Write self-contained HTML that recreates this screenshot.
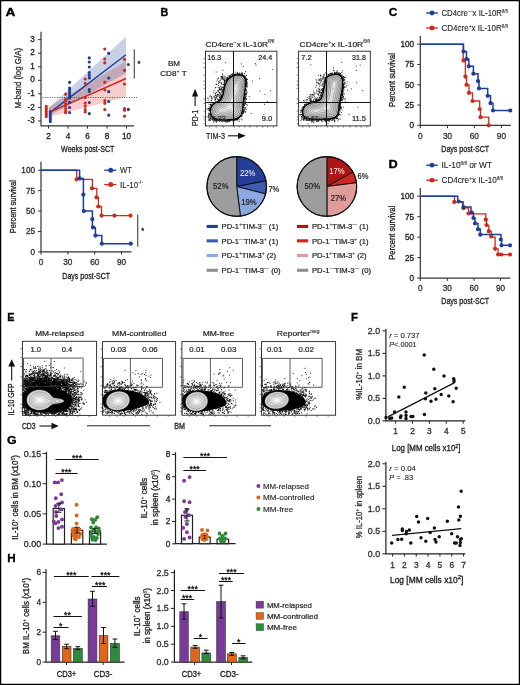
<!DOCTYPE html>
<html><head><meta charset="utf-8"><style>
html,body{margin:0;padding:0;background:#fff;}
svg{display:block;font-family:"Liberation Sans", sans-serif;}
</style></head><body>
<svg width="520" height="685" viewBox="0 0 520 685">
<rect x="0" y="0" width="520" height="685" fill="#fff"/>
<text x="5.45" y="16.2" font-size="11.8" font-weight="bold" fill="#000" stroke="#000" stroke-width="0.35" textLength="9.90" lengthAdjust="spacingAndGlyphs">A</text>
<text x="160.45" y="15.8" font-size="11.8" font-weight="bold" fill="#000" stroke="#000" stroke-width="0.35" textLength="7.80" lengthAdjust="spacingAndGlyphs">B</text>
<text x="388.84999999999997" y="15.9" font-size="11.8" font-weight="bold" fill="#000" stroke="#000" stroke-width="0.35" textLength="8.60" lengthAdjust="spacingAndGlyphs">C</text>
<text x="388.45" y="167.8" font-size="11.8" font-weight="bold" fill="#000" stroke="#000" stroke-width="0.35" textLength="9.20" lengthAdjust="spacingAndGlyphs">D</text>
<text x="7.3500000000000005" y="320.6" font-size="11.8" font-weight="bold" fill="#000" stroke="#000" stroke-width="0.35" textLength="7.20" lengthAdjust="spacingAndGlyphs">E</text>
<text x="350.95" y="320.6" font-size="11.8" font-weight="bold" fill="#000" stroke="#000" stroke-width="0.35" textLength="6.90" lengthAdjust="spacingAndGlyphs">F</text>
<text x="6.95" y="443.6" font-size="11.8" font-weight="bold" fill="#000" stroke="#000" stroke-width="0.35" textLength="9.60" lengthAdjust="spacingAndGlyphs">G</text>
<text x="7.3500000000000005" y="561.7" font-size="11.8" font-weight="bold" fill="#000" stroke="#000" stroke-width="0.35" textLength="8.40" lengthAdjust="spacingAndGlyphs">H</text>
<polygon points="48.7,108 126,36.5 126,73.2 48.7,116" fill="#c9d1e7"/>
<polygon points="48.7,107 126,61.3 126,96.9 48.7,117" fill="#f3c6c2" fill-opacity="0.85" style="mix-blend-mode:multiply"/>
<line x1="42.5" y1="97.5" x2="137" y2="97.5" stroke="#444" stroke-width="0.9" stroke-dasharray="1 1.4"/>
<line x1="51.5" y1="111.4" x2="126" y2="54.8" stroke="#1f3d9a" stroke-width="1.4"/>
<line x1="51.5" y1="111.4" x2="126" y2="78.5" stroke="#d2281c" stroke-width="1.4"/>
<path d="M46.3 106.3h0M46.3 108.3h0M46.3 110.0h0M46.3 111.5h0M46.3 113.0h0M46.3 114.6h0M46.3 116.6h0M65.6 94.2h0M65.6 99.6h0M65.6 101.0h0M65.6 104.0h0M65.6 106.0h0M65.6 108.3h0M65.6 111.0h0M65.6 112.7h0M85.2 79.0h0M85.2 83.3h0M85.2 97.5h0M85.2 103.0h0M85.2 106.2h0M85.2 109.6h0M85.2 112.0h0M104.8 49.0h0M104.8 59.0h0M104.8 62.8h0M104.8 82.2h0M104.8 89.8h0M104.8 100.6h0M104.8 103.3h0M104.8 109.6h0M124.5 59.4h0M124.5 70.3h0M124.5 84.0h0M124.5 108.5h0M124.5 110.2h0M124.5 116.2h0" stroke="#d2281c" stroke-width="3.2" stroke-linecap="round" fill="none"/>
<path d="M50.3 111.7h0M50.3 113.3h0M50.3 115.0h0M50.3 116.6h0M50.3 118.2h0M50.3 119.8h0M50.3 121.5h0M69.6 82.3h0M69.6 88.0h0M69.6 89.8h0M69.6 92.0h0M69.6 94.0h0M69.6 96.0h0M69.6 98.0h0M69.6 102.3h0M69.6 107.5h0M69.6 112.5h0M89.3 57.9h0M89.3 62.0h0M89.3 67.0h0M89.3 72.5h0M89.3 75.4h0M89.3 78.0h0M89.3 89.6h0M89.3 91.5h0M89.3 102.5h0M89.3 113.6h0M108.7 53.3h0M108.7 78.0h0M108.7 91.7h0M108.7 101.5h0M108.7 115.2h0M128.3 64.5h0M128.3 109.4h0" stroke="#1f3d9a" stroke-width="3.2" stroke-linecap="round" fill="none"/>
<path d="M41 31.8V125.8H134" stroke="#333" stroke-width="1.2" fill="none"/>
<line x1="38" y1="120.95" x2="41" y2="120.95" stroke="#333" stroke-width="1"/>
<text x="34.8" y="123.05" font-size="8.2" text-anchor="end" fill="#222" stroke="#222" stroke-width="0.32">-3</text>
<line x1="38" y1="107.4" x2="41" y2="107.4" stroke="#333" stroke-width="1"/>
<text x="34.8" y="109.5" font-size="8.2" text-anchor="end" fill="#222" stroke="#222" stroke-width="0.32">-2</text>
<line x1="38" y1="93.85" x2="41" y2="93.85" stroke="#333" stroke-width="1"/>
<text x="34.8" y="95.94999999999999" font-size="8.2" text-anchor="end" fill="#222" stroke="#222" stroke-width="0.32">-1</text>
<line x1="38" y1="80.3" x2="41" y2="80.3" stroke="#333" stroke-width="1"/>
<text x="34.8" y="82.39999999999999" font-size="8.2" text-anchor="end" fill="#222" stroke="#222" stroke-width="0.32">0</text>
<line x1="38" y1="66.75" x2="41" y2="66.75" stroke="#333" stroke-width="1"/>
<text x="34.8" y="68.85" font-size="8.2" text-anchor="end" fill="#222" stroke="#222" stroke-width="0.32">1</text>
<line x1="38" y1="53.199999999999996" x2="41" y2="53.199999999999996" stroke="#333" stroke-width="1"/>
<text x="34.8" y="55.3" font-size="8.2" text-anchor="end" fill="#222" stroke="#222" stroke-width="0.32">2</text>
<line x1="38" y1="39.64999999999999" x2="41" y2="39.64999999999999" stroke="#333" stroke-width="1"/>
<text x="34.8" y="41.74999999999999" font-size="8.2" text-anchor="end" fill="#222" stroke="#222" stroke-width="0.32">3</text>
<line x1="48.5" y1="125.8" x2="48.5" y2="128.6" stroke="#333" stroke-width="1"/>
<text x="48.5" y="139.2" font-size="8.2" text-anchor="middle" fill="#222" stroke="#222" stroke-width="0.32">2</text>
<line x1="68.0" y1="125.8" x2="68.0" y2="128.6" stroke="#333" stroke-width="1"/>
<text x="68.0" y="139.2" font-size="8.2" text-anchor="middle" fill="#222" stroke="#222" stroke-width="0.32">4</text>
<line x1="87.5" y1="125.8" x2="87.5" y2="128.6" stroke="#333" stroke-width="1"/>
<text x="87.5" y="139.2" font-size="8.2" text-anchor="middle" fill="#222" stroke="#222" stroke-width="0.32">6</text>
<line x1="107.0" y1="125.8" x2="107.0" y2="128.6" stroke="#333" stroke-width="1"/>
<text x="107.0" y="139.2" font-size="8.2" text-anchor="middle" fill="#222" stroke="#222" stroke-width="0.32">8</text>
<line x1="126.5" y1="125.8" x2="126.5" y2="128.6" stroke="#333" stroke-width="1"/>
<text x="126.5" y="139.2" font-size="8.2" text-anchor="middle" fill="#222" stroke="#222" stroke-width="0.32">10</text>
<text x="87.7" y="152.4" font-size="9.5" text-anchor="middle" fill="#222" stroke="#222" stroke-width="0.32" textLength="53.2" lengthAdjust="spacingAndGlyphs">Weeks post-SCT</text>
<text x="21.5" y="78.2" font-size="8.6" text-anchor="middle" fill="#333" stroke="#333" stroke-width="0.32" textLength="60.4" lengthAdjust="spacingAndGlyphs" transform="rotate(-90 21.5 78.2)">M-band (log G/A)</text>
<line x1="134.3" y1="49.2" x2="134.3" y2="78.6" stroke="#444" stroke-width="1.1"/>
<text x="139.0" y="65.8" font-size="7.5" text-anchor="middle" fill="#111" stroke="#111" stroke-width="0.35">*</text>
<path d="M41.0 170.2 76.7 170.2 76.7 179.3 92.4 179.3 92.4 188.3 96.8 188.3 96.8 197.4 98.4 197.4 98.4 206.5 101.5 206.5 101.5 215.6 130.8 215.6" stroke="#d2281c" stroke-width="1.3" fill="none"/>
<path d="M41.0 170.2 79.6 170.2 79.6 178.4 83.4 178.4 83.4 211.1 92.4 211.1 92.4 227.4 95.4 227.4 95.4 235.6 101.8 235.6 101.8 243.7 130.8 243.7" stroke="#1f3d9a" stroke-width="1.5" fill="none"/>
<path d="M76.5 179.3h0M92.0 188.3h0M96.5 197.4h0M98.2 206.5h0M101.5 215.6h0M114.5 215.6h0M130.5 215.6h0" stroke="#d2281c" stroke-width="4.2" stroke-linecap="round" fill="none"/>
<path d="M79.6 178.4h0M83.4 194.7h0M83.8 211.1h0M92.3 219.2h0M93.0 227.4h0M95.4 235.6h0M101.8 243.7h0M130.8 243.7h0" stroke="#1f3d9a" stroke-width="4.2" stroke-linecap="round" fill="none"/>
<path d="M41 161.8V251.9H131.5" stroke="#333" stroke-width="1.2" fill="none"/>
<line x1="38" y1="251.9" x2="41" y2="251.9" stroke="#333" stroke-width="1"/>
<text x="35" y="254.8" font-size="8.2" text-anchor="end" fill="#333" stroke="#333" stroke-width="0.32">0</text>
<line x1="38" y1="231.47500000000002" x2="41" y2="231.47500000000002" stroke="#333" stroke-width="1"/>
<text x="35" y="234.37500000000003" font-size="8.2" text-anchor="end" fill="#333" stroke="#333" stroke-width="0.32">25</text>
<line x1="38" y1="211.05" x2="41" y2="211.05" stroke="#333" stroke-width="1"/>
<text x="35" y="213.95000000000002" font-size="8.2" text-anchor="end" fill="#333" stroke="#333" stroke-width="0.32">50</text>
<line x1="38" y1="190.625" x2="41" y2="190.625" stroke="#333" stroke-width="1"/>
<text x="35" y="193.525" font-size="8.2" text-anchor="end" fill="#333" stroke="#333" stroke-width="0.32">75</text>
<line x1="38" y1="170.20000000000002" x2="41" y2="170.20000000000002" stroke="#333" stroke-width="1"/>
<text x="35" y="173.10000000000002" font-size="8.2" text-anchor="end" fill="#333" stroke="#333" stroke-width="0.32">100</text>
<line x1="41.0" y1="251.9" x2="41.0" y2="254.7" stroke="#333" stroke-width="1"/>
<text x="41.0" y="265.3" font-size="8.2" text-anchor="middle" fill="#333" stroke="#333" stroke-width="0.32">0</text>
<line x1="67.85" y1="251.9" x2="67.85" y2="254.7" stroke="#333" stroke-width="1"/>
<text x="67.85" y="265.3" font-size="8.2" text-anchor="middle" fill="#333" stroke="#333" stroke-width="0.32">30</text>
<line x1="94.7" y1="251.9" x2="94.7" y2="254.7" stroke="#333" stroke-width="1"/>
<text x="94.7" y="265.3" font-size="8.2" text-anchor="middle" fill="#333" stroke="#333" stroke-width="0.32">60</text>
<line x1="121.55" y1="251.9" x2="121.55" y2="254.7" stroke="#333" stroke-width="1"/>
<text x="121.55" y="265.3" font-size="8.2" text-anchor="middle" fill="#333" stroke="#333" stroke-width="0.32">90</text>
<text x="86.2" y="279.1" font-size="9.5" text-anchor="middle" fill="#222" stroke="#222" stroke-width="0.32" textLength="47.8" lengthAdjust="spacingAndGlyphs">Days post-SCT</text>
<text x="15.6" y="206.7" font-size="9.2" text-anchor="middle" fill="#222" stroke="#222" stroke-width="0.32" textLength="53" lengthAdjust="spacingAndGlyphs" transform="rotate(-90 15.6 206.7)">Percent survival</text>
<line x1="104.2" y1="170.2" x2="116.3" y2="170.2" stroke="#1f3d9a" stroke-width="1.3"/>
<path d="M110.7 170.2h0" stroke="#1f3d9a" stroke-width="5.0" stroke-linecap="round" fill="none"/>
<line x1="104.2" y1="184.6" x2="116.3" y2="184.6" stroke="#d2281c" stroke-width="1.3"/>
<path d="M110.7 184.6h0" stroke="#d2281c" stroke-width="5.0" stroke-linecap="round" fill="none"/>
<text x="120.1" y="173.2" font-size="8.6" text-anchor="start" fill="#222" stroke="#222" stroke-width="0.12" textLength="11.9" lengthAdjust="spacingAndGlyphs">WT</text>
<text x="120.1" y="187.6" font-size="8.6" text-anchor="start" fill="#222" stroke="#222" stroke-width="0.12" textLength="22.8" lengthAdjust="spacingAndGlyphs">IL-10<tspan font-size="5.5" stroke-width="0.08" dy="-3.5">-/-</tspan></text>
<line x1="137.7" y1="214.5" x2="137.7" y2="246.8" stroke="#444" stroke-width="1.1"/>
<text x="142.6" y="233.1" font-size="7.5" text-anchor="middle" fill="#111" stroke="#111" stroke-width="0.35">*</text>
<text x="205.5" y="46.5" font-size="7.8" text-anchor="start" fill="#222" stroke="#222" stroke-width="0.2" textLength="69" lengthAdjust="spacingAndGlyphs">CD4cre<tspan font-size="5" stroke-width="0.08" dy="-3">−</tspan><tspan dy="3">x IL-10R</tspan><tspan font-size="4.8" stroke-width="0.08" dy="-3.2">fl/fl</tspan></text>
<text x="299.6" y="46.5" font-size="7.8" text-anchor="start" fill="#222" stroke="#222" stroke-width="0.2" textLength="70.2" lengthAdjust="spacingAndGlyphs">CD4cre<tspan font-size="5" stroke-width="0.08" dy="-3">+</tspan><tspan dy="3">x IL-10R</tspan><tspan font-size="4.8" stroke-width="0.08" dy="-3.2">fl/fl</tspan></text>
<text x="174" y="66" font-size="7.6" text-anchor="middle" fill="#222" stroke="#222" stroke-width="0.2" textLength="12.1" lengthAdjust="spacingAndGlyphs">BM</text>
<text x="173.5" y="75.6" font-size="7.6" text-anchor="middle" fill="#222" stroke="#222" stroke-width="0.2" textLength="26.5" lengthAdjust="spacingAndGlyphs">CD8<tspan font-size="5" stroke-width="0.08" dy="-3">+</tspan><tspan dy="3"> T</tspan></text>
<text x="197.8" y="118" font-size="8.4" text-anchor="middle" fill="#222" stroke="#222" stroke-width="0.2" textLength="16.2" lengthAdjust="spacingAndGlyphs" transform="rotate(-90 197.8 118)">PD-1</text>
<line x1="195.1" y1="106" x2="195.1" y2="94" stroke="#111" stroke-width="1.1"/>
<polygon points="195.1,88.8 192,96.5 198.2,96.5" fill="#111"/>
<text x="215.5" y="138.5" font-size="8.4" text-anchor="middle" fill="#222" stroke="#222" stroke-width="0.2" textLength="19" lengthAdjust="spacingAndGlyphs">TIM-3</text>
<line x1="228" y1="135.8" x2="240" y2="135.8" stroke="#111" stroke-width="1.1"/>
<polygon points="245.8,135.8 238,132.7 238,138.9" fill="#111"/>
<clipPath id="b1"><rect x="205.5" y="51.2" width="71.39999999999998" height="74.7"/></clipPath>
<g clip-path="url(#b1)">
<path d="M216.4 120.1h0M216.5 97.8h0M216.1 84.4h0M209.5 110.8h0M227.7 79.7h0M232.2 120.0h0M242.3 111.3h0M229.4 75.8h0M245.5 84.4h0M221.7 87.0h0M244.2 77.3h0M230.8 75.2h0M211.9 105.5h0M245.5 79.9h0M219.4 121.3h0M223.7 89.4h0M244.8 95.1h0M213.2 103.7h0M216.9 102.4h0M218.1 99.9h0M223.6 84.5h0M219.9 95.0h0M247.5 79.5h0M216.7 92.7h0M209.7 119.2h0M243.7 98.5h0M210.6 114.0h0M212.8 118.0h0M208.6 115.6h0M225.3 85.1h0M245.6 101.7h0M211.7 98.7h0M223.9 77.8h0M244.2 104.2h0M246.6 96.1h0M210.1 112.2h0M243.2 102.0h0M224.7 86.4h0M218.5 120.3h0M242.3 119.8h0M244.5 105.1h0M215.6 87.8h0M230.7 76.3h0M218.7 78.2h0M237.8 118.1h0M224.4 80.0h0M209.8 108.1h0M227.2 80.8h0M245.6 78.5h0M216.0 102.2h0M211.4 98.1h0M223.5 120.3h0M237.9 118.5h0M235.4 119.5h0M242.2 73.3h0M213.4 102.5h0M247.1 92.4h0M214.4 103.2h0M236.7 119.4h0M220.0 100.6h0M225.5 120.1h0M218.5 120.4h0M215.2 118.8h0M218.6 100.0h0M243.3 104.3h0M219.8 87.5h0M226.0 83.0h0M226.0 81.6h0M224.1 90.9h0M216.8 102.0h0M245.5 77.1h0M218.3 87.7h0M214.4 103.8h0M222.3 96.5h0M246.3 82.4h0M225.1 84.3h0M221.5 121.1h0M208.4 115.2h0M223.7 90.1h0M212.7 105.1h0M232.3 74.9h0M219.6 100.3h0M224.0 92.0h0M237.5 73.5h0M220.6 97.0h0M212.2 105.2h0M246.3 81.4h0M210.6 118.4h0M224.0 84.3h0M210.2 95.3h0M215.2 98.7h0M226.4 81.6h0M235.0 119.0h0M210.3 104.7h0M245.2 80.1h0M245.0 89.5h0M224.5 88.7h0M210.3 111.1h0M216.0 92.1h0M228.3 121.1h0M219.6 97.4h0M244.4 96.0h0M219.5 88.9h0M219.5 100.9h0M242.0 113.4h0M212.2 118.7h0M237.3 119.2h0M225.7 119.7h0M221.6 82.7h0M244.6 95.6h0M234.3 74.2h0M223.2 84.6h0M246.4 79.8h0M213.7 103.9h0M228.1 80.0h0M214.2 102.6h0M224.4 78.1h0M233.6 75.8h0M246.1 78.1h0M219.0 100.7h0M214.1 103.6h0M234.9 74.3h0M223.9 89.5h0M224.6 82.2h0M220.0 89.2h0M221.3 88.7h0M224.6 84.6h0M245.5 79.4h0M215.2 119.0h0M245.5 83.5h0M211.8 117.9h0M211.1 115.2h0M241.9 75.6h0M222.7 74.9h0M208.4 108.3h0M210.3 116.0h0M246.6 81.4h0M233.2 119.3h0M224.2 84.2h0M244.9 77.3h0M211.9 116.2h0M243.6 102.4h0M220.2 82.6h0M245.3 83.9h0M216.7 119.8h0M243.2 106.9h0M224.1 89.9h0M243.0 105.8h0M221.3 76.8h0M239.3 121.4h0M231.1 77.3h0M220.4 99.3h0M233.2 121.3h0M218.4 94.6h0M246.3 93.6h0M246.5 99.1h0M215.4 98.9h0M219.5 97.3h0M229.0 78.9h0M241.9 75.2h0M230.1 77.9h0M208.7 108.7h0M209.2 114.7h0M245.6 103.9h0M219.3 100.8h0M226.0 122.7h0M243.3 102.4h0M238.4 117.7h0M237.1 119.1h0M228.5 78.0h0M218.5 83.6h0M213.6 117.8h0M245.8 98.6h0M245.7 90.9h0M244.6 93.9h0M220.3 99.8h0M213.4 92.7h0M240.1 74.6h0M213.8 120.7h0M222.2 97.4h0M220.8 120.0h0M225.5 83.8h0M225.0 85.4h0M230.5 119.6h0M245.6 82.8h0M227.4 80.3h0M224.6 87.5h0M215.8 95.2h0M242.7 112.9h0M243.2 102.8h0M235.7 118.7h0M220.9 76.9h0M244.9 92.8h0M237.9 74.8h0M209.3 108.8h0M209.1 114.4h0M228.8 78.3h0M221.7 119.7h0M244.6 92.1h0M244.9 98.2h0M238.4 118.0h0M237.7 119.2h0M215.4 118.9h0M233.9 75.5h0M226.4 80.9h0M243.0 113.2h0M211.2 106.4h0M244.0 97.4h0M214.4 103.0h0M222.6 91.5h0M220.1 119.7h0M244.7 104.9h0M211.4 115.0h0M228.7 78.6h0M246.0 89.7h0M243.5 104.6h0M219.7 120.2h0M245.2 86.6h0M234.3 74.5h0M217.2 101.6h0M206.8 108.5h0M209.6 119.4h0M243.1 103.0h0M244.1 99.0h0M227.5 79.6h0M242.7 110.0h0M244.7 91.0h0M239.7 75.0h0M230.1 75.8h0M244.6 77.4h0M223.2 93.2h0M222.4 74.0h0M246.3 83.1h0M224.5 86.0h0M222.4 94.7h0M215.1 99.8h0M212.3 118.3h0M241.8 73.9h0M229.7 119.8h0M239.1 117.4h0M213.4 119.0h0M245.6 82.8h0M245.2 88.5h0M210.9 104.3h0M215.6 93.8h0M225.8 120.6h0M214.1 90.5h0M245.9 86.1h0M225.3 84.5h0M221.0 97.2h0M227.8 120.1h0M210.8 107.9h0M243.8 103.3h0M236.8 119.4h0M245.7 80.6h0M225.7 119.8h0M226.5 79.6h0M230.1 119.7h0M235.2 74.2h0M220.5 119.7h0M221.7 98.0h0M243.3 112.7h0M239.2 74.6h0M224.6 120.0h0M214.7 97.2h0M220.6 98.0h0M242.9 107.4h0M244.5 95.5h0M242.3 74.7h0M245.6 93.8h0M223.2 92.1h0M238.9 74.6h0M219.2 101.1h0M229.0 119.8h0M230.2 77.6h0M242.9 75.5h0M211.3 105.7h0M226.7 82.1h0M243.5 76.5h0M223.6 84.4h0M218.9 99.8h0M214.5 103.6h0M223.6 92.1h0M218.1 100.9h0M241.4 115.6h0M251.1 113.6h0M224.6 81.9h0M224.1 80.7h0M242.6 113.4h0M230.4 77.3h0M210.2 115.2h0M217.5 121.0h0M208.0 98.6h0M219.2 90.0h0M212.9 117.8h0M246.8 79.4h0M208.8 110.2h0M212.6 116.8h0M224.5 87.0h0M241.7 73.7h0M243.7 104.9h0M224.0 88.2h0M229.1 76.9h0M245.8 89.8h0M235.0 119.8h0M222.6 76.6h0M222.4 91.7h0M233.9 120.9h0M243.6 99.8h0M243.9 103.5h0M218.4 92.0h0M228.0 120.4h0M227.3 120.0h0M244.3 73.3h0M222.4 90.7h0M227.2 80.2h0M224.8 119.9h0M210.2 109.4h0M242.0 114.6h0M210.2 111.1h0M226.5 81.2h0M225.4 119.8h0M242.7 74.2h0M242.9 107.1h0M207.1 116.9h0M241.8 74.3h0M245.0 95.0h0M222.1 87.3h0M240.7 116.5h0M232.7 119.4h0M227.1 80.8h0M239.4 74.7h0M237.5 74.9h0M211.5 100.8h0M210.3 117.5h0M224.4 120.2h0M223.7 91.6h0M217.4 79.2h0M220.7 94.7h0M225.0 121.3h0M242.2 115.7h0M214.1 96.4h0M243.5 101.5h0M223.9 88.5h0M221.0 79.0h0M237.1 73.7h0M237.9 74.1h0M221.4 95.1h0M244.6 75.2h0M228.9 121.2h0M218.0 119.8h0M243.0 75.9h0M244.9 109.5h0M221.2 98.9h0M216.5 121.1h0M218.4 81.7h0M223.4 79.5h0M244.0 103.0h0M242.1 74.5h0M222.5 96.9h0M245.1 103.3h0M245.8 80.6h0M243.0 112.7h0M222.0 120.4h0M222.2 97.7h0M227.1 121.1h0M226.6 80.4h0M224.1 88.4h0M221.9 79.4h0M244.7 78.3h0M216.8 120.2h0M245.3 97.8h0M245.5 86.0h0M223.2 94.5h0M244.0 97.5h0M222.0 95.1h0M228.7 119.6h0M237.4 75.0h0M220.2 80.7h0M222.6 91.4h0M224.8 80.8h0M235.6 75.4h0M213.9 119.2h0M232.3 119.4h0M227.1 81.6h0M222.2 97.5h0M226.4 81.5h0M219.3 100.9h0M219.4 93.0h0M231.8 119.5h0M218.1 95.1h0M246.3 85.2h0M230.9 76.6h0M235.5 74.9h0M222.4 78.4h0M219.9 121.2h0M246.3 84.4h0M210.4 109.5h0M243.7 75.9h0M224.7 120.1h0M215.6 95.5h0M245.3 84.4h0M216.3 96.4h0M222.2 119.8h0M243.3 101.6h0M227.0 77.8h0M218.2 78.0h0M237.4 119.5h0M211.2 96.6h0M227.4 121.6h0M243.9 111.2h0M222.9 95.5h0M244.1 100.3h0M244.0 77.0h0M245.1 85.8h0M210.8 108.3h0M225.8 78.9h0M216.6 119.0h0M233.4 119.1h0M223.9 86.2h0M221.3 92.4h0M214.6 119.7h0M242.9 111.0h0M244.0 111.4h0M217.9 90.7h0M216.8 96.5h0M242.5 109.0h0M245.4 96.1h0M244.6 94.2h0M240.8 116.1h0M243.4 107.5h0M217.3 99.2h0M238.1 74.1h0M241.1 74.9h0M229.5 121.1h0M243.6 101.5h0M222.9 92.2h0M212.9 105.0h0M219.5 92.4h0M220.8 93.5h0M212.2 106.2h0M243.6 76.6h0M237.5 72.7h0M241.8 75.4h0M223.2 87.6h0M246.0 84.0h0M237.9 74.2h0M212.4 119.5h0M219.9 100.4h0M230.1 77.9h0M211.1 114.3h0M222.8 119.8h0M209.8 108.4h0M224.4 80.7h0M243.1 111.8h0M243.5 106.6h0M210.3 113.8h0M223.2 93.2h0M245.6 89.2h0M231.5 76.9h0M211.0 106.2h0M226.7 119.9h0M217.3 102.2h0M224.2 88.5h0M218.2 90.8h0M211.8 116.7h0M228.7 120.2h0M226.1 79.6h0M224.2 88.1h0M246.8 83.4h0M238.7 74.9h0M211.0 105.3h0M246.6 91.3h0M227.9 80.2h0M242.8 75.3h0M234.3 119.9h0M244.8 101.8h0M241.2 118.9h0M215.1 120.0h0M219.9 99.3h0M232.6 73.9h0M214.4 119.1h0M245.4 86.3h0M218.6 85.6h0M218.8 120.2h0M221.8 90.8h0M222.3 97.6h0M243.9 97.8h0M210.0 113.9h0M217.7 95.1h0M245.5 79.3h0M245.7 85.2h0M208.2 100.4h0M209.0 104.3h0M245.5 79.0h0M215.0 100.2h0M222.3 77.4h0M214.2 96.2h0M244.2 97.6h0M236.5 119.9h0M246.6 87.2h0M211.5 107.5h0M234.7 75.0h0M224.9 86.2h0M245.1 94.0h0M215.9 120.0h0M224.4 86.9h0M244.6 98.9h0M245.0 79.6h0M221.4 83.8h0M239.1 73.9h0M226.0 83.0h0M223.6 90.6h0M240.8 73.9h0M232.5 75.7h0M246.0 81.9h0M217.7 102.1h0M209.9 108.5h0M211.0 104.2h0M246.4 75.4h0M245.2 99.1h0M244.6 78.1h0M212.9 97.8h0M224.2 120.4h0M213.3 104.2h0M225.9 119.9h0M239.4 73.7h0M232.0 74.2h0M218.1 120.2h0M229.3 77.2h0M237.9 118.6h0M231.7 120.1h0M221.1 95.9h0M242.9 107.1h0M229.7 120.4h0M241.8 112.9h0M220.2 86.5h0M218.2 120.2h0M235.9 74.8h0M215.6 120.0h0M231.1 76.9h0M245.0 88.7h0M245.3 84.1h0M243.0 75.9h0M218.6 101.2h0M219.6 100.8h0M216.8 98.0h0M232.7 119.8h0M245.3 76.5h0M244.0 77.3h0M219.3 99.3h0M244.5 76.6h0M231.2 119.6h0M245.3 83.0h0M225.1 84.9h0M212.6 105.1h0M214.2 118.3h0M207.9 98.1h0M210.0 113.6h0M239.7 73.0h0M223.5 120.2h0M244.4 94.0h0M221.5 76.5h0M210.0 118.6h0M231.8 74.5h0M237.6 120.1h0M246.0 78.9h0M245.3 90.8h0M246.0 85.1h0M244.5 97.9h0M243.1 104.5h0M209.6 108.9h0M244.9 94.3h0M237.4 73.3h0M246.5 81.0h0M238.5 118.2h0M228.1 76.1h0M225.0 120.2h0M246.1 80.1h0M224.5 87.5h0M235.7 74.8h0M221.5 96.1h0M230.8 120.8h0M243.0 111.3h0M212.5 105.6h0M216.5 122.2h0M208.7 113.3h0M226.3 121.1h0M215.9 102.8h0M247.0 83.1h0M210.7 107.5h0M246.4 78.8h0M246.4 109.2h0M246.2 93.0h0M210.9 107.8h0M210.4 110.2h0M245.5 97.1h0M218.5 120.4h0M249.3 96.4h0M247.1 86.7h0M223.6 87.6h0M244.6 77.1h0M244.0 107.5h0M223.1 120.8h0M230.2 76.5h0M222.2 96.2h0M224.6 82.0h0M229.9 77.2h0M228.3 120.7h0M227.6 78.3h0M215.4 99.7h0M213.1 117.9h0M245.3 100.6h0M223.6 89.9h0M243.5 76.7h0M228.0 78.7h0M224.8 121.4h0M235.7 72.2h0M209.9 109.5h0M211.2 100.4h0M224.4 85.7h0M244.2 99.8h0M222.4 91.8h0M219.8 92.9h0M227.6 79.2h0M223.4 91.2h0M246.2 90.3h0M228.1 120.7h0M222.7 78.3h0M227.8 80.3h0M238.8 117.7h0M221.5 120.0h0M225.2 85.6h0M218.7 101.0h0M225.5 121.5h0M232.6 75.4h0M234.3 75.4h0M245.2 112.5h0M227.7 120.1h0M225.0 86.0h0M243.5 111.8h0M212.8 104.3h0M213.0 118.9h0M228.8 120.0h0M244.4 98.2h0M224.4 83.0h0M231.2 120.2h0M215.6 102.0h0M213.3 104.0h0M242.1 72.7h0M221.8 77.0h0M225.1 84.4h0M216.9 95.2h0M245.3 93.5h0M220.6 89.2h0M241.4 116.4h0M219.7 100.9h0M229.5 77.0h0M222.7 119.7h0M235.8 120.0h0M246.0 84.6h0M210.9 107.6h0M219.1 82.6h0M215.4 121.1h0M225.2 76.6h0M221.8 77.8h0M210.0 114.3h0M212.7 105.2h0M240.7 116.2h0M245.7 82.7h0M222.6 87.8h0M225.1 84.4h0M243.9 99.4h0M227.5 79.9h0M224.7 80.0h0M210.7 108.0h0M227.0 78.5h0M225.9 77.9h0M228.4 79.3h0M244.2 76.9h0M227.8 119.7h0M245.4 97.1h0M227.7 119.9h0M234.0 75.6h0M243.0 107.0h0M220.6 90.1h0M209.8 106.5h0M245.5 94.5h0M239.7 116.9h0M240.3 75.2h0M225.5 80.8h0M225.1 85.1h0M244.3 100.0h0M221.6 89.2h0M226.6 81.1h0M209.2 110.1h0M238.1 118.7h0M214.4 121.1h0M216.6 84.3h0M223.5 87.3h0M221.1 97.1h0M244.2 97.5h0M244.3 76.3h0M211.5 115.7h0M211.9 98.8h0M245.7 84.4h0M221.5 96.7h0M245.6 78.9h0M214.8 103.5h0M215.1 93.6h0M219.9 96.9h0M245.5 71.7h0M243.9 96.6h0M231.6 75.0h0M246.2 78.8h0M215.9 102.2h0M222.3 78.0h0M221.7 83.6h0M210.9 115.4h0M210.4 113.4h0M232.5 119.2h0M243.3 111.7h0M244.0 77.0h0M227.3 80.5h0M242.9 109.6h0M207.9 109.7h0M246.3 104.6h0M211.0 108.4h0M243.6 109.4h0M217.9 120.3h0M244.1 77.4h0M214.0 103.6h0M231.5 76.7h0M220.6 98.7h0M243.5 100.8h0M245.6 81.0h0M222.4 121.8h0M224.2 89.4h0M221.2 95.9h0M243.3 112.9h0M243.1 110.3h0M246.2 99.3h0M239.0 74.6h0M220.0 95.0h0M213.2 103.2h0M245.6 81.2h0M244.4 102.4h0M243.8 111.4h0M217.1 119.2h0M209.8 96.7h0M243.5 101.6h0M243.4 104.5h0M245.4 86.8h0M224.1 90.7h0M235.2 119.4h0M246.8 81.0h0M221.4 97.6h0M218.3 101.7h0M244.5 110.0h0M220.7 98.8h0M214.7 118.5h0M221.9 97.5h0M230.1 119.7h0M211.2 114.5h0M235.2 118.8h0M245.8 111.5h0M210.8 108.9h0M224.0 75.9h0M213.6 122.2h0M220.7 120.0h0M220.9 98.9h0M222.7 77.4h0M211.8 102.6h0M242.7 110.0h0M222.9 94.4h0M230.1 120.7h0M214.9 118.9h0M228.4 120.6h0M222.5 89.8h0M240.0 75.3h0M244.3 77.1h0M236.8 118.5h0M234.2 120.5h0M215.1 97.6h0M246.0 89.3h0M211.7 106.9h0M246.5 94.6h0M212.3 116.6h0M243.2 109.6h0M221.4 120.0h0M243.2 105.0h0M243.7 98.2h0M238.8 118.4h0M218.2 91.1h0M224.3 82.0h0M219.2 98.8h0M213.0 118.1h0M246.3 85.7h0M223.2 78.9h0M235.6 118.9h0M229.1 121.1h0M227.4 77.4h0M230.8 77.1h0M216.9 80.9h0M232.7 119.6h0M211.7 106.2h0M239.2 74.9h0M244.3 98.6h0M229.2 120.7h0M232.9 120.6h0M227.3 120.6h0M217.9 96.3h0M222.3 94.4h0M219.3 88.9h0M217.1 120.6h0M242.7 111.8h0M219.5 89.7h0M227.7 122.0h0M239.9 116.8h0M243.8 101.2h0M215.1 119.0h0M246.3 80.7h0M210.6 111.2h0M232.5 76.4h0M247.3 84.7h0M217.8 94.7h0M219.8 81.0h0M221.0 89.4h0M233.5 121.3h0M244.5 78.1h0M245.3 93.3h0M244.3 99.3h0M234.3 119.8h0M239.1 119.8h0M243.2 105.3h0M220.8 100.0h0M234.1 119.2h0M246.2 83.3h0M245.3 108.5h0M235.4 74.4h0M215.7 87.5h0M226.1 119.7h0M215.4 119.1h0M210.9 105.8h0M235.2 119.7h0M239.4 117.7h0M246.6 85.5h0M221.7 89.7h0M223.3 121.1h0M211.3 96.9h0M243.9 97.4h0M230.1 77.9h0M243.8 76.0h0M211.9 116.2h0M246.8 82.8h0M212.4 117.1h0M223.3 93.3h0M243.3 111.9h0M216.8 84.5h0M244.4 105.5h0M220.7 99.4h0M245.7 84.7h0M245.3 103.3h0M213.8 117.9h0M243.8 108.1h0M240.4 75.2h0M247.1 86.4h0M216.3 118.9h0M217.6 120.0h0M244.0 98.6h0M245.1 98.2h0M245.2 78.8h0M232.6 75.4h0M215.4 102.2h0M236.5 74.3h0M234.7 74.9h0M210.4 114.9h0M213.4 104.7h0M214.2 119.5h0M223.1 120.3h0M246.7 82.7h0M217.4 102.2h0M226.1 83.1h0M218.1 101.8h0M211.1 104.8h0M226.7 120.1h0M240.0 116.4h0M221.7 98.6h0M234.2 74.6h0M224.6 83.0h0M224.2 88.4h0M221.0 120.4h0M230.3 75.8h0M216.2 72.0h0M264.9 94.3h0M270.4 90.8h0M259.5 78.6h0M267.4 101.4h0M233.3 88.5h0M272.8 69.6h0M245.7 107.5h0M219.7 97.1h0M247.4 105.2h0M212.4 114.8h0M259.8 91.0h0M256.0 65.1h0M263.8 114.7h0M255.3 63.6h0M225.3 62.8h0M222.9 70.3h0M241.4 63.9h0M225.0 100.6h0M233.0 78.0h0M252.5 81.1h0M243.6 110.2h0M264.5 104.4h0M243.2 66.4h0M227.8 100.3h0" stroke="#111" stroke-width="0.84" stroke-linecap="square" fill="none"/>
<path d="M224.8 119.8L224.4 119.8L224.0 119.8L223.6 119.8L223.4 119.7L223.0 119.7L222.6 119.7L222.2 119.7L221.9 119.7L221.5 119.7L221.1 119.6L220.9 119.6L220.5 119.6L220.1 119.5L219.9 119.4L219.5 119.4L219.1 119.3L218.9 119.3L218.5 119.3L218.1 119.2L217.9 119.2L217.5 119.2L217.1 119.1L216.9 119.1L216.6 118.9L216.3 118.8L216.0 118.8L215.8 118.7L215.5 118.6L215.1 118.5L214.9 118.4L214.6 118.3L214.4 118.2L214.1 118.1L213.9 117.8L213.8 117.7L213.5 117.6L213.3 117.3L213.1 117.2L212.9 117.1L212.6 116.8L212.5 116.7L212.3 116.5L212.1 116.2L212.0 116.0L211.9 115.8L211.8 115.6L211.6 115.3L211.5 115.1L211.4 114.8L211.2 114.6L211.1 114.3L211.0 114.0L210.9 113.7L210.9 113.4L210.8 113.1L210.8 112.7L210.6 112.5L210.6 112.1L210.5 111.8L210.5 111.5L210.5 111.1L210.5 110.7L210.6 110.5L210.6 110.1L210.8 109.7L210.8 109.5L210.9 109.1L210.9 108.8L211.0 108.5L211.0 108.2L211.1 108.0L211.3 107.7L211.4 107.5L211.5 107.1L211.6 106.8L211.8 106.6L211.9 106.5L212.0 106.2L212.1 106.0L212.3 105.7L212.5 105.5L212.6 105.3L212.9 105.1L213.0 105.0L213.2 104.7L213.4 104.6L213.6 104.5L213.9 104.2L214.0 104.1L214.2 103.8L214.4 103.7L214.6 103.6L214.9 103.3L215.1 103.2L215.4 103.1L215.6 103.0L215.9 102.8L216.1 102.7L216.4 102.6L216.6 102.5L216.9 102.3L217.0 102.2L217.3 102.1L217.6 102.0L217.9 101.8L218.1 101.7L218.4 101.6L218.6 101.5L218.9 101.3L219.0 101.2L219.3 101.1L219.5 101.0L219.8 100.7L220.0 100.6L220.2 100.5L220.4 100.3L220.6 100.1L220.8 100.0L220.9 99.7L221.1 99.5L221.2 99.2L221.4 99.0L221.5 98.8L221.6 98.6L221.8 98.3L222.0 98.1L222.1 97.8L222.2 97.6L222.3 97.3L222.4 97.1L222.5 96.7L222.5 96.5L222.6 96.2L222.8 96.0L222.9 95.6L223.0 95.3L223.1 95.1L223.1 94.8L223.2 94.5L223.3 94.2L223.4 93.8L223.4 93.6L223.5 93.3L223.6 93.0L223.6 92.7L223.8 92.5L223.8 92.1L223.9 91.8L223.9 91.5L224.0 91.1L224.0 90.8L224.0 90.5L224.1 90.2L224.1 89.8L224.2 89.5L224.3 89.2L224.3 88.8L224.4 88.6L224.4 88.2L224.5 88.0L224.5 87.6L224.6 87.3L224.8 87.0L224.8 86.7L224.9 86.5L224.9 86.1L225.0 85.8L225.1 85.6L225.2 85.2L225.4 85.0L225.4 84.7L225.5 84.5L225.6 84.2L225.8 84.0L225.9 83.7L226.0 83.5L226.1 83.2L226.3 83.0L226.4 82.7L226.5 82.5L226.6 82.2L226.8 82.0L226.9 81.7L227.0 81.5L227.2 81.2L227.4 81.0L227.5 80.8L227.6 80.6L227.8 80.3L227.9 80.1L228.1 79.8L228.3 79.7L228.4 79.5L228.6 79.2L228.8 79.1L229.0 78.8L229.1 78.7L229.4 78.5L229.5 78.3L229.8 78.1L229.9 78.0L230.1 77.8L230.4 77.6L230.6 77.5L230.9 77.3L231.0 77.2L231.3 77.1L231.5 76.8L231.8 76.7L232.0 76.6L232.1 76.5L232.5 76.3L232.8 76.2L233.0 76.1L233.2 76.0L233.6 76.0L233.9 75.8L234.1 75.7L234.4 75.6L234.6 75.6L235.0 75.5L235.2 75.3L235.6 75.3L235.9 75.2L236.2 75.2L236.5 75.1L236.9 75.1L237.2 75.1L237.5 75.0L237.9 75.0L238.2 75.1L238.5 75.1L238.9 75.1L239.2 75.1L239.5 75.2L239.9 75.2L240.1 75.3L240.5 75.3L240.8 75.5L241.1 75.6L241.4 75.6L241.6 75.7L242.0 75.8L242.2 76.0L242.5 76.1L242.6 76.2L242.9 76.3L243.2 76.5L243.4 76.7L243.5 76.8L243.8 77.0L244.0 77.2L244.1 77.5L244.2 77.6L244.4 78.0L244.5 78.2L244.6 78.5L244.7 78.7L244.9 79.0L244.9 79.2L245.0 79.6L245.1 79.8L245.1 80.2L245.2 80.5L245.2 80.8L245.2 81.2L245.2 81.6L245.2 82.0L245.2 82.3L245.2 82.7L245.2 83.1L245.2 83.5L245.2 83.8L245.2 84.2L245.2 84.6L245.1 84.9L245.1 85.2L245.1 85.6L245.1 86.0L245.1 86.3L245.1 86.7L245.0 87.0L245.0 87.3L245.0 87.7L245.0 88.1L245.0 88.5L244.9 88.8L244.9 89.1L244.9 89.5L244.8 89.8L244.7 90.1L244.7 90.5L244.6 90.8L244.6 91.1L244.6 91.5L244.5 91.7L244.5 92.1L244.5 92.5L244.4 92.7L244.4 93.1L244.4 93.5L244.2 93.7L244.2 94.1L244.2 94.5L244.1 94.7L244.1 95.1L244.0 95.4L244.0 95.7L244.0 96.1L243.9 96.3L243.9 96.7L243.9 97.1L243.7 97.3L243.7 97.7L243.6 98.0L243.6 98.3L243.6 98.7L243.6 99.1L243.5 99.4L243.5 99.7L243.5 100.1L243.4 100.3L243.4 100.7L243.2 101.0L243.2 101.3L243.2 101.7L243.1 102.0L243.1 102.3L243.1 102.7L243.1 103.1L243.0 103.4L243.0 103.7L243.0 104.1L242.9 104.3L242.9 104.7L242.9 105.1L242.9 105.5L242.9 105.8L242.8 106.2L242.7 106.5L242.7 106.8L242.7 107.2L242.7 107.6L242.7 108.0L242.6 108.2L242.6 108.6L242.5 108.9L242.5 109.2L242.5 109.6L242.4 109.8L242.4 110.2L242.2 110.6L242.2 110.8L242.2 111.2L242.1 111.5L242.1 111.8L242.0 112.1L241.9 112.3L241.9 112.7L241.7 113.0L241.7 113.3L241.6 113.6L241.5 113.8L241.4 114.1L241.2 114.4L241.1 114.7L241.0 114.8L240.9 115.1L240.7 115.3L240.6 115.6L240.4 115.8L240.2 116.0L240.1 116.2L239.9 116.4L239.6 116.6L239.5 116.7L239.2 116.8L239.0 117.1L238.8 117.2L238.6 117.3L238.4 117.5L238.1 117.7L237.9 117.8L237.6 117.8L237.4 118.0L237.1 118.1L236.9 118.3L236.6 118.4L236.4 118.5L236.0 118.6L235.8 118.7L235.4 118.7L235.1 118.7L234.8 118.8L234.5 118.9L234.2 119.0L233.9 119.1L233.5 119.1L233.2 119.2L232.9 119.2L232.5 119.2L232.2 119.3L231.9 119.3L231.5 119.3L231.2 119.4L230.9 119.4L230.5 119.4L230.2 119.6L229.9 119.6L229.5 119.6L229.1 119.6L228.8 119.6L228.4 119.6L228.1 119.7L227.8 119.7L227.4 119.7L227.0 119.7L226.6 119.7L226.2 119.7L225.9 119.7L225.5 119.7L225.1 119.7L224.9 119.7Z" fill="#c4c4c4" stroke="#000" stroke-width="1.1" stroke-linejoin="round"/>
<path d="M225.6 118.2L225.2 118.2L224.9 118.2L224.5 118.3L224.1 118.3L223.8 118.3L223.4 118.3L223.0 118.3L222.6 118.3L222.2 118.3L221.9 118.2L221.5 118.2L221.2 118.2L220.9 118.2L220.5 118.1L220.2 118.1L219.9 118.0L219.5 118.0L219.2 117.9L218.9 117.9L218.6 117.8L218.2 117.7L218.0 117.7L217.6 117.6L217.4 117.5L217.1 117.5L216.8 117.3L216.5 117.3L216.2 117.2L216.0 117.1L215.8 116.9L215.5 116.8L215.2 116.7L215.0 116.5L214.8 116.4L214.5 116.2L214.4 116.1L214.1 115.8L214.0 115.7L213.8 115.5L213.6 115.3L213.5 115.1L213.3 114.8L213.2 114.6L213.0 114.3L212.9 114.1L212.8 113.8L212.7 113.6L212.6 113.3L212.5 113.0L212.4 112.7L212.4 112.4L212.3 112.1L212.3 111.7L212.3 111.3L212.3 111.0L212.3 110.6L212.3 110.2L212.4 110.0L212.5 109.6L212.5 109.3L212.6 109.0L212.7 108.7L212.8 108.5L212.9 108.2L213.0 107.9L213.1 107.7L213.2 107.4L213.4 107.2L213.6 107.0L213.7 106.7L213.9 106.5L214.0 106.3L214.2 106.1L214.4 105.9L214.6 105.7L214.8 105.6L215.0 105.4L215.2 105.2L215.4 105.1L215.6 104.9L215.9 104.7L216.1 104.6L216.3 104.5L216.5 104.3L216.8 104.2L217.0 104.0L217.2 103.9L217.5 103.7L217.8 103.6L218.0 103.5L218.2 103.3L218.5 103.2L218.8 103.1L219.0 103.0L219.2 102.8L219.5 102.7L219.7 102.6L219.9 102.5L220.1 102.3L220.4 102.2L220.6 102.0L220.9 101.8L221.0 101.7L221.2 101.5L221.5 101.3L221.6 101.2L221.9 101.0L222.0 100.8L222.2 100.6L222.4 100.4L222.5 100.2L222.7 100.0L222.8 99.7L223.0 99.5L223.1 99.3L223.2 99.0L223.4 98.8L223.5 98.6L223.6 98.3L223.8 98.0L223.9 97.7L224.0 97.5L224.1 97.2L224.2 97.0L224.2 96.7L224.4 96.3L224.5 96.1L224.5 95.8L224.6 95.5L224.7 95.2L224.8 95.0L224.9 94.6L225.0 94.3L225.0 94.1L225.1 93.7L225.2 93.5L225.2 93.1L225.3 92.8L225.4 92.5L225.4 92.2L225.5 91.9L225.6 91.6L225.6 91.2L225.7 91.0L225.7 90.6L225.8 90.3L225.8 90.0L225.9 89.7L225.9 89.3L226.0 89.0L226.0 88.7L226.1 88.3L226.2 88.1L226.2 87.8L226.3 87.5L226.4 87.2L226.5 86.8L226.6 86.6L226.7 86.3L226.8 86.0L226.9 85.7L227.0 85.5L227.1 85.2L227.2 85.0L227.3 84.7L227.4 84.5L227.5 84.2L227.6 83.9L227.8 83.7L227.9 83.4L228.0 83.2L228.1 83.0L228.3 82.7L228.4 82.5L228.6 82.2L228.7 82.0L228.9 81.7L229.0 81.5L229.1 81.3L229.3 81.1L229.5 80.8L229.6 80.7L229.8 80.5L230.0 80.3L230.2 80.1L230.4 79.9L230.5 79.7L230.8 79.5L231.0 79.3L231.1 79.2L231.4 79.0L231.6 78.8L231.8 78.7L232.0 78.6L232.2 78.4L232.5 78.3L232.8 78.1L233.0 78.0L233.2 77.9L233.5 77.8L233.8 77.7L234.0 77.6L234.3 77.5L234.6 77.3L234.9 77.3L235.1 77.2L235.5 77.1L235.8 77.0L236.1 77.0L236.4 76.9L236.8 76.9L237.0 76.8L237.4 76.8L237.8 76.8L238.1 76.8L238.5 76.8L238.8 76.8L239.1 76.9L239.5 76.9L239.8 77.0L240.1 77.1L240.4 77.1L240.6 77.2L240.9 77.3L241.2 77.5L241.4 77.6L241.6 77.7L241.9 77.9L242.1 78.1L242.3 78.2L242.5 78.5L242.6 78.6L242.8 78.8L242.9 79.1L243.1 79.3L243.2 79.6L243.3 79.8L243.4 80.2L243.5 80.5L243.5 80.7L243.6 81.1L243.6 81.3L243.7 81.7L243.7 82.1L243.8 82.4L243.8 82.7L243.8 83.1L243.8 83.5L243.9 83.8L243.9 84.2L243.9 84.5L243.9 84.8L243.9 85.2L243.9 85.6L243.9 86.0L243.9 86.3L243.9 86.7L243.9 87.1L243.9 87.5L243.9 87.8L243.9 88.2L243.9 88.5L243.8 88.8L243.8 89.2L243.7 89.5L243.7 89.8L243.6 90.2L243.6 90.5L243.5 90.8L243.5 91.1L243.4 91.4L243.3 91.7L243.2 92.0L243.2 92.3L243.1 92.6L243.0 93.0L243.0 93.2L242.9 93.6L242.8 93.8L242.8 94.1L242.7 94.5L242.6 94.7L242.5 95.1L242.5 95.3L242.4 95.7L242.4 96.0L242.3 96.3L242.2 96.6L242.2 97.0L242.1 97.3L242.1 97.6L242.0 98.0L242.0 98.2L241.9 98.6L241.9 99.0L241.9 99.2L241.8 99.6L241.8 100.0L241.7 100.2L241.7 100.6L241.6 100.9L241.6 101.2L241.5 101.6L241.5 102.0L241.5 102.2L241.4 102.6L241.4 103.0L241.4 103.2L241.3 103.6L241.3 104.0L241.3 104.3L241.2 104.6L241.2 105.0L241.2 105.3L241.2 105.7L241.1 106.1L241.1 106.3L241.1 106.7L241.1 107.1L241.0 107.5L241.0 107.7L241.0 108.1L240.9 108.5L240.9 108.7L240.8 109.1L240.8 109.5L240.7 109.7L240.7 110.1L240.6 110.3L240.5 110.7L240.5 111.0L240.4 111.3L240.3 111.6L240.2 111.9L240.2 112.2L240.1 112.5L240.0 112.7L239.9 113.1L239.8 113.3L239.7 113.6L239.5 113.8L239.4 114.1L239.2 114.3L239.1 114.5L238.9 114.7L238.8 114.9L238.6 115.1L238.4 115.3L238.2 115.5L238.0 115.6L237.8 115.8L237.5 115.9L237.3 116.1L237.1 116.2L236.8 116.3L236.6 116.5L236.3 116.6L236.0 116.7L235.8 116.8L235.5 116.9L235.2 117.0L234.9 117.1L234.6 117.1L234.3 117.2L234.0 117.3L233.7 117.3L233.4 117.4L233.0 117.5L232.8 117.5L232.4 117.6L232.1 117.6L231.8 117.6L231.4 117.7L231.1 117.7L230.8 117.8L230.4 117.8L230.1 117.8L229.8 117.9L229.4 117.9L229.0 117.9L228.8 118.0L228.4 118.0L228.0 118.0L227.6 118.1L227.4 118.1L227.0 118.1L226.6 118.1L226.2 118.2L225.9 118.2L225.6 118.2Z" fill="#cacaca" stroke="#444" stroke-width="0.6" stroke-linejoin="round"/>
<path d="M224.5 116.7L224.1 116.7L223.8 116.8L223.4 116.8L223.0 116.8L222.6 116.8L222.2 116.8L221.9 116.7L221.5 116.7L221.2 116.7L220.9 116.7L220.5 116.6L220.2 116.6L219.9 116.5L219.5 116.5L219.2 116.4L218.9 116.3L218.6 116.3L218.4 116.2L218.0 116.1L217.8 116.0L217.5 115.9L217.2 115.8L216.9 115.7L216.7 115.6L216.4 115.5L216.2 115.3L216.0 115.2L215.8 115.0L215.5 114.8L215.4 114.7L215.1 114.5L215.0 114.3L214.8 114.1L214.7 113.8L214.5 113.6L214.4 113.3L214.3 113.1L214.2 112.8L214.1 112.5L214.1 112.2L214.0 111.9L214.0 111.6L214.0 111.2L214.0 110.8L214.0 110.5L214.0 110.2L214.1 109.8L214.2 109.6L214.2 109.3L214.4 109.0L214.5 108.7L214.6 108.5L214.7 108.2L214.9 108.0L215.0 107.8L215.1 107.6L215.3 107.3L215.5 107.1L215.7 107.0L215.9 106.8L216.1 106.6L216.2 106.4L216.5 106.2L216.7 106.1L216.9 106.0L217.1 105.8L217.4 105.6L217.6 105.5L217.9 105.3L218.1 105.2L218.4 105.1L218.6 105.0L218.8 104.8L219.1 104.7L219.3 104.6L219.6 104.5L219.8 104.3L220.1 104.2L220.3 104.1L220.5 104.0L220.8 103.8L221.0 103.7L221.2 103.6L221.5 103.4L221.8 103.2L222.0 103.1L222.2 103.0L222.4 102.8L222.6 102.6L222.8 102.5L223.0 102.3L223.2 102.1L223.4 101.9L223.5 101.7L223.7 101.5L223.9 101.3L224.0 101.1L224.2 100.8L224.4 100.6L224.5 100.4L224.6 100.2L224.8 100.0L224.9 99.7L225.0 99.5L225.1 99.2L225.3 99.0L225.4 98.7L225.5 98.4L225.6 98.1L225.7 97.8L225.8 97.6L225.9 97.3L226.0 97.0L226.1 96.7L226.2 96.5L226.3 96.2L226.4 95.8L226.4 95.6L226.5 95.3L226.6 95.0L226.7 94.7L226.8 94.4L226.8 94.1L226.9 93.8L227.0 93.5L227.0 93.2L227.1 92.8L227.2 92.6L227.2 92.2L227.3 92.0L227.3 91.6L227.4 91.3L227.4 91.0L227.5 90.6L227.5 90.3L227.6 90.0L227.6 89.7L227.7 89.3L227.8 89.0L227.8 88.7L227.9 88.4L227.9 88.1L228.0 87.8L228.1 87.5L228.2 87.2L228.2 86.9L228.4 86.6L228.5 86.3L228.6 86.1L228.6 85.8L228.8 85.6L228.9 85.3L229.0 85.0L229.1 84.7L229.2 84.5L229.4 84.2L229.5 84.0L229.6 83.8L229.8 83.5L229.9 83.3L230.0 83.1L230.2 82.8L230.3 82.6L230.5 82.4L230.6 82.2L230.8 82.0L231.0 81.7L231.1 81.6L231.3 81.3L231.5 81.2L231.7 81.0L231.9 80.8L232.1 80.6L232.3 80.5L232.5 80.3L232.8 80.1L233.0 80.0L233.2 79.8L233.5 79.7L233.7 79.6L234.0 79.5L234.2 79.3L234.5 79.2L234.8 79.1L235.0 79.0L235.2 78.9L235.6 78.8L235.9 78.8L236.2 78.7L236.5 78.6L236.9 78.6L237.1 78.5L237.5 78.5L237.9 78.5L238.2 78.5L238.6 78.6L238.9 78.6L239.2 78.7L239.5 78.7L239.8 78.8L240.1 79.0L240.4 79.1L240.6 79.2L240.8 79.3L241.0 79.6L241.1 79.7L241.3 80.0L241.5 80.2L241.6 80.5L241.7 80.7L241.8 81.0L241.9 81.2L242.0 81.6L242.0 81.8L242.1 82.2L242.1 82.5L242.2 82.8L242.2 83.2L242.3 83.5L242.3 83.8L242.4 84.2L242.4 84.5L242.4 84.8L242.5 85.2L242.5 85.6L242.5 85.8L242.5 86.2L242.5 86.6L242.5 87.0L242.5 87.3L242.5 87.7L242.5 88.1L242.5 88.3L242.5 88.7L242.4 89.1L242.4 89.3L242.3 89.7L242.2 90.0L242.2 90.3L242.1 90.6L242.0 91.0L242.0 91.2L241.9 91.5L241.8 91.8L241.7 92.1L241.6 92.4L241.5 92.7L241.5 93.0L241.4 93.2L241.3 93.6L241.2 93.8L241.1 94.1L241.0 94.5L240.9 94.7L240.9 95.0L240.8 95.3L240.7 95.6L240.6 96.0L240.6 96.2L240.5 96.6L240.5 96.8L240.4 97.2L240.4 97.5L240.3 97.8L240.2 98.1L240.2 98.5L240.2 98.8L240.1 99.1L240.1 99.5L240.0 99.8L240.0 100.1L239.9 100.5L239.9 100.8L239.8 101.1L239.8 101.5L239.8 101.8L239.7 102.1L239.7 102.5L239.6 102.8L239.6 103.1L239.6 103.5L239.6 103.8L239.5 104.2L239.5 104.5L239.5 104.8L239.4 105.2L239.4 105.6L239.4 106.0L239.4 106.2L239.3 106.6L239.3 107.0L239.3 107.3L239.2 107.6L239.2 108.0L239.1 108.3L239.1 108.6L239.1 109.0L239.0 109.3L239.0 109.6L238.9 110.0L238.8 110.2L238.8 110.6L238.7 110.8L238.6 111.2L238.6 111.5L238.5 111.7L238.4 112.0L238.3 112.3L238.1 112.6L238.0 112.8L237.9 113.1L237.8 113.3L237.6 113.5L237.4 113.7L237.2 113.8L237.0 114.1L236.9 114.2L236.6 114.4L236.4 114.5L236.1 114.7L235.9 114.8L235.6 114.9L235.4 115.0L235.1 115.1L234.9 115.2L234.5 115.3L234.2 115.4L234.0 115.5L233.6 115.5L233.4 115.6L233.0 115.7L232.8 115.7L232.4 115.8L232.1 115.8L231.8 115.9L231.4 115.9L231.1 116.0L230.8 116.0L230.4 116.1L230.1 116.1L229.8 116.1L229.4 116.2L229.1 116.2L228.8 116.3L228.4 116.3L228.1 116.3L227.8 116.4L227.4 116.4L227.1 116.5L226.8 116.5L226.4 116.5L226.0 116.6L225.8 116.6L225.4 116.6L225.0 116.7L224.6 116.7Z" fill="#d0d0d0" stroke="#555" stroke-width="0.55" stroke-linejoin="round"/>
<path d="M224.2 115.3L223.9 115.4L223.5 115.4L223.1 115.4L222.8 115.4L222.4 115.4L222.0 115.4L221.6 115.4L221.2 115.4L220.9 115.3L220.6 115.3L220.2 115.2L220.0 115.2L219.6 115.1L219.4 115.0L219.1 115.0L218.8 114.9L218.5 114.8L218.2 114.7L218.0 114.6L217.7 114.5L217.4 114.3L217.2 114.2L217.0 114.1L216.8 113.9L216.6 113.7L216.4 113.5L216.2 113.3L216.0 113.1L215.9 112.8L215.8 112.6L215.7 112.3L215.6 112.1L215.5 111.7L215.5 111.4L215.5 111.1L215.5 110.8L215.5 110.5L215.6 110.1L215.7 109.8L215.8 109.6L215.9 109.3L216.0 109.0L216.1 108.8L216.3 108.6L216.5 108.3L216.6 108.1L216.8 108.0L217.0 107.7L217.2 107.6L217.4 107.4L217.6 107.2L217.8 107.1L218.0 106.9L218.2 106.8L218.5 106.6L218.8 106.5L219.0 106.3L219.2 106.2L219.5 106.1L219.7 106.0L220.0 105.8L220.2 105.7L220.5 105.6L220.7 105.5L221.0 105.3L221.2 105.2L221.5 105.1L221.8 105.0L222.0 104.8L222.2 104.7L222.5 104.6L222.7 104.5L222.9 104.3L223.1 104.2L223.4 104.0L223.6 103.9L223.8 103.7L224.0 103.6L224.2 103.3L224.4 103.2L224.6 103.0L224.8 102.8L225.0 102.6L225.1 102.4L225.3 102.2L225.5 102.0L225.6 101.7L225.8 101.6L225.9 101.3L226.1 101.1L226.2 100.8L226.4 100.6L226.5 100.3L226.6 100.1L226.7 99.8L226.9 99.6L227.0 99.3L227.1 99.1L227.2 98.8L227.3 98.6L227.4 98.2L227.5 98.0L227.6 97.7L227.7 97.5L227.8 97.1L227.9 96.8L227.9 96.6L228.0 96.3L228.1 96.0L228.2 95.7L228.2 95.4L228.3 95.1L228.4 94.8L228.5 94.5L228.5 94.2L228.6 93.8L228.7 93.6L228.7 93.2L228.8 93.0L228.9 92.6L228.9 92.3L229.0 92.0L229.0 91.6L229.0 91.3L229.1 91.0L229.1 90.7L229.2 90.3L229.2 90.0L229.3 89.7L229.3 89.3L229.4 89.1L229.4 88.7L229.5 88.4L229.6 88.1L229.6 87.8L229.8 87.5L229.8 87.2L229.9 87.0L230.0 86.7L230.1 86.3L230.2 86.1L230.3 85.8L230.4 85.6L230.6 85.3L230.7 85.1L230.8 84.8L230.9 84.6L231.1 84.3L231.2 84.1L231.4 83.8L231.5 83.6L231.6 83.5L231.8 83.2L232.0 83.0L232.1 82.8L232.3 82.6L232.5 82.4L232.7 82.2L232.9 82.0L233.1 81.8L233.3 81.7L233.5 81.5L233.8 81.4L234.0 81.2L234.2 81.1L234.5 81.0L234.8 80.8L235.0 80.7L235.2 80.6L235.5 80.5L235.8 80.4L236.1 80.3L236.4 80.3L236.8 80.2L237.0 80.2L237.4 80.1L237.8 80.1L238.1 80.2L238.4 80.2L238.8 80.3L239.0 80.4L239.2 80.5L239.5 80.7L239.7 80.8L239.9 81.0L240.0 81.2L240.2 81.5L240.3 81.7L240.4 82.0L240.5 82.2L240.6 82.6L240.7 82.8L240.8 83.1L240.8 83.5L240.9 83.7L241.0 84.1L241.0 84.3L241.1 84.7L241.1 85.1L241.2 85.3L241.2 85.7L241.2 86.0L241.3 86.3L241.3 86.7L241.3 87.1L241.3 87.5L241.3 87.8L241.3 88.2L241.2 88.6L241.2 88.8L241.2 89.2L241.1 89.5L241.0 89.8L241.0 90.1L240.9 90.4L240.8 90.7L240.7 91.0L240.6 91.2L240.5 91.5L240.4 91.8L240.3 92.1L240.2 92.3L240.1 92.6L240.0 92.8L239.9 93.2L239.8 93.5L239.7 93.7L239.6 94.0L239.5 94.2L239.4 94.5L239.3 94.8L239.2 95.1L239.1 95.4L239.0 95.7L239.0 96.0L238.9 96.3L238.8 96.6L238.8 96.9L238.7 97.2L238.6 97.6L238.6 97.8L238.5 98.2L238.5 98.5L238.4 98.8L238.4 99.2L238.3 99.5L238.3 99.8L238.2 100.1L238.2 100.5L238.2 100.8L238.1 101.1L238.1 101.5L238.0 101.8L238.0 102.2L238.0 102.5L237.9 102.8L237.9 103.2L237.9 103.5L237.8 103.8L237.8 104.2L237.8 104.6L237.8 104.9L237.7 105.2L237.7 105.6L237.7 106.0L237.6 106.3L237.6 106.6L237.6 107.0L237.6 107.3L237.5 107.7L237.5 108.0L237.4 108.3L237.4 108.7L237.3 109.0L237.3 109.3L237.2 109.6L237.1 110.0L237.1 110.2L237.0 110.6L236.9 110.8L236.8 111.1L236.8 111.3L236.6 111.6L236.5 111.9L236.4 112.1L236.2 112.3L236.0 112.5L235.8 112.7L235.6 112.9L235.4 113.1L235.1 113.2L234.9 113.3L234.6 113.4L234.4 113.5L234.1 113.6L233.9 113.7L233.5 113.8L233.2 113.9L232.9 114.0L232.6 114.0L232.2 114.1L232.0 114.1L231.6 114.2L231.4 114.2L231.0 114.3L230.7 114.3L230.4 114.4L230.0 114.4L229.8 114.5L229.4 114.5L229.1 114.6L228.8 114.6L228.4 114.7L228.1 114.7L227.8 114.8L227.5 114.8L227.1 114.9L226.8 115.0L226.5 115.0L226.1 115.1L225.9 115.1L225.5 115.2L225.2 115.2L224.9 115.3L224.5 115.3L224.2 115.3Z" fill="#d7d7d7" stroke="#5a5a5a" stroke-width="0.5" stroke-linejoin="round"/>
<path d="M223.6 114.1L223.2 114.1L222.9 114.1L222.5 114.2L222.1 114.2L221.8 114.1L221.4 114.1L221.1 114.1L220.8 114.0L220.5 114.0L220.1 113.9L219.9 113.8L219.5 113.7L219.2 113.6L219.0 113.5L218.8 113.4L218.5 113.3L218.2 113.1L218.0 113.0L217.8 112.8L217.6 112.6L217.5 112.5L217.3 112.2L217.2 112.0L217.1 111.7L217.0 111.4L217.0 111.1L217.0 110.7L217.0 110.5L217.1 110.1L217.2 109.8L217.3 109.6L217.5 109.3L217.6 109.1L217.8 109.0L218.0 108.7L218.1 108.6L218.4 108.3L218.5 108.2L218.8 108.0L219.0 107.9L219.2 107.7L219.5 107.6L219.7 107.5L219.9 107.3L220.1 107.2L220.4 107.1L220.7 107.0L220.9 106.8L221.2 106.7L221.5 106.6L221.8 106.5L222.0 106.4L222.2 106.3L222.5 106.2L222.8 106.1L223.0 105.9L223.3 105.8L223.5 105.7L223.8 105.6L224.0 105.5L224.2 105.3L224.5 105.2L224.8 105.0L225.0 104.8L225.2 104.7L225.4 104.5L225.6 104.3L225.8 104.2L226.0 104.0L226.1 103.8L226.4 103.6L226.5 103.4L226.7 103.2L226.9 103.0L227.0 102.7L227.1 102.6L227.3 102.3L227.5 102.1L227.6 101.8L227.8 101.6L227.9 101.4L228.0 101.1L228.1 100.9L228.2 100.6L228.4 100.4L228.5 100.1L228.6 99.8L228.7 99.6L228.8 99.3L228.9 99.1L229.0 98.8L229.1 98.5L229.2 98.2L229.3 98.0L229.4 97.7L229.5 97.3L229.6 97.1L229.6 96.8L229.7 96.5L229.8 96.2L229.9 95.9L229.9 95.6L230.0 95.3L230.1 95.0L230.1 94.7L230.2 94.3L230.3 94.1L230.3 93.7L230.4 93.5L230.4 93.1L230.5 92.7L230.5 92.5L230.6 92.1L230.6 91.7L230.6 91.4L230.7 91.1L230.7 90.7L230.7 90.3L230.8 90.1L230.8 89.7L230.9 89.3L230.9 89.1L231.0 88.7L231.0 88.5L231.1 88.1L231.2 87.8L231.2 87.5L231.4 87.2L231.4 87.0L231.5 86.7L231.6 86.5L231.8 86.2L231.9 85.9L232.0 85.6L232.1 85.4L232.2 85.1L232.4 84.9L232.5 84.7L232.7 84.5L232.9 84.2L233.0 84.0L233.1 83.8L233.4 83.6L233.5 83.4L233.7 83.2L233.9 83.1L234.1 82.9L234.4 82.7L234.6 82.6L234.8 82.5L235.0 82.3L235.3 82.2L235.6 82.1L235.9 82.0L236.1 81.9L236.5 81.8L236.8 81.8L237.1 81.8L237.5 81.8L237.8 81.8L238.1 82.0L238.3 82.1L238.5 82.2L238.8 82.4L238.9 82.6L239.0 82.8L239.1 83.1L239.3 83.3L239.4 83.6L239.5 84.0L239.6 84.2L239.6 84.5L239.7 84.8L239.8 85.1L239.9 85.4L239.9 85.7L240.0 86.1L240.0 86.3L240.1 86.7L240.1 87.1L240.1 87.5L240.1 87.8L240.1 88.2L240.0 88.6L240.0 88.8L239.9 89.2L239.9 89.5L239.8 89.8L239.7 90.1L239.6 90.3L239.5 90.6L239.4 90.9L239.2 91.2L239.1 91.4L239.0 91.7L238.9 92.0L238.8 92.2L238.6 92.5L238.5 92.7L238.4 93.0L238.3 93.2L238.2 93.5L238.1 93.7L237.9 94.0L237.8 94.2L237.7 94.5L237.6 94.8L237.5 95.1L237.4 95.3L237.4 95.6L237.3 96.0L237.2 96.2L237.1 96.5L237.0 96.8L237.0 97.1L236.9 97.5L236.9 97.8L236.8 98.1L236.8 98.5L236.7 98.7L236.7 99.1L236.6 99.4L236.6 99.7L236.5 100.1L236.5 100.3L236.4 100.7L236.4 101.1L236.4 101.3L236.3 101.7L236.3 102.1L236.3 102.5L236.2 102.7L236.2 103.1L236.2 103.5L236.1 103.8L236.1 104.1L236.1 104.5L236.0 104.8L236.0 105.2L236.0 105.5L236.0 105.8L235.9 106.2L235.9 106.6L235.9 107.0L235.8 107.2L235.8 107.6L235.8 108.0L235.7 108.2L235.7 108.6L235.6 108.8L235.5 109.2L235.5 109.5L235.4 109.8L235.3 110.1L235.2 110.3L235.1 110.6L235.0 110.8L234.8 111.1L234.6 111.2L234.4 111.5L234.2 111.6L234.0 111.7L233.8 111.9L233.5 112.0L233.2 112.1L232.9 112.2L232.6 112.3L232.3 112.3L232.0 112.4L231.7 112.5L231.4 112.5L231.0 112.6L230.8 112.6L230.4 112.7L230.1 112.7L229.8 112.8L229.5 112.8L229.1 112.9L228.9 113.0L228.5 113.0L228.2 113.1L227.9 113.2L227.6 113.2L227.2 113.3L227.0 113.4L226.7 113.5L226.4 113.5L226.1 113.6L225.8 113.7L225.5 113.7L225.1 113.8L224.9 113.9L224.5 113.9L224.2 114.0L223.9 114.0L223.6 114.1Z" fill="#dedede" stroke="#666" stroke-width="0.5" stroke-linejoin="round"/>
<path d="M222.8 112.8L222.4 112.8L222.0 112.8L221.8 112.8L221.4 112.8L221.0 112.7L220.8 112.6L220.5 112.6L220.1 112.5L219.9 112.3L219.6 112.2L219.4 112.1L219.2 112.0L219.0 111.7L218.9 111.6L218.7 111.3L218.6 111.0L218.6 110.7L218.7 110.5L218.8 110.2L218.9 109.9L219.0 109.7L219.2 109.5L219.4 109.3L219.6 109.1L219.8 109.0L220.0 108.8L220.2 108.6L220.5 108.5L220.8 108.3L221.0 108.2L221.2 108.1L221.5 108.0L221.8 107.9L222.0 107.8L222.2 107.7L222.6 107.6L222.9 107.5L223.1 107.4L223.4 107.3L223.7 107.2L224.0 107.1L224.2 107.0L224.5 106.9L224.8 106.8L225.0 106.7L225.2 106.6L225.5 106.4L225.8 106.3L226.0 106.1L226.2 106.0L226.4 105.8L226.6 105.7L226.9 105.5L227.0 105.3L227.2 105.1L227.4 105.0L227.6 104.7L227.8 104.6L227.9 104.3L228.1 104.1L228.2 103.9L228.4 103.7L228.6 103.5L228.8 103.2L228.9 103.0L229.0 102.8L229.2 102.6L229.3 102.3L229.4 102.1L229.6 101.8L229.7 101.6L229.8 101.3L230.0 101.1L230.1 100.8L230.2 100.6L230.3 100.3L230.4 100.1L230.5 99.7L230.6 99.5L230.7 99.2L230.8 99.0L230.9 98.7L231.0 98.3L231.1 98.1L231.2 97.8L231.2 97.5L231.3 97.2L231.4 97.0L231.5 96.6L231.6 96.3L231.6 96.1L231.7 95.7L231.8 95.5L231.8 95.1L231.9 94.8L231.9 94.5L232.0 94.1L232.0 93.8L232.1 93.5L232.1 93.1L232.1 92.7L232.1 92.3L232.1 92.0L232.1 91.7L232.1 91.3L232.2 91.0L232.2 90.6L232.2 90.2L232.2 89.8L232.2 89.5L232.3 89.2L232.3 88.8L232.4 88.6L232.5 88.2L232.5 88.0L232.6 87.6L232.7 87.3L232.8 87.1L232.9 86.8L233.0 86.6L233.1 86.3L233.2 86.1L233.4 85.8L233.5 85.6L233.7 85.3L233.9 85.1L234.0 84.9L234.2 84.7L234.4 84.5L234.6 84.3L234.8 84.2L235.0 84.0L235.2 83.8L235.5 83.7L235.8 83.6L236.0 83.5L236.4 83.5L236.8 83.5L237.1 83.6L237.3 83.7L237.5 83.8L237.8 84.1L237.9 84.2L238.0 84.5L238.2 84.7L238.3 85.0L238.4 85.2L238.5 85.6L238.6 85.8L238.6 86.1L238.7 86.5L238.8 86.7L238.8 87.1L238.8 87.5L238.8 87.8L238.8 88.2L238.7 88.5L238.7 88.8L238.6 89.1L238.5 89.4L238.4 89.7L238.3 90.0L238.2 90.2L238.1 90.5L237.9 90.7L237.8 91.0L237.7 91.2L237.5 91.5L237.4 91.7L237.2 91.9L237.1 92.1L237.0 92.3L236.9 92.6L236.7 92.8L236.6 93.1L236.4 93.3L236.3 93.6L236.2 93.8L236.1 94.1L236.0 94.3L235.9 94.6L235.8 94.9L235.7 95.2L235.6 95.5L235.5 95.7L235.4 96.1L235.4 96.3L235.3 96.7L235.2 97.0L235.2 97.3L235.1 97.6L235.1 98.0L235.0 98.3L235.0 98.6L234.9 99.0L234.9 99.3L234.8 99.6L234.8 100.0L234.8 100.3L234.7 100.6L234.7 101.0L234.6 101.3L234.6 101.6L234.6 102.0L234.5 102.3L234.5 102.7L234.5 103.0L234.4 103.3L234.4 103.7L234.4 104.1L234.4 104.3L234.3 104.7L234.3 105.1L234.3 105.5L234.3 105.8L234.2 106.1L234.2 106.5L234.2 106.8L234.1 107.2L234.1 107.5L234.0 107.8L234.0 108.1L233.9 108.5L233.8 108.7L233.7 109.0L233.6 109.2L233.5 109.5L233.3 109.7L233.1 109.9L233.0 110.1L232.8 110.2L232.5 110.4L232.2 110.5L232.0 110.6L231.6 110.7L231.4 110.8L231.1 110.8L230.8 110.9L230.5 111.0L230.1 111.0L229.9 111.1L229.5 111.2L229.2 111.2L228.9 111.3L228.6 111.3L228.2 111.4L228.0 111.5L227.7 111.6L227.4 111.7L227.1 111.7L226.9 111.8L226.5 111.9L226.2 112.0L226.0 112.1L225.7 112.2L225.4 112.3L225.1 112.4L224.8 112.5L224.5 112.5L224.2 112.6L223.9 112.7L223.6 112.7L223.2 112.8L222.9 112.8Z" fill="#e6e6e6" stroke="#777" stroke-width="0.45" stroke-linejoin="round"/>
<path d="M235.0 91.5L234.6 91.6L234.3 91.5L234.1 91.2L234.0 91.0L233.9 90.7L233.9 90.4L233.8 90.1L233.8 89.7L233.8 89.3L233.8 89.0L233.9 88.6L233.9 88.3L234.0 88.0L234.1 87.7L234.2 87.5L234.3 87.2L234.4 87.0L234.6 86.7L234.7 86.5L234.9 86.3L235.1 86.1L235.2 85.9L235.5 85.8L235.8 85.7L236.1 85.7L236.4 85.8L236.6 86.0L236.8 86.2L236.9 86.4L237.0 86.7L237.1 87.0L237.1 87.3L237.1 87.6L237.1 88.0L237.1 88.2L237.0 88.6L237.0 88.8L236.9 89.1L236.8 89.3L236.6 89.6L236.5 89.8L236.3 90.1L236.1 90.3L236.0 90.5L235.8 90.7L235.6 90.9L235.5 91.1L235.2 91.3L235.0 91.5ZM223.2 111.1L222.9 111.1L222.5 111.1L222.1 111.1L221.9 111.0L221.6 110.9L221.4 110.7L221.3 110.5L221.4 110.2L221.6 110.0L221.8 109.8L222.0 109.6L222.2 109.5L222.5 109.3L222.8 109.2L223.0 109.2L223.3 109.1L223.6 109.0L223.9 108.9L224.2 108.8L224.5 108.8L224.8 108.7L225.1 108.6L225.4 108.6L225.7 108.5L226.0 108.3L226.2 108.2L226.5 108.1L226.8 108.0L227.0 107.8L227.1 107.7L227.4 107.5L227.6 107.3L227.8 107.2L228.0 107.0L228.2 106.8L228.4 106.6L228.5 106.5L228.7 106.2L228.9 106.0L229.1 105.8L229.2 105.6L229.4 105.5L229.6 105.2L229.8 105.0L229.9 104.8L230.1 104.6L230.2 104.4L230.5 104.2L230.6 104.0L230.8 103.8L231.0 103.6L231.2 103.5L231.4 103.3L231.8 103.2L232.0 103.3L232.1 103.6L232.2 103.9L232.3 104.2L232.3 104.6L232.4 104.9L232.4 105.2L232.4 105.6L232.4 106.0L232.4 106.3L232.4 106.6L232.3 107.0L232.2 107.2L232.1 107.6L232.0 107.8L231.9 108.1L231.8 108.3L231.6 108.5L231.4 108.7L231.1 108.8L230.9 108.9L230.6 109.0L230.4 109.1L230.0 109.2L229.8 109.2L229.4 109.3L229.1 109.3L228.8 109.4L228.4 109.4L228.1 109.5L227.8 109.6L227.5 109.6L227.2 109.7L226.9 109.8L226.6 109.9L226.4 110.0L226.1 110.1L225.8 110.2L225.5 110.3L225.2 110.4L225.0 110.5L224.8 110.6L224.5 110.7L224.2 110.8L223.9 110.9L223.6 111.0L223.3 111.1Z" fill="#eeeeee" stroke="#888" stroke-width="0.4" stroke-linejoin="round"/>
</g>
<rect x="205.5" y="51.2" width="71.39999999999998" height="74.7" fill="none" stroke="#222" stroke-width="0.9"/>
<line x1="233.5" y1="51.2" x2="233.5" y2="125.9" stroke="#111" stroke-width="1.0"/>
<line x1="205.5" y1="102.5" x2="276.9" y2="102.5" stroke="#111" stroke-width="1.0"/>
<path d="M203.5 123.7h2M203.5 119.9h2M203.5 116.9h2M203.5 111.0h2M203.5 103.5h2M203.5 99.0h2M203.5 88.6h2M203.5 84.8h2M203.5 81.1h2M203.5 75.1h2M203.5 67.6h2M203.5 63.2h2M203.5 58.7h2M209.8 125.9v1.8M216.2 125.9v1.8M223.3 125.9v1.8M234.1 125.9v1.8M239.1 125.9v1.8M244.8 125.9v1.8M249.8 125.9v1.8M256.9 125.9v1.8M262.6 125.9v1.8M267.6 125.9v1.8M273.3 125.9v1.8" stroke="#333" stroke-width="0.6" fill="none"/>
<text x="207.3" y="59.5" font-size="7.4" text-anchor="start" fill="#222" stroke="#222" stroke-width="0.2" textLength="14" lengthAdjust="spacingAndGlyphs">16.3</text>
<text x="272.3" y="59.6" font-size="7.4" text-anchor="end" fill="#222" stroke="#222" stroke-width="0.2" textLength="14" lengthAdjust="spacingAndGlyphs">24.4</text>
<text x="272.3" y="121.2" font-size="7.4" text-anchor="end" fill="#222" stroke="#222" stroke-width="0.2" textLength="10.5" lengthAdjust="spacingAndGlyphs">9.0</text>
<text x="207.8" y="121" font-size="7.4" text-anchor="start" fill="#333" stroke="#333" stroke-width="0.2" textLength="18" lengthAdjust="spacingAndGlyphs">50.33</text>
<clipPath id="b2"><rect x="298.6" y="51.2" width="71.69999999999999" height="74.7"/></clipPath>
<g clip-path="url(#b2)">
<path d="M318.3 99.7h0M314.6 101.9h0M304.3 116.4h0M319.6 99.7h0M344.0 79.0h0M314.0 94.5h0M305.4 118.2h0M308.9 119.1h0M312.7 97.1h0M344.0 93.2h0M325.7 81.9h0M339.8 103.8h0M339.1 106.3h0M336.5 118.5h0M338.6 109.4h0M342.5 88.2h0M325.0 120.3h0M325.7 78.3h0M322.8 91.6h0M342.6 84.8h0M344.0 89.8h0M342.9 82.1h0M312.3 102.7h0M314.2 119.6h0M319.0 119.7h0M325.6 81.9h0M340.5 107.8h0M342.8 87.2h0M323.4 91.6h0M303.1 114.3h0M311.0 119.1h0M340.4 75.2h0M314.1 120.2h0M303.5 107.5h0M325.4 82.9h0M307.7 99.9h0M323.9 89.6h0M331.5 75.3h0M339.6 108.9h0M339.6 114.2h0M340.9 75.8h0M325.9 78.3h0M343.6 86.3h0M322.3 89.4h0M323.0 88.8h0M342.1 78.3h0M316.4 92.9h0M337.8 74.6h0M323.6 88.8h0M335.2 118.6h0M319.3 99.8h0M309.3 97.4h0M314.2 96.2h0M330.3 118.9h0M310.3 99.9h0M340.5 75.1h0M303.9 119.8h0M342.7 78.3h0M342.9 91.0h0M342.5 80.9h0M321.8 97.7h0M301.7 114.3h0M339.4 110.3h0M300.0 114.7h0M343.4 87.1h0M319.9 92.1h0M340.0 108.9h0M343.9 87.0h0M327.3 119.0h0M347.6 90.3h0M321.3 96.6h0M331.6 74.1h0M325.2 121.6h0M323.0 91.6h0M341.9 102.5h0M341.5 77.6h0M322.5 94.6h0M332.4 72.9h0M301.9 111.1h0M313.3 101.9h0M345.3 98.4h0M337.1 73.0h0M315.4 119.4h0M340.2 73.4h0M320.9 95.5h0M303.1 114.1h0M341.1 100.6h0M303.3 114.7h0M341.2 94.9h0M307.0 104.1h0M305.0 100.3h0M341.3 95.9h0M319.5 97.6h0M320.1 80.1h0M328.0 123.4h0M334.7 121.3h0M305.2 104.3h0M316.4 85.4h0M346.9 85.7h0M334.1 120.4h0M331.0 73.9h0M302.6 111.6h0M330.5 75.1h0M339.2 74.3h0M332.6 118.8h0M340.2 108.0h0M304.5 106.0h0M325.0 82.5h0M339.0 105.9h0M321.0 78.6h0M310.6 100.2h0M324.7 86.2h0M337.2 70.8h0M343.0 80.6h0M324.3 120.0h0M326.4 121.2h0M342.7 92.6h0M334.5 118.0h0M322.1 120.4h0M320.7 78.9h0M339.6 104.3h0M304.0 117.1h0M325.7 78.5h0M341.7 100.4h0M341.1 95.2h0M311.0 101.5h0M338.4 111.7h0M308.6 103.4h0M305.8 117.7h0M344.1 80.1h0M325.0 81.4h0M313.6 101.7h0M334.9 117.6h0M342.4 94.8h0M316.7 81.1h0M312.1 119.1h0M338.7 115.1h0M321.4 80.1h0M335.9 73.7h0M342.5 79.8h0M339.7 101.7h0M302.2 109.3h0M342.2 88.0h0M342.6 86.5h0M336.3 116.4h0M328.5 118.7h0M340.8 103.8h0M343.4 91.0h0M318.3 88.3h0M322.8 119.1h0M314.7 119.6h0M303.0 114.2h0M318.3 94.9h0M323.9 81.2h0M301.4 110.9h0M322.3 121.6h0M326.5 73.3h0M318.5 95.0h0M318.3 90.1h0M339.0 105.3h0M309.2 102.7h0M313.6 100.6h0M321.5 92.5h0M331.3 118.6h0M320.6 119.2h0M345.3 101.3h0M345.0 82.0h0M339.7 109.3h0M320.5 95.0h0M308.0 102.4h0M335.8 74.2h0M343.6 85.1h0M303.9 106.7h0M318.4 119.4h0M342.9 90.6h0M323.5 90.9h0M339.3 104.3h0M336.9 71.7h0M307.5 118.2h0M318.5 75.2h0M342.8 83.5h0M340.5 99.7h0M311.9 120.0h0M344.2 77.4h0M306.1 105.1h0M336.2 73.4h0M301.7 114.7h0M342.0 78.5h0M334.7 121.2h0M309.3 103.2h0M332.0 74.1h0M337.8 72.8h0M309.2 119.9h0M318.1 99.6h0M342.8 85.8h0M332.4 118.9h0M329.2 121.1h0M345.0 87.4h0M321.4 94.0h0M340.3 100.0h0M332.1 74.2h0M303.8 115.9h0M326.2 79.4h0M311.7 120.1h0M332.0 119.4h0M340.5 75.8h0M336.8 115.8h0M316.7 100.7h0M328.0 119.0h0M316.7 100.2h0M335.7 73.2h0M321.1 94.8h0M322.2 96.3h0M309.0 103.9h0M323.1 78.3h0M316.9 99.5h0M305.8 105.6h0M325.0 79.5h0M303.7 119.6h0M325.2 79.4h0M319.3 97.4h0M318.6 121.1h0M329.3 120.6h0M306.8 118.9h0M342.6 80.0h0M322.1 97.0h0M342.3 94.3h0M302.7 112.8h0M342.5 82.6h0M326.0 79.4h0M319.5 119.6h0M324.0 89.6h0M312.0 120.2h0M342.6 87.9h0M322.3 90.2h0M341.3 112.6h0M323.2 119.0h0M313.6 122.5h0M302.6 115.5h0M342.9 85.5h0M331.2 118.2h0M342.9 84.7h0M303.6 107.2h0M338.6 113.8h0M316.0 119.5h0M335.9 116.5h0M344.1 94.3h0M326.0 77.1h0M320.2 92.4h0M307.4 119.3h0M340.7 98.5h0M318.2 99.3h0M316.0 98.9h0M341.9 77.9h0M328.2 118.7h0M333.1 118.1h0M313.6 91.0h0M336.0 116.5h0M306.6 118.2h0M342.2 97.8h0M312.7 119.6h0M317.9 101.0h0M338.8 108.5h0M321.7 95.7h0M308.0 123.8h0M315.4 100.3h0M338.0 74.1h0M339.7 101.4h0M327.5 120.0h0M328.8 120.9h0M321.6 97.1h0M314.7 119.1h0M330.1 75.3h0M310.9 119.0h0M326.1 122.2h0M342.1 78.3h0M317.4 119.9h0M326.2 121.1h0M322.7 93.2h0M316.4 101.5h0M340.4 98.8h0M308.1 103.2h0M320.6 82.3h0M317.1 101.4h0M312.6 119.1h0M341.3 99.4h0M324.8 85.7h0M322.6 88.5h0M322.2 83.7h0M344.5 82.7h0M331.8 74.5h0M311.3 100.6h0M317.6 101.1h0M311.4 102.2h0M342.4 87.8h0M344.4 77.4h0M302.5 113.3h0M320.9 96.0h0M325.6 120.0h0M332.5 74.7h0M305.3 105.1h0M308.8 120.6h0M337.6 118.4h0M309.4 103.4h0M335.6 74.3h0M310.7 102.7h0M322.2 78.9h0M303.0 114.8h0M334.6 73.7h0M300.8 120.6h0M337.3 116.3h0M310.9 98.0h0M342.2 94.6h0M339.5 103.2h0M338.6 115.0h0M339.0 105.8h0M341.3 94.1h0M303.6 100.5h0M339.4 109.4h0M341.7 94.6h0M328.8 76.4h0M324.4 81.2h0M343.2 86.8h0M315.5 119.5h0M304.5 118.0h0M306.3 119.5h0M343.4 107.1h0M326.1 119.7h0M342.7 80.1h0M326.2 78.0h0M325.2 83.6h0M325.0 81.3h0M340.9 114.9h0M342.0 78.4h0M319.2 120.7h0M310.9 102.7h0M319.3 119.3h0M310.1 119.9h0M303.4 115.6h0M312.7 120.6h0M321.6 96.6h0M342.5 95.6h0M341.6 76.1h0M309.2 103.2h0M325.6 120.6h0M333.1 118.9h0M328.1 76.0h0M331.9 120.4h0M339.0 105.9h0M342.5 100.9h0M342.0 110.2h0M309.0 98.6h0M342.7 86.5h0M317.6 120.6h0M336.9 115.9h0M342.4 99.6h0M325.7 119.1h0M347.3 82.1h0M321.3 95.8h0M325.3 81.0h0M324.9 82.3h0M338.9 106.9h0M332.2 120.3h0M327.5 76.4h0M303.9 116.7h0M329.4 76.2h0M311.5 119.0h0M340.5 76.0h0M338.6 73.6h0M323.4 86.3h0M317.9 121.2h0M343.2 80.1h0M320.1 99.7h0M310.0 102.2h0M323.8 82.0h0M317.1 98.9h0M322.2 95.1h0M334.8 117.3h0M319.7 89.9h0M314.2 119.3h0M343.4 78.4h0M334.7 117.5h0M341.0 74.8h0M311.8 119.8h0M303.7 107.2h0M319.8 92.1h0M325.2 84.0h0M325.6 72.9h0M334.3 70.9h0M329.1 119.6h0M342.5 80.9h0M318.0 82.8h0M330.0 119.8h0M308.8 102.8h0M303.9 116.3h0M315.7 87.3h0M307.1 120.3h0M302.9 111.6h0M322.3 96.1h0M314.9 93.4h0M310.8 98.8h0M341.2 99.8h0M339.6 109.3h0M342.5 81.0h0M339.9 73.8h0M342.6 82.7h0M341.5 93.2h0M305.0 118.6h0M341.0 99.2h0M306.7 105.0h0M329.6 121.0h0M324.5 74.9h0M337.1 116.7h0M319.7 89.4h0M345.9 87.1h0M338.8 119.4h0M342.8 79.7h0M340.2 102.3h0M309.9 119.0h0M338.9 112.8h0M321.1 119.9h0M310.8 101.9h0M311.1 100.3h0M319.5 86.2h0M319.1 99.2h0M302.3 111.9h0M301.9 117.4h0M340.5 104.1h0M326.4 79.2h0M329.6 118.9h0M315.6 99.8h0M323.7 89.1h0M306.4 104.6h0M343.8 80.7h0M340.1 100.0h0M334.6 117.7h0M330.3 119.1h0M342.1 92.4h0M341.0 98.1h0M324.9 82.0h0M316.8 99.7h0M344.4 99.2h0M344.6 79.8h0M334.2 73.4h0M344.6 83.9h0M316.7 98.9h0M312.3 119.1h0M339.4 103.8h0M305.3 117.9h0M320.9 119.1h0M302.1 116.7h0M339.4 103.2h0M312.0 97.4h0M336.8 116.3h0M319.3 100.3h0M342.3 97.2h0M332.9 74.5h0M321.1 90.1h0M310.1 120.6h0M319.9 92.7h0M312.4 119.4h0M305.3 117.5h0M308.5 118.6h0M322.7 90.9h0M342.7 84.8h0M317.7 121.2h0M315.4 101.9h0M340.9 97.6h0M341.0 108.4h0M302.9 114.6h0M302.6 112.8h0M339.2 111.8h0M337.9 113.4h0M317.8 97.3h0M324.9 84.7h0M323.5 88.6h0M323.6 86.6h0M324.3 119.2h0M321.7 92.7h0M317.5 120.2h0M327.9 76.3h0M302.9 113.8h0M335.7 117.2h0M318.1 93.9h0M310.8 99.3h0M328.2 76.5h0M339.3 106.0h0M339.8 104.6h0M301.5 116.4h0M324.2 77.3h0M343.7 84.6h0M334.6 120.5h0M336.0 117.1h0M339.3 106.0h0M328.2 119.3h0M319.4 79.9h0M308.8 104.0h0M304.8 105.5h0M341.3 98.5h0M339.9 101.9h0M338.4 113.1h0M323.2 92.2h0M319.4 89.2h0M327.9 74.3h0M309.6 119.3h0M338.5 113.4h0M339.7 74.5h0M303.0 110.1h0M334.9 74.6h0M323.7 119.8h0M331.8 75.1h0M328.5 119.9h0M338.0 120.8h0M321.7 96.2h0M326.4 79.1h0M320.5 76.1h0M334.4 119.0h0M340.7 107.3h0M342.5 86.8h0M312.1 102.2h0M305.2 118.7h0M338.6 112.2h0M342.3 91.8h0M323.1 91.4h0M325.9 79.1h0M340.9 75.6h0M328.9 120.3h0M320.9 85.1h0M344.1 86.3h0M335.9 117.0h0M342.1 89.8h0M339.1 109.0h0M317.0 91.3h0M325.7 80.4h0M308.5 104.0h0M312.6 94.8h0M313.0 101.9h0M316.0 120.3h0M319.4 99.3h0M335.7 117.1h0M342.1 95.7h0M334.1 118.9h0M333.8 117.8h0M325.1 82.6h0M321.9 97.1h0M342.5 78.0h0M339.9 107.6h0M318.3 83.4h0M330.0 75.2h0M316.9 82.3h0M341.7 76.3h0M334.6 117.8h0M339.9 106.0h0M302.2 111.3h0M333.6 117.6h0M306.2 104.2h0M327.2 120.2h0M317.2 119.8h0M332.8 74.8h0M324.8 119.2h0M342.3 88.8h0M323.4 76.7h0M338.9 108.4h0M306.7 104.1h0M315.1 97.2h0M337.3 115.4h0M309.3 102.2h0M342.4 80.8h0M342.1 91.8h0M340.4 118.9h0M343.1 85.5h0M342.5 86.0h0M302.1 109.3h0M324.7 80.9h0M326.3 77.7h0M321.4 120.6h0M343.4 97.1h0M319.2 83.9h0M316.2 119.5h0M325.0 120.0h0M339.7 106.7h0M330.4 118.5h0M342.6 93.8h0M340.8 98.1h0M303.8 116.3h0M340.5 98.3h0M309.3 103.2h0M336.9 74.2h0M323.6 89.2h0M314.9 101.5h0M332.0 118.3h0M334.2 118.5h0M300.7 112.3h0M313.8 99.3h0M344.2 84.1h0M338.5 111.6h0M321.5 97.6h0M303.9 118.5h0M341.8 91.3h0M339.4 105.8h0M338.4 74.9h0M343.6 86.8h0M305.7 102.9h0M342.4 90.1h0M322.6 95.7h0M302.2 109.0h0M342.4 76.9h0M322.9 119.1h0M312.4 120.0h0M336.7 115.8h0M329.6 73.9h0M314.2 102.0h0M321.0 98.1h0M335.2 74.2h0M303.4 116.0h0M330.5 119.3h0M317.5 94.1h0M318.5 99.8h0M315.0 98.2h0M303.8 106.8h0M302.3 112.7h0M331.5 75.0h0M303.0 113.7h0M334.3 73.8h0M336.6 72.5h0M304.7 118.4h0M320.9 99.2h0M322.1 90.3h0M337.4 73.3h0M339.9 101.3h0M328.5 74.4h0M329.9 75.3h0M323.3 91.2h0M319.6 91.8h0M324.4 87.4h0M343.8 87.7h0M342.9 89.1h0M342.3 89.1h0M342.8 87.6h0M340.6 105.9h0M326.3 119.6h0M343.4 98.9h0M343.7 76.5h0M318.4 100.3h0M323.8 89.1h0M339.9 106.3h0M339.7 108.9h0M322.5 93.8h0M304.6 104.9h0M323.0 86.8h0M337.0 118.8h0M302.2 110.3h0M343.0 81.7h0M307.1 104.9h0M311.8 119.3h0M321.1 80.7h0M342.6 92.0h0M339.0 107.8h0M340.9 98.1h0M319.1 99.4h0M323.8 87.9h0M344.0 79.6h0M302.9 111.3h0M322.6 90.7h0M302.9 115.0h0M338.4 111.4h0M305.4 117.9h0M302.8 112.3h0M330.7 73.6h0M326.2 79.9h0M313.7 95.6h0M338.8 114.2h0M341.5 107.2h0M311.3 122.1h0M336.3 116.4h0M325.6 81.2h0M307.7 102.8h0M340.7 103.2h0M335.5 117.5h0M337.5 114.9h0M343.7 88.1h0M322.7 94.7h0M342.7 95.4h0M326.2 79.9h0M343.5 76.5h0M337.6 74.1h0M324.0 83.4h0M342.8 79.8h0M326.6 76.1h0M343.6 86.5h0M339.1 72.7h0M300.5 110.7h0M325.6 78.8h0M322.5 94.9h0M318.2 80.1h0M302.9 115.5h0M342.0 90.3h0M342.5 90.6h0M335.7 74.2h0M312.8 101.2h0M333.1 118.8h0M323.9 83.9h0M343.1 78.9h0M316.4 90.2h0M324.7 119.8h0M319.7 84.1h0M302.7 115.7h0M325.4 80.1h0M337.5 74.2h0M342.8 77.9h0M330.6 118.8h0M326.0 77.5h0M319.0 91.6h0M324.3 78.5h0M323.7 74.3h0M313.4 102.1h0M309.9 119.0h0M338.9 74.5h0M341.4 93.4h0M314.7 119.2h0M343.1 93.2h0M342.2 75.2h0M342.1 91.0h0M332.1 74.5h0M322.8 92.4h0M318.9 83.3h0M324.0 77.3h0M325.3 81.3h0M320.6 99.7h0M338.8 108.7h0M323.8 88.6h0M316.0 119.5h0M340.7 106.6h0M303.8 107.5h0M307.2 97.7h0M322.1 119.4h0M328.4 76.5h0M341.8 78.0h0M319.4 79.3h0M325.0 82.3h0M337.0 118.2h0M339.5 75.1h0M319.1 93.6h0M334.9 72.7h0M308.4 118.5h0M340.6 97.8h0M345.3 77.4h0M343.0 83.8h0M339.1 74.7h0M313.9 121.2h0M342.5 86.3h0M338.9 110.0h0M342.6 82.4h0M333.5 118.8h0M343.1 88.9h0M325.5 80.4h0M342.8 87.9h0M338.1 113.8h0M337.1 74.2h0M340.9 97.3h0M339.9 107.2h0M309.3 118.6h0M330.4 75.6h0M329.9 74.8h0M302.5 111.0h0M307.9 118.8h0M340.1 105.1h0M340.6 98.7h0M321.6 92.7h0M300.0 114.8h0M325.3 80.5h0M330.1 75.4h0M337.7 114.2h0M311.8 102.3h0M302.7 107.2h0M326.7 119.0h0M322.2 77.0h0M332.9 118.5h0M315.5 101.9h0M322.3 119.4h0M342.6 88.4h0M341.2 108.3h0M340.8 97.3h0M324.8 85.1h0M342.6 70.8h0M319.8 80.7h0M341.6 95.0h0M338.8 114.2h0M343.1 96.5h0M320.2 98.6h0M323.5 89.7h0M310.5 94.7h0M338.8 109.6h0M325.7 119.0h0M313.8 101.9h0M340.3 100.3h0M320.9 99.2h0M329.4 119.5h0M333.3 118.6h0M320.5 97.2h0M312.3 119.2h0M342.7 84.3h0M305.0 117.6h0M303.4 115.9h0M333.5 68.0h0M339.6 104.1h0M334.3 73.5h0M322.0 81.7h0M343.3 88.5h0M311.5 121.0h0M300.9 114.8h0M341.0 98.5h0M304.9 117.7h0M320.8 75.0h0M335.6 73.0h0M339.2 73.7h0M343.2 96.4h0M339.8 101.8h0M302.6 113.9h0M310.8 96.4h0M342.3 77.1h0M323.6 91.3h0M342.4 79.9h0M311.9 95.3h0M332.7 74.5h0M306.0 118.3h0M327.3 120.9h0M321.2 120.6h0M306.7 100.9h0M335.1 117.7h0M342.0 90.0h0M310.1 94.7h0M303.6 118.3h0M339.7 114.4h0M319.4 119.4h0M319.8 96.0h0M342.6 84.9h0M323.9 87.9h0M323.1 91.3h0M311.8 101.4h0M314.1 119.3h0M323.4 89.3h0M342.3 89.8h0M317.3 101.1h0M308.2 119.9h0M341.4 94.3h0M337.8 118.7h0M321.6 97.3h0M304.2 102.0h0M302.9 110.6h0M321.4 97.1h0M323.2 84.0h0M321.6 119.2h0M340.1 111.1h0M336.0 117.2h0M323.6 91.9h0M340.5 73.7h0M338.3 74.1h0M324.8 119.2h0M324.0 85.5h0M342.8 97.9h0M332.4 74.5h0M322.2 119.6h0M340.8 76.1h0M312.0 94.2h0M342.5 94.4h0M340.0 109.8h0M322.6 90.1h0M321.7 96.7h0M338.9 106.5h0M337.2 116.8h0M306.1 118.7h0M311.5 102.0h0M341.2 76.7h0M303.5 107.1h0M341.2 95.1h0M342.2 88.0h0M341.9 90.5h0M334.7 118.3h0M340.2 102.3h0M323.0 84.7h0M345.9 83.7h0M302.9 114.4h0M317.2 101.2h0M321.4 89.2h0M338.5 115.5h0M326.6 119.8h0M326.1 78.3h0M334.9 73.8h0M302.8 110.5h0M309.7 119.2h0M316.3 83.1h0M321.5 98.4h0M324.1 119.3h0M322.2 90.7h0M343.7 84.0h0M318.7 91.2h0M316.4 119.4h0M323.0 92.2h0M309.4 100.1h0M315.4 101.5h0M338.5 110.9h0M321.7 119.1h0M341.2 95.5h0M315.0 102.0h0M331.6 118.3h0M311.6 119.4h0M328.5 75.3h0M331.6 73.2h0M338.3 112.2h0M303.5 115.2h0M310.3 102.2h0M304.7 117.4h0M309.3 103.1h0M341.1 97.7h0M313.5 94.3h0M325.7 81.3h0M322.1 85.2h0M338.7 109.1h0M341.8 72.4h0M318.2 120.4h0M343.2 83.5h0M342.7 77.3h0M328.2 119.8h0M312.8 102.6h0M341.0 98.6h0M332.3 74.1h0M304.4 117.3h0M309.2 96.5h0M329.1 76.2h0M320.6 75.5h0M319.6 100.0h0M338.6 74.9h0M323.5 76.1h0M323.0 79.4h0M341.0 95.8h0M338.1 74.5h0M328.3 75.6h0M339.3 75.0h0M340.7 98.7h0M309.4 119.7h0M310.1 98.7h0M309.1 103.7h0M339.1 106.3h0M318.0 119.7h0M316.1 79.7h0M324.1 119.2h0M316.3 100.9h0M304.4 104.7h0M312.4 121.6h0M337.1 115.4h0M312.3 102.5h0M332.1 118.6h0M315.2 99.6h0M320.4 98.8h0M340.4 75.6h0M316.4 101.6h0M314.0 119.1h0M330.4 73.5h0M311.9 101.4h0M316.5 121.6h0M302.2 107.8h0M338.2 74.8h0M310.2 103.1h0M356.3 66.1h0M358.1 107.1h0M349.1 114.4h0M333.7 70.6h0M306.9 99.5h0M321.1 93.7h0M321.1 106.8h0M336.9 94.0h0M351.4 88.8h0M356.6 82.8h0M310.8 64.8h0M314.0 92.6h0M362.7 90.6h0M360.2 65.1h0M341.7 62.4h0M303.8 110.8h0M334.6 72.5h0M307.9 104.9h0M356.7 70.5h0M342.7 77.9h0" stroke="#111" stroke-width="0.84" stroke-linecap="square" fill="none"/>
<path d="M318.2 119.2L317.9 119.2L317.5 119.2L317.1 119.2L316.7 119.1L316.5 119.1L316.1 119.1L315.7 119.1L315.4 119.1L315.0 119.1L314.6 119.1L314.2 119.1L313.9 119.1L313.5 119.1L313.1 119.1L312.9 118.9L312.5 118.9L312.1 118.9L311.7 118.9L311.5 118.8L311.1 118.8L310.7 118.8L310.5 118.7L310.1 118.7L309.7 118.7L309.5 118.6L309.1 118.6L308.7 118.6L308.5 118.4L308.1 118.3L307.9 118.3L307.6 118.2L307.2 118.1L307.0 118.1L306.7 117.9L306.5 117.8L306.1 117.7L305.9 117.6L305.7 117.4L305.5 117.3L305.2 117.2L305.0 117.0L304.9 116.8L304.6 116.7L304.4 116.5L304.2 116.3L304.0 116.1L303.9 115.8L303.7 115.6L303.6 115.3L303.5 115.1L303.4 114.8L303.2 114.6L303.1 114.3L303.0 114.1L303.0 113.7L302.9 113.5L302.9 113.1L302.9 112.7L302.9 112.3L302.9 112.0L302.9 111.6L302.9 111.2L303.0 110.8L303.0 110.6L303.0 110.2L303.1 110.0L303.2 109.6L303.4 109.3L303.4 109.1L303.5 108.8L303.6 108.6L303.7 108.3L303.9 108.1L304.0 107.8L304.1 107.6L304.2 107.3L304.5 107.1L304.6 106.8L304.7 106.7L304.9 106.5L305.1 106.2L305.2 106.1L305.5 105.8L305.6 105.7L305.9 105.5L306.1 105.3L306.4 105.2L306.5 105.1L306.7 105.0L307.0 104.8L307.2 104.6L307.5 104.5L307.7 104.3L308.0 104.2L308.2 104.1L308.5 104.1L308.7 104.0L309.0 103.8L309.4 103.7L309.6 103.6L309.9 103.5L310.1 103.3L310.4 103.3L310.7 103.2L311.0 103.1L311.2 103.0L311.5 102.8L311.9 102.8L312.1 102.7L312.4 102.6L312.7 102.6L313.0 102.5L313.4 102.5L313.6 102.3L313.9 102.2L314.1 102.1L314.4 102.1L314.7 102.0L315.0 102.0L315.4 101.8L315.6 101.7L315.9 101.7L316.2 101.6L316.5 101.5L316.7 101.5L317.1 101.3L317.4 101.2L317.6 101.1L317.9 101.1L318.1 101.0L318.5 100.8L318.7 100.7L319.0 100.6L319.2 100.5L319.5 100.3L319.7 100.2L319.9 100.1L320.1 100.0L320.4 99.7L320.5 99.6L320.7 99.3L320.9 99.2L321.1 99.0L321.2 98.7L321.4 98.6L321.5 98.3L321.6 98.1L321.7 97.8L321.9 97.6L322.0 97.3L322.1 97.0L322.1 96.7L322.2 96.5L322.4 96.2L322.5 95.8L322.5 95.6L322.6 95.3L322.6 95.0L322.7 94.7L322.7 94.3L322.9 94.1L323.0 93.8L323.1 93.5L323.1 93.2L323.2 93.0L323.2 92.6L323.4 92.3L323.4 92.0L323.5 91.7L323.5 91.3L323.6 91.1L323.6 90.7L323.7 90.5L323.7 90.1L323.9 89.8L323.9 89.5L324.0 89.2L324.0 88.8L324.1 88.6L324.1 88.2L324.2 88.0L324.4 87.6L324.4 87.3L324.5 87.1L324.5 86.7L324.6 86.5L324.6 86.1L324.7 85.8L324.7 85.5L324.9 85.2L324.9 84.8L325.0 84.6L325.1 84.2L325.1 84.0L325.2 83.7L325.2 83.3L325.4 83.0L325.4 82.7L325.5 82.3L325.6 82.1L325.6 81.8L325.7 81.6L325.7 81.2L325.9 81.0L325.9 80.6L326.0 80.3L326.1 80.0L326.1 79.7L326.2 79.5L326.4 79.1L326.4 78.8L326.5 78.6L326.6 78.3L326.7 78.1L327.0 77.8L327.1 77.7L327.2 77.5L327.5 77.2L327.6 77.1L327.9 76.8L328.1 76.7L328.4 76.6L328.6 76.5L328.9 76.3L329.1 76.2L329.4 76.1L329.6 76.0L329.9 75.8L330.1 75.7L330.4 75.6L330.6 75.5L330.9 75.3L331.2 75.3L331.5 75.2L331.7 75.2L332.0 75.1L332.2 75.0L332.5 74.8L332.9 74.7L333.1 74.7L333.5 74.6L333.7 74.6L334.1 74.5L334.5 74.5L334.9 74.5L335.1 74.3L335.5 74.3L335.9 74.3L336.2 74.3L336.6 74.3L337.0 74.5L337.2 74.5L337.5 74.6L337.9 74.6L338.1 74.7L338.4 74.8L338.6 75.0L339.0 75.1L339.1 75.2L339.4 75.3L339.6 75.5L339.9 75.6L340.1 75.8L340.2 76.0L340.5 76.2L340.6 76.3L340.8 76.6L341.0 76.8L341.1 77.0L341.2 77.2L341.5 77.5L341.6 77.7L341.7 78.0L341.8 78.2L342.0 78.5L342.0 78.8L342.1 79.1L342.1 79.5L342.2 79.7L342.2 80.1L342.3 80.3L342.3 80.7L342.4 81.0L342.5 81.3L342.5 81.7L342.5 82.1L342.5 82.5L342.5 82.8L342.5 83.2L342.5 83.6L342.5 84.0L342.5 84.3L342.5 84.7L342.5 85.1L342.5 85.5L342.5 85.8L342.3 86.1L342.3 86.5L342.3 86.8L342.2 87.1L342.2 87.5L342.2 87.8L342.1 88.1L342.1 88.5L342.0 88.8L342.0 89.1L342.0 89.5L341.9 89.8L341.8 90.1L341.8 90.5L341.7 90.8L341.7 91.1L341.7 91.5L341.6 91.7L341.6 92.1L341.5 92.4L341.5 92.7L341.3 93.0L341.3 93.3L341.2 93.7L341.2 94.0L341.1 94.3L341.1 94.6L341.0 94.8L341.0 95.2L340.9 95.6L340.8 95.8L340.7 96.2L340.7 96.5L340.6 96.7L340.6 97.1L340.5 97.4L340.5 97.7L340.4 98.1L340.3 98.3L340.2 98.6L340.2 99.0L340.1 99.2L340.1 99.6L340.0 99.8L340.0 100.2L339.8 100.5L339.7 100.8L339.7 101.1L339.6 101.3L339.6 101.7L339.5 102.1L339.5 102.3L339.4 102.7L339.3 103.0L339.2 103.2L339.2 103.6L339.1 103.8L339.1 104.2L339.0 104.6L339.0 104.8L339.0 105.2L338.8 105.5L338.8 105.8L338.8 106.2L338.8 106.6L338.8 107.0L338.7 107.2L338.7 107.6L338.7 108.0L338.7 108.3L338.7 108.7L338.6 109.1L338.6 109.3L338.6 109.7L338.5 110.0L338.5 110.3L338.5 110.7L338.3 111.0L338.3 111.3L338.2 111.6L338.2 112.0L338.1 112.3L338.1 112.6L338.0 112.9L338.0 113.2L337.8 113.5L337.7 113.7L337.6 114.0L337.5 114.2L337.3 114.5L337.2 114.8L337.1 115.1L337.0 115.3L336.8 115.5L336.7 115.7L336.5 115.9L336.3 116.1L336.1 116.3L335.9 116.4L335.7 116.6L335.5 116.7L335.2 116.9L335.0 117.1L334.7 117.2L334.5 117.3L334.2 117.4L334.0 117.5L333.6 117.6L333.4 117.7L333.1 117.7L332.7 117.8L332.5 117.9L332.2 118.0L331.9 118.1L331.6 118.2L331.2 118.2L330.9 118.2L330.6 118.3L330.2 118.3L330.0 118.4L329.6 118.4L329.4 118.6L329.0 118.6L328.6 118.6L328.4 118.7L328.0 118.7L327.6 118.7L327.2 118.7L327.0 118.8L326.6 118.8L326.2 118.8L325.9 118.8L325.6 118.9L325.2 118.9L324.9 118.9L324.5 118.9L324.1 118.9L323.7 118.9L323.4 118.9L323.0 118.9L322.7 119.0L322.4 119.1L322.0 119.1L321.6 119.1L321.2 119.1L320.9 119.1L320.5 119.1L320.1 119.1L319.7 119.1L319.4 119.1L319.0 119.1L318.6 119.1L318.3 119.1Z" fill="#c4c4c4" stroke="#000" stroke-width="1.1" stroke-linejoin="round"/>
<path d="M316.5 118.0L316.1 118.0L315.7 118.0L315.4 118.0L315.0 118.0L314.7 117.9L314.4 117.9L314.0 117.9L313.6 117.9L313.3 117.8L313.0 117.8L312.6 117.7L312.4 117.7L312.0 117.6L311.7 117.6L311.4 117.5L311.1 117.5L310.7 117.4L310.5 117.3L310.1 117.2L309.9 117.2L309.5 117.1L309.2 117.0L309.0 116.9L308.6 116.8L308.4 116.8L308.1 116.7L307.9 116.6L307.6 116.5L307.3 116.3L307.0 116.2L306.8 116.1L306.6 115.9L306.4 115.8L306.1 115.6L306.0 115.4L305.7 115.2L305.6 115.0L305.4 114.8L305.3 114.6L305.1 114.3L305.0 114.1L304.9 113.8L304.8 113.6L304.7 113.2L304.7 113.0L304.6 112.6L304.6 112.3L304.6 112.0L304.6 111.7L304.6 111.3L304.7 111.0L304.7 110.7L304.8 110.3L304.9 110.1L305.0 109.8L305.1 109.5L305.2 109.2L305.4 109.0L305.5 108.7L305.6 108.5L305.7 108.3L305.9 108.1L306.1 107.8L306.2 107.6L306.4 107.5L306.6 107.2L306.7 107.1L307.0 106.9L307.2 106.7L307.4 106.6L307.6 106.4L307.9 106.2L308.1 106.1L308.3 106.0L308.5 105.8L308.8 105.7L309.0 105.6L309.3 105.5L309.5 105.3L309.8 105.2L310.1 105.1L310.4 105.0L310.6 104.9L310.9 104.8L311.1 104.7L311.4 104.6L311.7 104.5L312.0 104.4L312.2 104.3L312.6 104.2L312.9 104.1L313.1 104.1L313.5 104.0L313.7 103.9L314.0 103.8L314.4 103.7L314.6 103.6L314.9 103.6L315.2 103.5L315.5 103.4L315.8 103.3L316.1 103.2L316.4 103.2L316.7 103.1L317.0 103.0L317.2 102.9L317.6 102.8L317.9 102.7L318.1 102.6L318.4 102.6L318.6 102.5L319.0 102.3L319.2 102.2L319.5 102.1L319.7 102.0L320.0 101.9L320.2 101.7L320.5 101.6L320.6 101.5L320.9 101.3L321.1 101.1L321.3 101.0L321.5 100.8L321.7 100.6L321.9 100.4L322.1 100.2L322.2 100.0L322.4 99.8L322.6 99.6L322.7 99.3L322.9 99.1L323.0 98.9L323.1 98.7L323.2 98.4L323.4 98.2L323.5 97.9L323.6 97.6L323.7 97.3L323.8 97.1L323.9 96.8L324.0 96.5L324.0 96.2L324.1 96.0L324.2 95.6L324.3 95.3L324.4 95.1L324.4 94.7L324.5 94.5L324.6 94.1L324.7 93.8L324.7 93.6L324.8 93.2L324.9 93.0L325.0 92.6L325.0 92.3L325.1 92.0L325.2 91.7L325.2 91.3L325.3 91.1L325.4 90.7L325.4 90.5L325.5 90.1L325.5 89.8L325.6 89.5L325.7 89.2L325.7 88.8L325.8 88.6L325.9 88.2L325.9 88.0L326.0 87.6L326.0 87.3L326.1 87.0L326.1 86.7L326.2 86.3L326.3 86.1L326.3 85.7L326.4 85.5L326.5 85.1L326.5 84.8L326.6 84.5L326.6 84.2L326.7 83.8L326.7 83.6L326.8 83.2L326.9 83.0L327.0 82.6L327.0 82.3L327.1 82.0L327.2 81.7L327.2 81.5L327.4 81.1L327.4 80.8L327.5 80.6L327.6 80.3L327.7 80.0L327.9 79.7L328.0 79.5L328.1 79.2L328.2 79.1L328.4 78.8L328.6 78.6L328.7 78.4L329.0 78.2L329.1 78.1L329.4 77.9L329.6 77.7L329.9 77.6L330.1 77.5L330.3 77.3L330.6 77.2L330.8 77.1L331.1 77.0L331.4 76.9L331.6 76.8L331.9 76.7L332.1 76.6L332.5 76.5L332.7 76.4L333.0 76.3L333.4 76.2L333.6 76.1L333.9 76.1L334.2 76.0L334.6 76.0L334.9 76.0L335.2 75.9L335.6 75.9L336.0 75.9L336.2 76.0L336.6 76.0L336.9 76.1L337.2 76.2L337.5 76.2L337.7 76.3L338.0 76.5L338.2 76.6L338.5 76.7L338.7 76.9L339.0 77.1L339.2 77.2L339.4 77.4L339.5 77.6L339.7 77.8L339.9 78.0L340.0 78.2L340.2 78.5L340.3 78.7L340.4 79.0L340.6 79.2L340.7 79.5L340.7 79.7L340.9 80.0L340.9 80.3L341.0 80.6L341.1 81.0L341.1 81.2L341.2 81.6L341.2 81.8L341.3 82.2L341.3 82.6L341.3 83.0L341.4 83.3L341.4 83.6L341.4 84.0L341.4 84.3L341.3 84.6L341.3 85.0L341.3 85.3L341.2 85.7L341.2 86.0L341.1 86.3L341.1 86.6L341.0 87.0L341.0 87.2L340.9 87.6L340.9 87.8L340.8 88.2L340.7 88.5L340.6 88.8L340.6 89.1L340.5 89.5L340.4 89.7L340.4 90.1L340.3 90.3L340.2 90.7L340.2 91.0L340.1 91.3L340.0 91.6L340.0 91.8L339.9 92.2L339.8 92.5L339.8 92.8L339.7 93.1L339.6 93.5L339.6 93.7L339.5 94.1L339.4 94.3L339.4 94.7L339.3 95.0L339.2 95.3L339.2 95.6L339.1 95.9L339.0 96.2L339.0 96.5L338.9 96.8L338.9 97.1L338.8 97.5L338.7 97.7L338.6 98.1L338.6 98.3L338.5 98.7L338.5 99.0L338.4 99.3L338.3 99.6L338.2 100.0L338.2 100.2L338.1 100.6L338.1 100.8L338.0 101.2L337.9 101.5L337.9 101.8L337.8 102.1L337.7 102.4L337.7 102.7L337.6 103.0L337.5 103.3L337.5 103.7L337.4 104.0L337.4 104.3L337.3 104.6L337.3 105.0L337.3 105.3L337.2 105.7L337.2 106.0L337.2 106.3L337.1 106.7L337.1 107.1L337.1 107.3L337.1 107.7L337.0 108.1L337.0 108.5L337.0 108.7L336.9 109.1L336.9 109.5L336.8 109.7L336.8 110.1L336.7 110.5L336.7 110.7L336.6 111.1L336.6 111.3L336.5 111.7L336.4 112.0L336.4 112.3L336.3 112.6L336.2 112.8L336.1 113.1L336.0 113.3L335.8 113.6L335.7 113.8L335.6 114.1L335.4 114.3L335.2 114.5L335.1 114.7L334.9 114.9L334.6 115.1L334.5 115.2L334.2 115.4L334.0 115.5L333.7 115.6L333.5 115.8L333.2 115.9L333.0 116.0L332.7 116.1L332.4 116.2L332.1 116.2L331.8 116.3L331.5 116.4L331.2 116.5L330.9 116.5L330.6 116.6L330.2 116.6L329.9 116.7L329.6 116.7L329.2 116.8L329.0 116.8L328.6 116.9L328.2 116.9L328.0 117.0L327.6 117.0L327.2 117.1L327.0 117.1L326.6 117.1L326.2 117.2L325.9 117.2L325.6 117.2L325.2 117.2L324.9 117.3L324.5 117.3L324.1 117.3L323.9 117.3L323.5 117.4L323.1 117.4L322.7 117.4L322.4 117.4L322.1 117.5L321.7 117.5L321.4 117.5L321.0 117.6L320.7 117.6L320.4 117.6L320.0 117.7L319.7 117.7L319.4 117.7L319.0 117.8L318.6 117.8L318.4 117.8L318.0 117.9L317.6 117.9L317.2 117.9L316.9 117.9L316.6 118.0Z" fill="#cacaca" stroke="#444" stroke-width="0.6" stroke-linejoin="round"/>
<path d="M317.4 116.5L317.0 116.5L316.6 116.5L316.2 116.5L315.9 116.5L315.5 116.5L315.1 116.5L314.7 116.5L314.4 116.5L314.0 116.5L313.7 116.4L313.4 116.4L313.0 116.3L312.7 116.3L312.4 116.2L312.1 116.1L311.8 116.1L311.5 116.0L311.2 115.9L310.9 115.8L310.6 115.8L310.4 115.7L310.0 115.6L309.7 115.5L309.5 115.4L309.2 115.3L308.9 115.2L308.6 115.1L308.4 115.0L308.1 114.8L307.9 114.7L307.7 114.6L307.5 114.4L307.3 114.2L307.1 114.0L306.9 113.8L306.8 113.6L306.7 113.3L306.6 113.1L306.5 112.8L306.4 112.5L306.4 112.1L306.4 111.7L306.4 111.3L306.5 111.0L306.5 110.7L306.6 110.4L306.7 110.1L306.8 109.8L307.0 109.6L307.1 109.3L307.2 109.1L307.4 109.0L307.6 108.7L307.7 108.5L307.9 108.3L308.1 108.1L308.3 108.0L308.5 107.8L308.7 107.6L309.0 107.5L309.2 107.3L309.4 107.2L309.7 107.1L309.9 107.0L310.2 106.8L310.4 106.7L310.7 106.6L311.0 106.5L311.2 106.3L311.5 106.2L311.7 106.2L312.0 106.1L312.3 106.0L312.6 105.8L312.9 105.8L313.1 105.7L313.5 105.6L313.7 105.5L314.0 105.4L314.4 105.3L314.6 105.3L314.9 105.2L315.2 105.1L315.5 105.1L315.9 105.0L316.1 104.9L316.4 104.8L316.7 104.8L317.0 104.7L317.4 104.6L317.6 104.5L317.9 104.5L318.2 104.4L318.5 104.3L318.8 104.2L319.1 104.1L319.4 104.0L319.6 103.9L319.9 103.8L320.2 103.7L320.4 103.6L320.7 103.5L320.9 103.3L321.2 103.2L321.4 103.1L321.6 102.9L321.9 102.8L322.1 102.6L322.3 102.5L322.5 102.3L322.7 102.1L322.9 101.9L323.1 101.7L323.2 101.5L323.4 101.3L323.6 101.1L323.7 101.0L323.9 100.7L324.1 100.5L324.2 100.3L324.4 100.1L324.5 99.8L324.6 99.6L324.8 99.3L324.9 99.1L325.0 98.8L325.1 98.5L325.2 98.2L325.3 98.0L325.4 97.7L325.5 97.5L325.6 97.1L325.7 96.8L325.8 96.6L325.9 96.2L325.9 96.0L326.0 95.7L326.1 95.3L326.2 95.1L326.2 94.8L326.3 94.5L326.4 94.2L326.5 93.8L326.5 93.6L326.6 93.3L326.7 93.0L326.7 92.7L326.8 92.3L326.9 92.1L326.9 91.7L327.0 91.5L327.0 91.1L327.1 90.8L327.2 90.5L327.2 90.1L327.3 89.8L327.3 89.5L327.4 89.2L327.5 88.8L327.5 88.6L327.6 88.2L327.6 88.0L327.7 87.6L327.7 87.2L327.8 87.0L327.8 86.6L327.9 86.3L327.9 86.0L328.0 85.6L328.0 85.3L328.1 85.0L328.1 84.7L328.2 84.3L328.2 84.0L328.3 83.7L328.4 83.4L328.4 83.1L328.5 82.8L328.6 82.5L328.6 82.2L328.7 81.8L328.8 81.6L328.9 81.3L329.0 81.1L329.1 80.8L329.2 80.5L329.4 80.3L329.5 80.1L329.7 79.8L329.9 79.6L330.0 79.5L330.2 79.3L330.5 79.1L330.6 79.0L330.9 78.8L331.1 78.7L331.4 78.5L331.6 78.4L331.9 78.3L332.1 78.2L332.4 78.1L332.7 78.0L333.0 77.9L333.2 77.8L333.6 77.7L333.9 77.6L334.2 77.6L334.5 77.5L334.9 77.5L335.2 77.5L335.6 77.5L336.0 77.5L336.4 77.6L336.6 77.6L336.9 77.7L337.2 77.8L337.5 78.0L337.7 78.1L337.9 78.2L338.1 78.4L338.3 78.6L338.5 78.7L338.7 79.0L338.8 79.2L339.0 79.4L339.1 79.6L339.2 79.9L339.4 80.2L339.4 80.5L339.5 80.7L339.6 81.0L339.7 81.3L339.8 81.6L339.8 82.0L339.9 82.2L339.9 82.6L339.9 83.0L340.0 83.3L340.0 83.7L340.0 84.0L340.0 84.2L340.0 84.6L339.9 85.0L339.9 85.3L339.8 85.6L339.8 86.0L339.7 86.3L339.7 86.6L339.6 86.8L339.5 87.2L339.4 87.5L339.4 87.8L339.3 88.1L339.2 88.3L339.1 88.7L339.0 89.0L339.0 89.2L338.9 89.6L338.8 89.8L338.7 90.1L338.6 90.5L338.5 90.7L338.5 91.0L338.4 91.3L338.3 91.6L338.2 91.9L338.2 92.2L338.1 92.5L338.0 92.8L337.9 93.1L337.9 93.5L337.8 93.7L337.7 94.0L337.7 94.3L337.6 94.6L337.5 95.0L337.5 95.2L337.4 95.6L337.3 95.8L337.3 96.2L337.2 96.5L337.1 96.8L337.1 97.1L337.0 97.5L336.9 97.7L336.9 98.1L336.8 98.3L336.7 98.7L336.7 99.0L336.6 99.3L336.5 99.6L336.5 99.8L336.4 100.2L336.3 100.5L336.3 100.8L336.2 101.1L336.1 101.5L336.1 101.7L336.0 102.1L335.9 102.3L335.9 102.7L335.8 103.0L335.8 103.3L335.7 103.6L335.7 104.0L335.6 104.3L335.6 104.6L335.5 105.0L335.5 105.3L335.5 105.6L335.4 106.0L335.4 106.3L335.4 106.7L335.4 107.1L335.3 107.3L335.3 107.7L335.3 108.1L335.2 108.5L335.2 108.7L335.2 109.1L335.1 109.5L335.1 109.7L335.0 110.1L335.0 110.3L334.9 110.7L334.9 111.0L334.8 111.3L334.7 111.6L334.6 111.9L334.5 112.2L334.4 112.5L334.2 112.7L334.1 112.9L334.0 113.1L333.8 113.3L333.6 113.5L333.4 113.7L333.2 113.8L333.0 114.0L332.7 114.1L332.5 114.2L332.2 114.3L331.9 114.5L331.6 114.5L331.4 114.6L331.0 114.7L330.7 114.8L330.4 114.8L330.1 114.9L329.7 114.9L329.5 115.0L329.1 115.0L328.9 115.1L328.5 115.1L328.1 115.2L327.9 115.2L327.5 115.3L327.1 115.3L326.9 115.3L326.5 115.4L326.1 115.4L325.7 115.4L325.5 115.5L325.1 115.5L324.7 115.5L324.4 115.6L324.1 115.6L323.7 115.6L323.4 115.6L323.0 115.7L322.7 115.7L322.4 115.8L322.0 115.8L321.7 115.8L321.4 115.9L321.0 115.9L320.7 116.0L320.4 116.0L320.1 116.1L319.7 116.1L319.4 116.2L319.1 116.2L318.7 116.3L318.4 116.3L318.1 116.4L317.7 116.4L317.4 116.5Z" fill="#d0d0d0" stroke="#555" stroke-width="0.55" stroke-linejoin="round"/>
<path d="M316.6 115.2L316.2 115.2L315.9 115.3L315.5 115.3L315.1 115.3L314.7 115.2L314.4 115.2L314.1 115.2L313.7 115.1L313.5 115.1L313.1 115.0L312.9 114.9L312.5 114.8L312.2 114.8L312.0 114.7L311.6 114.6L311.4 114.5L311.1 114.4L310.9 114.3L310.5 114.2L310.2 114.1L310.0 114.0L309.7 113.8L309.5 113.7L309.3 113.6L309.1 113.5L308.9 113.3L308.6 113.1L308.5 112.9L308.4 112.7L308.2 112.4L308.1 112.1L308.1 111.7L308.1 111.3L308.2 111.0L308.3 110.7L308.4 110.5L308.5 110.2L308.6 110.0L308.8 109.7L309.0 109.5L309.2 109.3L309.4 109.1L309.6 109.0L309.7 108.8L310.0 108.6L310.2 108.5L310.5 108.3L310.7 108.2L310.9 108.1L311.2 108.0L311.4 107.8L311.7 107.7L312.0 107.6L312.2 107.5L312.5 107.4L312.7 107.3L313.0 107.2L313.3 107.1L313.6 107.0L313.9 106.9L314.2 106.8L314.5 106.7L314.7 106.7L315.1 106.6L315.4 106.5L315.7 106.5L316.0 106.4L316.4 106.3L316.6 106.3L317.0 106.2L317.2 106.2L317.6 106.1L317.9 106.0L318.2 106.0L318.5 105.9L318.9 105.8L319.1 105.8L319.4 105.7L319.7 105.6L320.0 105.5L320.2 105.4L320.6 105.3L320.9 105.2L321.1 105.1L321.4 105.0L321.6 104.9L321.9 104.8L322.1 104.6L322.4 104.5L322.6 104.3L322.8 104.2L323.0 104.1L323.2 103.9L323.4 103.7L323.6 103.6L323.9 103.3L324.0 103.2L324.2 103.0L324.4 102.8L324.6 102.6L324.7 102.4L324.9 102.2L325.1 102.0L325.2 101.8L325.4 101.6L325.6 101.3L325.7 101.1L325.9 100.9L326.0 100.7L326.1 100.5L326.2 100.2L326.4 100.0L326.5 99.7L326.6 99.4L326.7 99.1L326.8 98.8L326.9 98.6L327.0 98.3L327.1 98.0L327.2 97.7L327.3 97.5L327.4 97.2L327.5 96.8L327.5 96.6L327.6 96.3L327.7 96.0L327.8 95.7L327.9 95.3L327.9 95.1L328.0 94.8L328.1 94.5L328.1 94.2L328.2 93.8L328.3 93.6L328.4 93.2L328.4 93.0L328.5 92.6L328.5 92.3L328.6 92.0L328.6 91.7L328.7 91.3L328.7 91.1L328.8 90.7L328.9 90.4L328.9 90.1L329.0 89.7L329.0 89.5L329.0 89.1L329.1 88.7L329.1 88.5L329.1 88.1L329.2 87.7L329.2 87.3L329.2 87.1L329.3 86.7L329.3 86.3L329.3 86.0L329.4 85.7L329.4 85.3L329.5 85.0L329.5 84.7L329.5 84.3L329.6 84.0L329.7 83.7L329.7 83.3L329.8 83.1L329.9 82.8L329.9 82.5L330.0 82.2L330.1 82.0L330.2 81.7L330.4 81.4L330.5 81.2L330.6 81.0L330.8 80.7L331.0 80.5L331.2 80.3L331.4 80.2L331.6 80.0L331.8 79.8L332.0 79.7L332.3 79.6L332.6 79.5L332.9 79.3L333.1 79.2L333.4 79.1L333.6 79.1L334.0 79.0L334.2 78.9L334.6 78.9L335.0 78.8L335.4 78.8L335.7 78.9L336.1 78.9L336.4 79.0L336.6 79.1L336.9 79.2L337.1 79.4L337.3 79.6L337.5 79.7L337.7 80.0L337.8 80.2L338.0 80.4L338.1 80.7L338.2 80.9L338.3 81.2L338.4 81.5L338.5 81.7L338.6 82.1L338.6 82.3L338.7 82.7L338.7 83.1L338.7 83.3L338.8 83.7L338.8 84.1L338.7 84.5L338.7 84.7L338.7 85.1L338.6 85.5L338.6 85.7L338.5 86.1L338.4 86.3L338.4 86.6L338.2 87.0L338.2 87.2L338.1 87.5L338.0 87.8L337.9 88.1L337.8 88.3L337.7 88.6L337.6 88.8L337.5 89.1L337.4 89.5L337.3 89.7L337.2 90.0L337.1 90.2L337.0 90.5L336.9 90.8L336.8 91.1L336.7 91.3L336.6 91.7L336.5 92.0L336.5 92.2L336.4 92.6L336.3 92.8L336.2 93.1L336.1 93.5L336.1 93.7L336.0 94.1L335.9 94.3L335.9 94.6L335.8 95.0L335.7 95.2L335.6 95.6L335.6 95.8L335.5 96.2L335.5 96.5L335.4 96.8L335.3 97.1L335.2 97.5L335.2 97.7L335.1 98.1L335.1 98.3L335.0 98.7L334.9 99.0L334.9 99.3L334.8 99.6L334.7 99.9L334.6 100.2L334.6 100.5L334.5 100.8L334.5 101.1L334.4 101.5L334.3 101.7L334.3 102.1L334.2 102.3L334.1 102.7L334.1 103.0L334.0 103.3L334.0 103.7L333.9 104.0L333.9 104.3L333.9 104.7L333.8 105.0L333.8 105.3L333.7 105.7L333.7 106.0L333.7 106.3L333.7 106.7L333.6 107.1L333.6 107.5L333.6 107.7L333.6 108.1L333.5 108.5L333.5 108.8L333.4 109.1L333.4 109.5L333.3 109.7L333.3 110.1L333.2 110.3L333.1 110.7L333.0 111.0L332.9 111.2L332.8 111.5L332.7 111.7L332.5 112.0L332.4 112.1L332.1 112.3L331.9 112.5L331.7 112.6L331.5 112.7L331.2 112.8L330.9 112.9L330.6 113.0L330.3 113.1L330.0 113.2L329.7 113.2L329.4 113.3L329.0 113.3L328.7 113.4L328.4 113.4L328.1 113.5L327.7 113.5L327.4 113.6L327.1 113.6L326.7 113.6L326.4 113.7L326.1 113.7L325.7 113.7L325.4 113.8L325.0 113.8L324.7 113.8L324.4 113.9L324.0 113.9L323.6 113.9L323.4 114.0L323.0 114.0L322.6 114.1L322.4 114.1L322.0 114.2L321.7 114.2L321.4 114.3L321.1 114.4L320.7 114.4L320.5 114.5L320.1 114.6L319.9 114.6L319.5 114.7L319.2 114.8L318.9 114.8L318.6 114.9L318.3 115.0L318.0 115.0L317.7 115.1L317.4 115.1L317.0 115.2L316.7 115.2Z" fill="#d7d7d7" stroke="#5a5a5a" stroke-width="0.5" stroke-linejoin="round"/>
<path d="M316.0 114.0L315.6 114.0L315.2 114.0L314.9 114.0L314.6 113.9L314.2 113.9L313.9 113.8L313.6 113.8L313.4 113.7L313.0 113.6L312.7 113.5L312.5 113.4L312.2 113.3L312.0 113.2L311.7 113.1L311.5 113.0L311.2 112.8L311.0 112.7L310.7 112.5L310.5 112.3L310.4 112.1L310.2 111.9L310.1 111.6L310.1 111.3L310.1 111.1L310.2 110.7L310.4 110.5L310.5 110.3L310.7 110.1L310.9 109.9L311.1 109.7L311.2 109.6L311.5 109.4L311.7 109.2L312.0 109.1L312.2 109.0L312.5 108.8L312.7 108.7L313.0 108.6L313.2 108.5L313.5 108.4L313.7 108.3L314.1 108.2L314.4 108.1L314.6 108.1L315.0 108.0L315.2 107.9L315.6 107.8L315.9 107.8L316.2 107.7L316.5 107.7L316.9 107.6L317.2 107.6L317.5 107.6L317.9 107.5L318.2 107.5L318.5 107.4L318.9 107.4L319.2 107.3L319.5 107.3L319.9 107.2L320.1 107.1L320.4 107.1L320.7 107.0L321.0 106.9L321.3 106.8L321.6 106.7L321.9 106.6L322.1 106.5L322.4 106.4L322.6 106.3L322.9 106.2L323.1 106.0L323.4 105.9L323.6 105.7L323.8 105.6L324.0 105.4L324.2 105.3L324.5 105.1L324.6 105.0L324.9 104.7L325.0 104.6L325.2 104.4L325.4 104.2L325.6 104.0L325.8 103.8L326.0 103.6L326.1 103.5L326.3 103.2L326.5 103.0L326.6 102.8L326.8 102.6L327.0 102.3L327.1 102.2L327.2 102.0L327.4 101.7L327.5 101.5L327.7 101.2L327.8 101.0L327.9 100.7L328.0 100.5L328.1 100.2L328.2 100.0L328.4 99.7L328.5 99.3L328.6 99.1L328.7 98.8L328.7 98.6L328.9 98.2L328.9 98.0L329.0 97.7L329.1 97.4L329.2 97.1L329.3 96.8L329.4 96.5L329.4 96.2L329.5 96.0L329.6 95.6L329.7 95.3L329.7 95.0L329.8 94.7L329.9 94.5L329.9 94.1L330.0 93.8L330.1 93.5L330.1 93.2L330.2 92.8L330.2 92.6L330.3 92.2L330.3 91.8L330.4 91.6L330.4 91.2L330.5 90.8L330.5 90.6L330.5 90.2L330.6 89.8L330.6 89.5L330.6 89.1L330.6 88.8L330.6 88.5L330.6 88.1L330.6 87.7L330.6 87.3L330.6 87.0L330.6 86.6L330.7 86.2L330.7 85.8L330.7 85.5L330.7 85.1L330.7 84.8L330.8 84.5L330.8 84.1L330.9 83.8L331.0 83.5L331.0 83.2L331.1 83.0L331.2 82.6L331.3 82.3L331.5 82.1L331.6 81.8L331.7 81.7L331.9 81.5L332.1 81.2L332.3 81.1L332.5 80.9L332.7 80.8L333.0 80.6L333.2 80.5L333.5 80.4L333.8 80.3L334.1 80.3L334.4 80.2L334.7 80.2L335.1 80.2L335.4 80.2L335.7 80.3L336.0 80.4L336.2 80.5L336.4 80.7L336.6 80.9L336.8 81.1L337.0 81.3L337.1 81.6L337.2 81.8L337.3 82.1L337.4 82.3L337.4 82.7L337.5 83.0L337.5 83.3L337.6 83.7L337.6 84.1L337.5 84.5L337.5 84.8L337.5 85.1L337.4 85.5L337.3 85.7L337.2 86.0L337.1 86.3L337.0 86.6L336.9 86.8L336.8 87.1L336.7 87.4L336.6 87.6L336.5 87.9L336.4 88.2L336.2 88.5L336.1 88.7L336.0 89.0L335.9 89.2L335.8 89.5L335.7 89.7L335.5 90.0L335.4 90.2L335.3 90.5L335.2 90.7L335.1 91.1L335.0 91.3L334.9 91.6L334.8 91.8L334.7 92.1L334.6 92.5L334.6 92.7L334.5 93.0L334.4 93.3L334.3 93.6L334.2 94.0L334.2 94.2L334.1 94.5L334.0 94.8L334.0 95.1L333.9 95.5L333.8 95.7L333.8 96.1L333.7 96.3L333.6 96.7L333.6 97.0L333.5 97.3L333.4 97.6L333.4 98.0L333.3 98.2L333.2 98.6L333.2 98.8L333.1 99.2L333.0 99.5L333.0 99.7L332.9 100.1L332.8 100.3L332.8 100.7L332.7 101.0L332.6 101.3L332.6 101.6L332.5 102.0L332.5 102.2L332.4 102.6L332.4 102.9L332.3 103.2L332.3 103.6L332.2 103.8L332.2 104.2L332.1 104.6L332.1 105.0L332.1 105.2L332.0 105.6L332.0 106.0L332.0 106.3L332.0 106.6L331.9 107.0L331.9 107.3L331.9 107.7L331.8 108.0L331.8 108.3L331.7 108.7L331.7 109.0L331.6 109.3L331.5 109.6L331.5 109.8L331.3 110.1L331.2 110.3L331.0 110.6L330.9 110.8L330.6 111.0L330.4 111.1L330.2 111.2L329.9 111.3L329.6 111.4L329.4 111.5L329.0 111.6L328.7 111.6L328.4 111.7L328.1 111.7L327.7 111.8L327.5 111.8L327.1 111.9L326.7 111.9L326.4 112.0L326.1 112.0L325.7 112.0L325.4 112.1L325.1 112.1L324.7 112.1L324.4 112.2L324.1 112.2L323.7 112.2L323.4 112.3L323.1 112.3L322.7 112.4L322.4 112.4L322.1 112.5L321.7 112.6L321.5 112.6L321.2 112.7L320.9 112.8L320.6 112.9L320.3 113.0L320.0 113.0L319.7 113.1L319.5 113.2L319.1 113.3L318.9 113.4L318.6 113.5L318.2 113.6L318.0 113.6L317.7 113.7L317.4 113.8L317.0 113.8L316.7 113.9L316.4 113.9L316.0 114.0Z" fill="#dedede" stroke="#666" stroke-width="0.5" stroke-linejoin="round"/>
<path d="M333.2 89.5L332.9 89.5L332.7 89.3L332.6 89.0L332.5 88.7L332.4 88.5L332.3 88.2L332.2 87.8L332.2 87.6L332.1 87.2L332.1 87.0L332.1 86.6L332.0 86.2L332.0 85.8L332.0 85.5L332.0 85.1L332.0 84.7L332.1 84.3L332.1 84.1L332.2 83.7L332.3 83.5L332.4 83.2L332.5 83.0L332.6 82.7L332.8 82.5L333.0 82.3L333.2 82.1L333.4 82.0L333.7 81.8L334.0 81.7L334.2 81.7L334.6 81.6L335.0 81.7L335.2 81.8L335.5 81.9L335.6 82.1L335.8 82.3L336.0 82.6L336.1 82.8L336.1 83.1L336.2 83.5L336.2 83.7L336.3 84.1L336.2 84.5L336.2 84.7L336.1 85.1L336.1 85.3L336.0 85.6L335.9 85.9L335.7 86.2L335.6 86.5L335.5 86.7L335.4 87.0L335.2 87.2L335.1 87.4L335.0 87.6L334.8 87.8L334.6 88.1L334.5 88.3L334.4 88.5L334.2 88.7L334.0 88.9L333.8 89.1L333.6 89.3L333.4 89.4ZM316.1 112.5L315.7 112.5L315.4 112.5L315.0 112.5L314.7 112.4L314.4 112.3L314.1 112.3L313.9 112.2L313.6 112.1L313.4 111.9L313.1 111.7L313.0 111.6L312.8 111.3L312.8 111.0L312.9 110.7L313.0 110.5L313.2 110.3L313.5 110.1L313.7 110.0L313.9 109.8L314.2 109.7L314.5 109.6L314.7 109.5L315.0 109.4L315.3 109.3L315.6 109.3L316.0 109.2L316.2 109.2L316.6 109.1L317.0 109.1L317.2 109.1L317.6 109.1L318.0 109.1L318.4 109.0L318.7 109.0L319.1 109.0L319.5 109.0L319.9 109.0L320.2 109.0L320.6 109.0L320.9 108.9L321.2 108.9L321.5 108.8L321.9 108.7L322.1 108.6L322.4 108.5L322.6 108.4L322.9 108.3L323.1 108.2L323.4 108.0L323.6 107.9L323.9 107.7L324.1 107.6L324.3 107.5L324.5 107.3L324.7 107.1L325.0 107.0L325.1 106.8L325.4 106.6L325.6 106.5L325.7 106.3L326.0 106.1L326.1 106.0L326.4 105.7L326.5 105.6L326.7 105.4L326.9 105.2L327.1 105.0L327.3 104.8L327.5 104.7L327.7 104.5L327.9 104.3L328.1 104.1L328.2 103.9L328.5 103.7L328.6 103.6L328.9 103.4L329.1 103.2L329.3 103.1L329.6 103.0L329.9 103.1L330.0 103.4L330.1 103.7L330.1 104.0L330.1 104.3L330.2 104.7L330.2 105.1L330.2 105.5L330.2 105.8L330.2 106.2L330.2 106.6L330.2 107.0L330.1 107.3L330.1 107.6L330.0 108.0L330.0 108.2L329.9 108.5L329.7 108.8L329.6 109.0L329.4 109.2L329.2 109.4L329.0 109.6L328.7 109.7L328.5 109.8L328.2 109.9L328.0 110.0L327.6 110.0L327.3 110.1L327.0 110.1L326.6 110.2L326.2 110.2L326.0 110.2L325.6 110.2L325.2 110.2L324.9 110.3L324.5 110.3L324.1 110.3L323.7 110.3L323.4 110.3L323.1 110.3L322.7 110.4L322.4 110.4L322.1 110.5L321.7 110.5L321.5 110.6L321.2 110.7L320.9 110.8L320.6 110.9L320.4 111.0L320.1 111.1L319.9 111.2L319.6 111.3L319.3 111.5L319.0 111.6L318.7 111.7L318.5 111.8L318.2 111.9L318.0 112.0L317.7 112.1L317.4 112.2L317.1 112.3L316.9 112.3L316.5 112.4L316.1 112.5Z" fill="#e6e6e6" stroke="#777" stroke-width="0.45" stroke-linejoin="round"/>
</g>
<rect x="298.6" y="51.2" width="71.69999999999999" height="74.7" fill="none" stroke="#222" stroke-width="0.9"/>
<line x1="326.5" y1="51.2" x2="326.5" y2="125.9" stroke="#111" stroke-width="1.0"/>
<line x1="298.6" y1="102.5" x2="370.3" y2="102.5" stroke="#111" stroke-width="1.0"/>
<path d="M296.6 123.7h2M296.6 119.9h2M296.6 116.9h2M296.6 111.0h2M296.6 103.5h2M296.6 99.0h2M296.6 88.6h2M296.6 84.8h2M296.6 81.1h2M296.6 75.1h2M296.6 67.6h2M296.6 63.2h2M296.6 58.7h2M302.9 125.9v1.8M309.4 125.9v1.8M316.5 125.9v1.8M327.3 125.9v1.8M332.3 125.9v1.8M338.0 125.9v1.8M343.1 125.9v1.8M350.2 125.9v1.8M356.0 125.9v1.8M361.0 125.9v1.8M366.7 125.9v1.8" stroke="#333" stroke-width="0.6" fill="none"/>
<text x="301.2" y="59.5" font-size="7.4" text-anchor="start" fill="#222" stroke="#222" stroke-width="0.2" textLength="10.5" lengthAdjust="spacingAndGlyphs">7.2</text>
<text x="366" y="59.6" font-size="7.4" text-anchor="end" fill="#222" stroke="#222" stroke-width="0.2" textLength="14" lengthAdjust="spacingAndGlyphs">31.8</text>
<text x="366" y="121.2" font-size="7.4" text-anchor="end" fill="#222" stroke="#222" stroke-width="0.2" textLength="14" lengthAdjust="spacingAndGlyphs">11.5</text>
<text x="301" y="121" font-size="7.4" text-anchor="start" fill="#333" stroke="#333" stroke-width="0.2" textLength="18" lengthAdjust="spacingAndGlyphs">49.61</text>
<path d="M236.7 186.5L236.70 156.70A29.8 29.8 0 0 1 265.97 180.92Z" fill="#243e98" stroke="#111" stroke-width="1" stroke-linejoin="round"/><path d="M236.7 186.5L265.97 180.92A29.8 29.8 0 0 1 265.56 193.91Z" fill="#3e5db3" stroke="#111" stroke-width="1" stroke-linejoin="round"/><path d="M236.7 186.5L265.56 193.91A29.8 29.8 0 0 1 240.43 216.07Z" fill="#8ca8e2" stroke="#111" stroke-width="1" stroke-linejoin="round"/><path d="M236.7 186.5L240.43 216.07A29.8 29.8 0 1 1 236.70 156.70Z" fill="#9d9d9d" stroke="#111" stroke-width="1" stroke-linejoin="round"/>
<path d="M326.9 186.5L326.90 156.70A29.8 29.8 0 0 1 353.01 172.14Z" fill="#ae1515" stroke="#111" stroke-width="1" stroke-linejoin="round"/><path d="M326.9 186.5L353.01 172.14A29.8 29.8 0 0 1 356.47 182.77Z" fill="#cf281e" stroke="#111" stroke-width="1" stroke-linejoin="round"/><path d="M326.9 186.5L356.47 182.77A29.8 29.8 0 0 1 326.90 216.30Z" fill="#e09c9b" stroke="#111" stroke-width="1" stroke-linejoin="round"/><path d="M326.9 186.5L326.90 216.30A29.8 29.8 0 0 1 326.90 156.70Z" fill="#9d9d9d" stroke="#111" stroke-width="1" stroke-linejoin="round"/>
<circle cx="236.7" cy="186.5" r="29.8" fill="none" stroke="#111" stroke-width="1.2"/>
<circle cx="326.9" cy="186.5" r="29.8" fill="none" stroke="#111" stroke-width="1.2"/>
<text x="247.7" y="176.4" font-size="8.8" text-anchor="middle" fill="#fff" textLength="15.4" lengthAdjust="spacingAndGlyphs">22%</text>
<text x="249" y="205.2" font-size="8.8" text-anchor="middle" fill="#222" stroke="#222" stroke-width="0.2" textLength="15.4" lengthAdjust="spacingAndGlyphs">19%</text>
<text x="220.8" y="189.4" font-size="8.8" text-anchor="middle" fill="#222" stroke="#222" stroke-width="0.2" textLength="15.4" lengthAdjust="spacingAndGlyphs">52%</text>
<text x="273.8" y="191.7" font-size="8.8" text-anchor="middle" fill="#222" stroke="#222" stroke-width="0.2" textLength="10.8" lengthAdjust="spacingAndGlyphs">7%</text>
<text x="336.9" y="173.6" font-size="8.8" text-anchor="middle" fill="#fff" textLength="15.4" lengthAdjust="spacingAndGlyphs">17%</text>
<text x="338.5" y="201.2" font-size="8.8" text-anchor="middle" fill="#222" stroke="#222" stroke-width="0.2" textLength="15.4" lengthAdjust="spacingAndGlyphs">27%</text>
<text x="312.3" y="189.4" font-size="8.8" text-anchor="middle" fill="#222" stroke="#222" stroke-width="0.2" textLength="15.4" lengthAdjust="spacingAndGlyphs">50%</text>
<text x="363" y="179" font-size="8.8" text-anchor="middle" fill="#222" stroke="#222" stroke-width="0.2" textLength="10.8" lengthAdjust="spacingAndGlyphs">6%</text>
<rect x="206.6" y="224.9" width="11.2" height="3.1" fill="#233d96"/>
<text x="221.6" y="229.2" font-size="7.1" text-anchor="start" fill="#222" stroke="#222" stroke-width="0.2" textLength="56.6" lengthAdjust="spacingAndGlyphs">PD-1<tspan font-size="4.6" stroke-width="0.08" dy="-2.8">+</tspan><tspan dy="2.8">TIM-3</tspan><tspan font-size="4.6" stroke-width="0.08" dy="-2.8">—</tspan><tspan dy="2.8"> (1)</tspan></text>
<rect x="297" y="224.9" width="11.2" height="3.1" fill="#ab1414"/>
<text x="312" y="229.2" font-size="7.1" text-anchor="start" fill="#222" stroke="#222" stroke-width="0.2" textLength="56.6" lengthAdjust="spacingAndGlyphs">PD-1<tspan font-size="4.6" stroke-width="0.08" dy="-2.8">+</tspan><tspan dy="2.8">TIM-3</tspan><tspan font-size="4.6" stroke-width="0.08" dy="-2.8">—</tspan><tspan dy="2.8"> (1)</tspan></text>
<rect x="206.6" y="239.3" width="11.2" height="3.1" fill="#3a5bb3"/>
<text x="221.6" y="243.6" font-size="7.1" text-anchor="start" fill="#222" stroke="#222" stroke-width="0.2" textLength="56.6" lengthAdjust="spacingAndGlyphs">PD-1<tspan font-size="4.6" stroke-width="0.08" dy="-2.8">—</tspan><tspan dy="2.8">TIM-3</tspan><tspan font-size="4.6" stroke-width="0.08" dy="-2.8">+</tspan><tspan dy="2.8"> (1)</tspan></text>
<rect x="297" y="239.3" width="11.2" height="3.1" fill="#cc261d"/>
<text x="312" y="243.6" font-size="7.1" text-anchor="start" fill="#222" stroke="#222" stroke-width="0.2" textLength="56.6" lengthAdjust="spacingAndGlyphs">PD-1<tspan font-size="4.6" stroke-width="0.08" dy="-2.8">—</tspan><tspan dy="2.8">TIM-3</tspan><tspan font-size="4.6" stroke-width="0.08" dy="-2.8">+</tspan><tspan dy="2.8"> (1)</tspan></text>
<rect x="206.6" y="254.0" width="11.2" height="3.1" fill="#8aa8e2"/>
<text x="221.6" y="258.3" font-size="7.1" text-anchor="start" fill="#222" stroke="#222" stroke-width="0.2" textLength="54.5" lengthAdjust="spacingAndGlyphs">PD-1<tspan font-size="4.6" stroke-width="0.08" dy="-2.8">+</tspan><tspan dy="2.8">TIM-3</tspan><tspan font-size="4.6" stroke-width="0.08" dy="-2.8">+</tspan><tspan dy="2.8"> (2)</tspan></text>
<rect x="297" y="254.0" width="11.2" height="3.1" fill="#e19b9a"/>
<text x="312" y="258.3" font-size="7.1" text-anchor="start" fill="#222" stroke="#222" stroke-width="0.2" textLength="54.5" lengthAdjust="spacingAndGlyphs">PD-1<tspan font-size="4.6" stroke-width="0.08" dy="-2.8">+</tspan><tspan dy="2.8">TIM-3</tspan><tspan font-size="4.6" stroke-width="0.08" dy="-2.8">+</tspan><tspan dy="2.8"> (2)</tspan></text>
<rect x="206.6" y="268.7" width="11.2" height="3.1" fill="#8e8e8e"/>
<text x="221.6" y="273" font-size="7.1" text-anchor="start" fill="#222" stroke="#222" stroke-width="0.2" textLength="59" lengthAdjust="spacingAndGlyphs">PD-1<tspan font-size="4.6" stroke-width="0.08" dy="-2.8">—</tspan><tspan dy="2.8">TIM-3</tspan><tspan font-size="4.6" stroke-width="0.08" dy="-2.8">—</tspan><tspan dy="2.8"> (0)</tspan></text>
<rect x="297" y="268.7" width="11.2" height="3.1" fill="#8e8e8e"/>
<text x="312" y="273" font-size="7.1" text-anchor="start" fill="#222" stroke="#222" stroke-width="0.2" textLength="59" lengthAdjust="spacingAndGlyphs">PD-1<tspan font-size="4.6" stroke-width="0.08" dy="-2.8">—</tspan><tspan dy="2.8">TIM-3</tspan><tspan font-size="4.6" stroke-width="0.08" dy="-2.8">—</tspan><tspan dy="2.8"> (0)</tspan></text>
<path d="M420.3 36V125.3H510.8" stroke="#333" stroke-width="1.2" fill="none"/><line x1="417.3" y1="125.3" x2="420.3" y2="125.3" stroke="#333" stroke-width="1"/><text x="414.1" y="128.2" font-size="8.2" text-anchor="end" fill="#222" stroke="#222" stroke-width="0.32">0</text><line x1="417.3" y1="105.02499999999999" x2="420.3" y2="105.02499999999999" stroke="#333" stroke-width="1"/><text x="414.1" y="107.925" font-size="8.2" text-anchor="end" fill="#222" stroke="#222" stroke-width="0.32">25</text><line x1="417.3" y1="84.75" x2="420.3" y2="84.75" stroke="#333" stroke-width="1"/><text x="414.1" y="87.65" font-size="8.2" text-anchor="end" fill="#222" stroke="#222" stroke-width="0.32">50</text><line x1="417.3" y1="64.475" x2="420.3" y2="64.475" stroke="#333" stroke-width="1"/><text x="414.1" y="67.375" font-size="8.2" text-anchor="end" fill="#222" stroke="#222" stroke-width="0.32">75</text><line x1="417.3" y1="44.19999999999999" x2="420.3" y2="44.19999999999999" stroke="#333" stroke-width="1"/><text x="414.1" y="47.09999999999999" font-size="8.2" text-anchor="end" fill="#222" stroke="#222" stroke-width="0.32">100</text><line x1="420.3" y1="125.3" x2="420.3" y2="128.1" stroke="#333" stroke-width="1"/><text x="420.3" y="139.2" font-size="8.2" text-anchor="middle" fill="#333" stroke="#333" stroke-width="0.32">0</text><line x1="447.5" y1="125.3" x2="447.5" y2="128.1" stroke="#333" stroke-width="1"/><text x="447.5" y="139.2" font-size="8.2" text-anchor="middle" fill="#333" stroke="#333" stroke-width="0.32">30</text><line x1="474.3" y1="125.3" x2="474.3" y2="128.1" stroke="#333" stroke-width="1"/><text x="474.3" y="139.2" font-size="8.2" text-anchor="middle" fill="#333" stroke="#333" stroke-width="0.32">60</text><line x1="501.4" y1="125.3" x2="501.4" y2="128.1" stroke="#333" stroke-width="1"/><text x="501.4" y="139.2" font-size="8.2" text-anchor="middle" fill="#333" stroke="#333" stroke-width="0.32">90</text><text x="395.3" y="80.0" font-size="9.2" text-anchor="middle" fill="#222" stroke="#222" stroke-width="0.32" textLength="53.8" lengthAdjust="spacingAndGlyphs" transform="rotate(-90 395.3 80.0)">Percent survival</text>
<text x="465.2" y="152.2" font-size="9.5" text-anchor="middle" fill="#222" stroke="#222" stroke-width="0.32" textLength="47.8" lengthAdjust="spacingAndGlyphs">Days post-SCT</text>
<path d="M420.3 44.2 463.2 44.2 463.2 60.4 465.4 60.4 465.4 76.6 466.5 76.6 466.5 84.8 469.0 84.8 469.0 92.9 472.5 92.9 472.5 101.0 479.7 101.0 479.7 109.1 480.5 109.1 480.5 117.2 488.7 117.2 488.7 125.3" stroke="#d2281c" stroke-width="1.3" fill="none"/>
<path d="M420.3 44.2 463.5 44.2 463.5 51.6 466.5 51.6 466.5 59.0 468.8 59.0 468.8 66.3 473.4 66.3 473.4 73.7 478.0 73.7 478.0 81.1 479.0 81.1 479.0 88.4 487.7 88.4 487.7 95.8 490.5 95.8 490.5 103.2 493.0 103.2 493.0 110.5 510.3 110.5" stroke="#1f3d9a" stroke-width="1.5" fill="none"/>
<path d="M463.5 60.4h0M465.4 76.6h0M466.5 84.8h0M469.0 92.9h0M472.5 101.0h0M479.7 109.1h0M480.5 117.2h0M488.7 125.3h0" stroke="#d2281c" stroke-width="4.2" stroke-linecap="round" fill="none"/>
<path d="M463.5 51.6h0M466.5 59.0h0M468.8 66.3h0M473.4 73.7h0M478.0 81.1h0M479.0 88.4h0M487.7 95.8h0M490.5 103.2h0M493.0 110.5h0M510.3 110.5h0" stroke="#1f3d9a" stroke-width="4.2" stroke-linecap="round" fill="none"/>
<line x1="426.2" y1="13" x2="437.8" y2="13" stroke="#1f3d9a" stroke-width="1.4"/>
<path d="M432.0 13.0h0" stroke="#1f3d9a" stroke-width="4.8" stroke-linecap="round" fill="none"/>
<line x1="426.2" y1="28" x2="437.8" y2="28" stroke="#d2281c" stroke-width="1.4"/>
<path d="M432.0 28.0h0" stroke="#d2281c" stroke-width="4.8" stroke-linecap="round" fill="none"/>
<text x="441.5" y="16" font-size="8.2" text-anchor="start" fill="#222" stroke="#222" stroke-width="0.1" textLength="66.3" lengthAdjust="spacingAndGlyphs">CD4cre<tspan font-size="5" stroke-width="0.08" dy="-3">—</tspan><tspan dy="3">x IL-10R</tspan><tspan font-size="4.8" stroke-width="0.08" dy="-3.2">fl/fl</tspan></text>
<text x="441.5" y="31" font-size="8.2" text-anchor="start" fill="#222" stroke="#222" stroke-width="0.1" textLength="66.3" lengthAdjust="spacingAndGlyphs">CD4cre<tspan font-size="5" stroke-width="0.08" dy="-3">+</tspan><tspan dy="3">x IL-10R</tspan><tspan font-size="4.8" stroke-width="0.08" dy="-3.2">fl/fl</tspan></text>
<path d="M420.3 188V278.1H510.3" stroke="#333" stroke-width="1.2" fill="none"/><line x1="417.3" y1="278.1" x2="420.3" y2="278.1" stroke="#333" stroke-width="1"/><text x="414.1" y="281.0" font-size="8.2" text-anchor="end" fill="#222" stroke="#222" stroke-width="0.32">0</text><line x1="417.3" y1="257.625" x2="420.3" y2="257.625" stroke="#333" stroke-width="1"/><text x="414.1" y="260.525" font-size="8.2" text-anchor="end" fill="#222" stroke="#222" stroke-width="0.32">25</text><line x1="417.3" y1="237.15000000000003" x2="420.3" y2="237.15000000000003" stroke="#333" stroke-width="1"/><text x="414.1" y="240.05000000000004" font-size="8.2" text-anchor="end" fill="#222" stroke="#222" stroke-width="0.32">50</text><line x1="417.3" y1="216.67500000000004" x2="420.3" y2="216.67500000000004" stroke="#333" stroke-width="1"/><text x="414.1" y="219.57500000000005" font-size="8.2" text-anchor="end" fill="#222" stroke="#222" stroke-width="0.32">75</text><line x1="417.3" y1="196.20000000000005" x2="420.3" y2="196.20000000000005" stroke="#333" stroke-width="1"/><text x="414.1" y="199.10000000000005" font-size="8.2" text-anchor="end" fill="#222" stroke="#222" stroke-width="0.32">100</text><line x1="420.3" y1="278.1" x2="420.3" y2="280.90000000000003" stroke="#333" stroke-width="1"/><text x="420.3" y="291" font-size="8.2" text-anchor="middle" fill="#333" stroke="#333" stroke-width="0.32">0</text><line x1="447.3" y1="278.1" x2="447.3" y2="280.90000000000003" stroke="#333" stroke-width="1"/><text x="447.3" y="291" font-size="8.2" text-anchor="middle" fill="#333" stroke="#333" stroke-width="0.32">30</text><line x1="474" y1="278.1" x2="474" y2="280.90000000000003" stroke="#333" stroke-width="1"/><text x="474" y="291" font-size="8.2" text-anchor="middle" fill="#333" stroke="#333" stroke-width="0.32">60</text><line x1="500.5" y1="278.1" x2="500.5" y2="280.90000000000003" stroke="#333" stroke-width="1"/><text x="500.5" y="291" font-size="8.2" text-anchor="middle" fill="#333" stroke="#333" stroke-width="0.32">90</text><text x="395.3" y="232.8" font-size="9.2" text-anchor="middle" fill="#222" stroke="#222" stroke-width="0.32" textLength="53.8" lengthAdjust="spacingAndGlyphs" transform="rotate(-90 395.3 232.8)">Percent survival</text>
<path d="M420.3 196.2 454.5 196.2 454.5 202.1 463.0 202.1 463.0 207.9 468.5 207.9 468.5 213.8 485.8 213.8 485.8 219.6 486.5 219.6 486.5 225.5 488.8 225.5 488.8 231.3 491.2 231.3 491.2 237.2 495.1 237.2 495.1 243.0 495.1 243.0 495.1 248.9 498.1 248.9 498.1 254.7 510.3 254.7" stroke="#d2281c" stroke-width="1.3" fill="none"/>
<path d="M420.3 196.2 457.7 196.2 457.7 196.2 457.7 201.7 462.8 201.7 462.8 207.1 471.0 207.1 471.0 212.6 473.4 212.6 473.4 218.0 475.0 218.0 475.0 223.5 478.0 223.5 478.0 229.0 480.3 229.0 480.3 234.4 501.0 234.4 501.0 239.9 501.5 239.9 501.5 245.3 510.3 245.3" stroke="#1f3d9a" stroke-width="1.5" fill="none"/>
<path d="M454.3 201.9h0M463.5 208.2h0M468.5 213.5h0M485.8 219.7h0M486.5 225.0h0M488.8 231.2h0M491.2 236.5h0M495.1 248.8h0M498.1 254.5h0M501.5 254.5h0M510.0 254.5h0" stroke="#d2281c" stroke-width="4.2" stroke-linecap="round" fill="none"/>
<path d="M458.8 201.5h0M463.5 207.2h0M471.5 212.3h0M473.4 218.0h0M475.0 223.4h0M478.0 229.2h0M480.3 234.7h0M500.8 239.5h0M501.5 245.3h0M510.0 245.3h0" stroke="#1f3d9a" stroke-width="4.2" stroke-linecap="round" fill="none"/>
<line x1="426.2" y1="165.2" x2="437.8" y2="165.2" stroke="#1f3d9a" stroke-width="1.4"/>
<path d="M432.0 165.2h0" stroke="#1f3d9a" stroke-width="4.8" stroke-linecap="round" fill="none"/>
<line x1="426.2" y1="180.2" x2="437.8" y2="180.2" stroke="#d2281c" stroke-width="1.4"/>
<path d="M432.0 180.2h0" stroke="#d2281c" stroke-width="4.8" stroke-linecap="round" fill="none"/>
<text x="441.5" y="168.2" font-size="8.2" text-anchor="start" fill="#222" stroke="#222" stroke-width="0.1" textLength="50.5" lengthAdjust="spacingAndGlyphs">IL-10<tspan font-size="4.8" stroke-width="0.08" dy="-3.2">fl/fl</tspan><tspan dy="3.2"> or WT</tspan></text>
<text x="441.5" y="183.2" font-size="8.2" text-anchor="start" fill="#222" stroke="#222" stroke-width="0.1" textLength="61.5" lengthAdjust="spacingAndGlyphs">CD4cre<tspan font-size="5" stroke-width="0.08" dy="-3">+</tspan><tspan dy="3">x IL-10</tspan><tspan font-size="4.8" stroke-width="0.08" dy="-3.2">fl/fl</tspan></text>
<text x="465.2" y="303.5" font-size="9.5" text-anchor="middle" fill="#222" stroke="#222" stroke-width="0.32" textLength="47.8" lengthAdjust="spacingAndGlyphs">Days post-SCT</text>
<clipPath id="e1"><rect x="22.4" y="341.3" width="74.19999999999999" height="74.09999999999997"/></clipPath>
<g clip-path="url(#e1)">
<path d="M78.6 398.9h0M32.3 410.9h0M70.0 393.1h0M27.6 390.0h0M48.9 384.1h0M79.9 414.0h0M57.3 385.9h0M45.8 385.7h0M37.5 381.8h0M23.4 403.2h0M69.4 396.4h0M25.2 384.8h0M27.2 381.4h0M71.4 398.6h0M63.7 412.7h0M59.6 390.0h0M34.0 380.9h0M73.9 408.4h0M69.0 389.7h0M31.5 411.9h0M55.8 387.0h0M30.0 379.0h0M78.4 406.5h0M65.7 389.4h0M53.3 383.9h0M65.9 392.4h0M29.0 387.3h0M57.6 385.5h0M24.5 407.9h0M72.1 391.4h0M26.2 407.6h0M46.0 412.9h0M29.8 411.0h0M45.6 411.4h0M72.5 401.4h0M60.0 384.8h0M52.0 387.5h0M71.4 411.1h0M69.3 412.1h0M30.7 385.1h0M33.2 385.0h0M67.3 409.9h0M67.0 394.1h0M53.1 413.3h0M45.6 381.6h0M36.2 386.8h0M41.2 384.0h0M26.5 410.5h0M30.2 414.2h0M69.9 409.9h0M42.4 385.7h0M33.1 385.8h0M50.7 384.4h0M69.2 386.3h0M73.8 400.3h0M35.4 379.9h0M57.0 387.4h0M61.2 413.0h0M31.7 382.2h0M72.0 413.2h0M49.6 385.1h0M45.9 381.2h0M51.0 381.2h0M31.6 387.4h0M69.5 390.7h0M73.1 409.4h0M23.8 407.9h0M31.0 385.2h0M30.7 388.4h0M70.5 413.0h0M26.7 409.1h0M27.1 411.2h0M74.0 409.3h0M25.8 407.1h0M34.3 411.8h0M65.2 390.5h0M70.4 410.1h0M52.5 377.4h0M31.6 413.1h0M69.4 409.5h0M38.8 385.2h0M74.3 396.1h0M31.4 412.7h0M35.6 381.8h0M66.9 410.4h0M79.4 400.4h0M69.8 384.5h0M63.6 383.2h0M55.7 379.1h0M51.6 387.6h0M70.4 382.3h0M72.0 413.5h0M35.9 413.0h0M47.7 384.4h0M24.7 383.2h0M66.7 393.1h0M43.3 381.3h0M75.7 402.8h0M76.5 406.1h0M76.6 402.3h0M56.9 412.5h0M53.0 382.1h0M63.6 412.3h0M25.6 406.3h0M50.2 389.0h0M75.1 400.2h0M79.5 410.3h0M77.0 397.7h0M40.1 372.0h0M40.3 413.0h0M66.1 389.7h0M56.1 382.1h0M77.9 400.2h0M66.1 408.6h0M64.1 409.7h0M60.4 386.9h0M25.5 412.5h0M23.0 413.0h0M58.7 378.7h0M42.0 386.3h0M72.9 399.7h0M40.6 387.7h0M64.6 410.8h0M23.2 411.3h0M79.5 387.2h0M66.9 388.4h0M24.3 390.1h0M66.4 414.0h0M24.1 395.1h0M26.6 410.2h0M71.5 391.5h0M53.6 381.1h0M33.8 375.4h0M37.5 411.2h0M64.6 409.3h0M30.2 385.4h0M65.4 392.5h0M73.0 402.1h0M78.1 399.7h0M41.9 382.0h0M78.9 394.3h0M45.2 380.6h0M68.0 395.0h0M34.6 414.2h0M50.1 380.6h0M79.4 397.6h0M30.2 388.6h0M74.9 392.5h0M47.7 381.7h0M34.9 413.8h0M25.1 412.6h0M77.2 411.9h0M47.9 386.8h0M68.5 406.5h0M55.0 385.1h0M23.1 385.7h0M51.7 382.0h0M76.1 408.3h0M71.2 402.0h0M66.8 414.3h0M57.5 384.7h0M72.5 404.9h0M71.2 406.1h0M49.7 411.7h0M52.4 411.3h0M46.8 385.4h0M41.0 413.2h0M33.0 385.5h0M43.7 381.8h0M37.7 411.7h0M52.2 389.2h0M70.1 393.4h0M81.3 399.1h0M33.0 411.1h0M68.3 387.2h0M33.0 380.9h0M73.1 412.2h0M46.2 411.9h0M72.1 410.0h0M34.1 412.7h0M26.8 391.0h0M22.9 389.4h0M35.2 382.5h0M29.7 380.9h0M38.2 387.5h0M29.2 388.5h0M35.7 385.4h0M44.1 412.9h0M58.5 381.8h0M42.7 413.0h0M72.4 393.8h0M65.8 408.9h0M72.6 406.7h0M53.8 382.8h0M26.9 386.2h0M30.8 384.3h0M46.6 376.8h0M65.7 391.3h0M55.9 380.3h0M50.6 385.7h0M51.4 412.7h0M64.1 379.8h0M51.6 413.7h0M72.7 403.6h0M24.8 383.3h0M77.3 387.0h0M59.2 386.3h0M57.0 412.0h0M23.3 405.6h0M64.3 386.4h0M66.4 387.5h0M64.2 391.2h0M67.3 394.3h0M45.1 412.9h0M24.7 408.6h0M68.2 391.4h0M38.6 386.6h0M28.8 414.7h0M25.9 413.8h0M74.6 396.3h0M45.0 386.3h0M26.2 390.0h0M27.5 412.1h0M74.7 396.3h0M81.2 396.2h0M62.8 413.5h0M62.7 414.4h0M25.5 385.5h0M68.7 387.4h0M72.2 394.0h0M75.7 408.1h0M30.8 409.2h0M59.3 387.2h0M60.9 385.7h0M27.8 414.3h0M57.2 382.8h0M70.3 393.2h0M69.1 410.1h0M72.1 399.4h0M37.4 382.8h0M49.1 379.9h0M42.9 385.7h0M45.5 387.4h0M74.5 386.6h0M28.0 389.8h0M57.1 387.9h0M77.9 402.7h0M55.0 378.9h0M59.3 389.2h0M30.9 383.7h0M37.2 387.8h0M36.9 383.1h0M43.1 386.4h0M54.6 389.0h0M50.6 412.1h0M38.5 382.8h0M25.7 413.1h0M51.8 386.0h0M77.6 398.9h0M53.0 382.4h0M40.9 379.6h0M30.1 411.1h0M44.1 381.5h0M52.1 384.7h0M25.5 413.0h0M39.6 387.2h0M77.4 412.4h0M59.7 388.8h0M65.5 411.7h0M48.7 387.9h0M29.8 383.5h0M24.7 408.8h0M39.0 387.7h0M26.9 383.7h0M26.6 388.5h0M77.8 412.1h0M40.9 413.9h0M39.8 411.5h0M74.9 385.5h0M57.8 380.2h0M69.8 409.0h0M29.5 387.5h0M28.1 382.5h0M84.5 404.2h0M73.3 388.4h0M68.4 381.3h0M72.9 410.8h0M28.3 378.8h0M55.6 380.4h0M52.8 413.5h0M77.3 388.1h0M59.4 385.3h0M68.3 394.8h0M61.6 411.2h0M59.0 390.1h0M22.9 383.6h0M78.2 391.0h0M37.8 414.6h0M55.1 412.5h0M42.6 385.0h0M59.9 383.7h0M52.8 411.8h0M46.1 382.0h0M28.2 409.4h0M37.7 377.5h0M44.9 414.0h0M39.3 386.1h0M24.2 386.2h0M30.4 384.9h0M40.9 387.3h0M26.0 390.0h0M53.2 383.9h0M23.8 407.0h0M28.4 380.6h0M76.6 394.6h0M55.6 386.2h0M70.5 395.3h0M73.2 397.9h0M33.1 387.8h0M53.2 412.5h0M70.6 401.7h0M43.7 385.3h0M26.0 382.2h0M24.1 392.8h0M57.7 386.6h0M32.5 379.7h0M26.7 378.4h0M42.4 378.4h0M29.5 409.5h0M72.7 389.1h0M49.3 383.8h0M25.8 389.7h0M74.9 393.6h0M61.9 388.1h0M42.3 383.0h0M25.3 380.8h0M43.3 385.3h0M51.1 412.8h0M78.3 391.6h0M78.9 397.9h0M79.0 399.3h0M29.7 381.9h0M25.4 414.5h0M67.0 391.5h0M54.0 413.2h0M54.1 387.1h0M59.7 413.8h0M48.7 388.8h0M61.4 386.2h0M35.3 411.9h0M55.3 413.4h0M31.2 388.2h0M36.8 414.6h0M74.5 409.5h0M25.7 406.1h0M70.8 389.3h0M47.7 384.0h0M70.9 396.7h0M46.3 387.3h0M49.9 387.4h0M51.3 412.1h0M54.3 412.8h0M74.0 406.4h0M60.1 412.0h0M67.7 408.1h0M63.6 382.5h0M70.4 394.0h0M74.4 411.8h0M45.4 388.1h0M25.8 390.1h0M26.1 412.7h0M78.3 398.2h0M54.8 389.4h0M35.7 410.7h0M37.4 411.3h0M54.3 382.5h0M27.8 409.1h0M24.6 391.2h0M73.7 390.1h0M40.3 386.4h0M66.2 411.1h0M32.0 387.8h0M66.6 389.4h0M41.0 383.4h0M62.2 383.1h0M30.8 382.9h0M73.9 398.9h0M65.7 409.8h0M71.0 399.6h0M75.6 413.6h0M68.6 392.4h0M72.6 412.4h0M47.7 411.6h0M79.4 406.9h0M61.1 390.5h0M59.4 414.0h0M26.8 386.0h0M31.6 383.6h0M30.0 414.8h0M84.1 403.8h0M39.5 379.0h0M63.1 413.0h0M68.7 384.2h0M69.1 406.8h0M65.8 409.9h0M54.9 413.1h0M41.2 411.4h0M35.6 383.1h0M70.0 382.7h0M73.6 391.5h0M25.2 393.7h0M73.9 383.1h0M24.8 391.6h0M23.2 397.6h0M47.4 388.2h0M35.1 385.8h0M32.0 383.3h0M71.7 389.1h0M59.1 412.4h0M64.7 386.9h0M44.0 372.9h0M40.6 386.5h0M59.2 387.6h0M54.3 414.6h0M37.4 372.6h0M65.0 414.1h0M44.2 381.6h0M76.3 403.8h0M39.4 387.6h0M65.6 389.0h0M41.6 414.4h0M60.3 388.3h0M25.3 392.7h0M74.8 398.5h0M23.8 385.3h0M63.6 411.4h0M23.1 392.6h0M65.0 411.7h0M29.7 409.4h0M80.2 403.4h0M38.0 384.7h0M59.3 382.5h0M25.3 380.7h0M81.3 409.0h0M72.2 400.6h0M28.2 387.8h0M72.3 402.6h0M34.7 383.4h0M78.1 401.6h0M70.4 398.4h0M73.5 391.8h0M62.4 412.9h0M76.4 410.1h0M36.4 411.2h0M25.0 384.5h0M66.6 391.3h0M54.7 411.9h0M26.9 408.2h0M77.0 391.7h0M56.8 414.2h0M70.5 412.6h0M50.1 381.8h0M40.9 413.2h0M71.3 392.8h0M46.2 414.3h0M32.0 387.4h0M31.6 411.2h0M38.8 383.8h0M39.1 380.6h0M32.2 413.9h0M37.8 386.0h0M27.1 382.0h0M64.5 391.3h0M74.5 402.5h0M56.3 386.7h0M27.3 413.9h0M66.1 414.8h0M73.0 394.4h0M66.0 386.5h0M73.9 407.3h0M46.6 378.1h0M60.8 388.9h0M70.8 406.5h0M43.3 387.3h0M27.8 414.1h0M45.6 380.0h0M63.1 412.6h0M57.5 382.7h0M40.8 385.3h0M29.1 382.0h0M51.7 411.8h0M67.0 386.5h0M80.7 397.4h0M23.3 393.8h0M69.4 394.8h0M41.1 378.8h0M80.2 394.8h0M67.9 407.3h0M50.3 381.7h0M55.7 412.9h0M71.2 397.9h0M37.9 379.9h0M26.4 412.1h0M41.6 385.4h0M75.0 389.8h0M71.0 389.5h0M72.2 386.9h0M73.3 407.3h0M27.1 386.9h0M75.0 401.7h0M66.7 410.4h0M47.2 412.7h0M28.0 411.1h0M27.1 382.4h0M45.7 414.0h0M33.3 412.2h0M75.2 392.2h0M29.9 379.3h0M36.7 410.8h0M28.5 385.9h0M72.1 406.6h0M74.9 408.5h0M23.2 380.7h0M60.0 384.1h0M37.2 386.3h0M24.9 394.1h0M70.3 403.7h0M78.6 400.5h0M70.4 412.6h0M23.2 400.8h0M27.5 389.1h0M48.6 383.1h0M74.2 404.1h0M33.6 413.1h0M73.8 397.9h0M60.8 414.5h0M30.2 380.6h0M48.9 382.2h0M31.3 386.5h0M64.3 410.2h0M69.9 405.5h0M74.4 411.7h0M61.9 379.8h0M71.6 389.8h0M25.4 392.0h0M68.9 395.3h0M53.7 385.0h0M54.6 384.9h0M48.7 382.2h0M65.3 391.4h0M75.5 405.2h0M27.6 378.2h0M29.2 374.2h0M23.8 407.6h0M54.7 382.0h0M67.1 411.6h0M40.7 413.1h0M72.1 391.7h0M66.6 409.9h0M70.3 406.4h0M25.6 393.6h0M34.8 411.7h0M60.0 384.2h0M54.0 378.9h0M63.1 410.5h0M61.2 390.6h0M71.1 386.8h0M68.3 406.7h0M27.1 380.1h0M63.7 414.5h0M64.0 385.1h0M23.4 395.9h0M55.9 382.8h0M63.3 411.9h0M74.1 404.9h0M72.4 412.1h0M32.4 377.6h0M75.4 395.1h0M78.4 405.8h0M53.2 378.4h0M64.7 414.0h0M22.9 411.9h0M70.1 403.9h0M75.5 398.5h0M64.4 384.0h0M58.4 412.1h0M26.5 386.2h0M24.1 411.7h0M34.2 378.9h0M75.0 402.1h0M55.5 412.0h0M55.0 413.3h0M32.4 383.7h0M37.5 379.3h0M67.0 411.0h0M73.7 396.6h0M68.4 394.6h0M55.9 389.4h0M27.4 381.3h0M38.3 412.0h0M35.4 387.4h0M48.4 411.6h0M77.9 392.6h0M26.4 414.0h0M24.7 380.8h0M47.1 377.4h0M57.7 383.4h0M81.4 399.7h0M74.8 398.2h0M75.4 392.7h0M41.2 384.9h0M55.9 383.9h0M48.1 373.3h0M43.3 412.1h0M35.0 385.1h0M29.1 378.0h0M24.6 407.7h0M24.0 403.8h0M35.9 414.4h0M33.0 380.0h0M25.2 391.1h0M75.8 401.9h0M46.9 413.3h0M73.1 398.3h0M43.6 412.8h0M72.9 395.0h0M67.4 386.3h0M43.2 380.4h0M49.7 382.9h0M51.5 383.0h0M39.0 385.6h0M28.9 414.5h0M56.8 412.1h0M71.5 396.4h0M82.2 398.9h0M60.3 386.7h0M54.4 413.7h0M48.2 385.1h0M60.2 412.3h0M28.2 384.2h0M36.9 414.4h0M27.9 390.7h0M66.3 390.9h0M51.9 384.3h0M70.6 411.1h0M65.4 384.0h0M50.1 388.5h0M39.0 388.0h0M28.8 389.5h0M23.9 395.7h0M75.3 397.6h0M62.3 391.1h0M42.2 412.3h0M26.0 414.8h0M81.2 392.6h0M50.6 388.2h0M78.1 404.5h0M32.8 388.2h0M42.3 379.3h0M51.8 386.9h0M73.8 399.1h0M70.3 386.3h0M70.4 399.7h0M55.9 387.1h0M49.9 385.0h0M62.4 413.3h0M76.2 401.2h0M60.9 386.2h0M83.5 404.0h0M46.2 413.7h0M81.3 394.2h0M76.4 399.4h0M68.8 385.4h0M60.3 388.3h0M24.4 388.8h0M51.5 381.3h0M41.6 388.0h0M54.7 380.1h0M57.6 414.3h0M23.4 390.0h0M24.3 394.5h0M28.0 410.4h0M28.8 409.1h0M30.4 386.9h0M37.9 379.7h0M67.9 414.2h0M27.4 408.2h0M74.1 411.6h0M72.6 414.8h0M28.1 408.6h0M67.1 407.9h0M35.8 376.7h0M76.5 398.1h0M37.2 381.2h0M28.1 382.6h0M43.3 379.0h0M38.4 382.5h0M26.0 414.5h0M23.4 407.7h0M67.2 386.7h0M73.3 386.3h0M48.5 385.7h0M23.8 386.3h0M32.1 389.0h0M23.1 388.0h0M27.2 411.1h0M37.7 414.7h0M32.0 388.7h0M70.9 401.7h0M62.6 387.7h0M66.0 414.5h0M54.5 386.6h0M35.0 382.4h0M66.1 411.3h0M57.4 387.9h0M34.4 381.0h0M79.9 397.2h0M24.3 387.7h0M66.5 388.1h0M77.3 391.1h0M41.7 378.2h0M23.1 413.8h0M67.8 393.7h0M33.0 379.1h0M25.1 386.4h0M45.5 378.4h0M44.6 412.7h0M25.9 391.1h0M56.4 382.8h0M63.5 380.4h0M70.7 397.4h0M53.3 376.1h0M46.8 375.3h0M62.2 410.8h0M69.4 411.3h0M30.7 387.8h0M58.0 414.9h0M66.0 408.6h0M44.8 380.8h0M63.2 382.8h0M70.8 392.3h0M29.5 377.6h0M49.7 387.1h0M25.1 410.9h0M76.0 409.2h0M79.2 410.4h0M24.7 409.2h0M40.7 380.6h0M34.6 414.1h0M71.3 407.4h0M78.2 409.4h0M72.5 399.1h0M70.0 396.7h0M76.3 397.6h0M52.0 385.1h0M68.5 390.9h0M74.1 410.1h0M30.7 389.2h0M72.3 408.7h0M57.1 411.2h0M46.6 387.9h0M43.9 412.4h0M55.6 388.4h0M37.2 414.7h0M42.8 413.0h0M70.4 394.1h0M23.0 388.8h0M38.6 386.1h0M53.4 380.4h0M73.1 400.9h0M31.1 389.6h0M32.6 383.4h0M28.6 412.4h0M26.3 389.0h0M76.9 401.0h0M52.2 388.8h0M71.8 409.0h0M32.7 384.0h0M54.2 378.8h0M28.0 390.5h0M81.8 394.0h0M67.2 389.7h0M26.5 381.4h0M69.6 390.4h0M39.4 382.2h0M43.8 381.7h0M49.6 387.7h0M58.2 378.8h0M27.7 386.1h0M38.6 414.2h0M70.0 391.5h0M23.2 387.8h0M23.3 386.2h0M28.9 413.4h0M32.9 378.7h0M73.0 398.1h0M58.8 388.6h0M24.1 405.5h0M46.0 388.0h0M36.6 411.7h0M26.3 409.0h0M52.8 387.9h0M40.2 382.5h0M75.2 394.6h0M71.6 398.0h0M52.3 384.5h0M72.8 411.4h0M31.9 380.2h0M34.3 377.6h0M76.4 397.4h0M69.0 395.2h0M24.6 411.1h0M59.9 411.5h0M42.8 382.6h0M69.4 407.0h0M49.5 383.7h0M33.9 413.4h0M43.4 383.8h0M71.8 395.4h0M34.2 414.5h0M75.9 410.9h0M40.3 383.8h0M34.5 383.1h0M25.2 385.9h0M45.6 384.5h0M34.7 378.7h0M45.4 385.6h0M69.2 393.7h0M23.4 389.6h0M39.3 388.0h0M67.9 388.3h0M26.1 388.3h0M70.5 409.1h0M74.3 411.1h0M61.8 390.3h0M60.0 411.5h0M69.0 388.8h0M69.4 389.8h0M40.5 383.2h0M53.8 412.8h0M43.0 387.9h0M27.0 383.3h0M35.2 383.1h0M65.5 392.1h0M78.4 402.3h0M63.6 384.9h0M67.9 411.6h0M60.0 388.1h0M63.3 411.2h0M55.1 388.2h0M35.7 383.7h0M68.4 391.3h0M46.2 386.2h0M47.1 379.4h0M58.3 379.5h0M38.8 380.9h0M27.5 408.8h0M56.2 412.5h0M49.7 384.5h0M23.1 396.6h0M24.6 408.4h0M78.0 403.2h0M26.7 384.6h0M40.8 386.0h0M30.1 386.2h0M68.8 392.7h0M30.8 387.2h0M33.1 413.1h0M44.4 376.0h0M56.6 412.1h0M70.7 398.7h0M60.2 387.4h0M37.6 386.5h0M30.4 413.3h0M53.9 383.2h0M37.1 382.1h0M65.7 410.6h0M34.2 385.0h0M86.6 402.3h0M78.3 405.2h0M50.6 387.5h0M71.8 397.4h0M69.2 396.3h0M54.0 372.2h0M52.7 381.1h0M46.9 387.8h0M69.3 381.3h0M25.9 409.9h0M67.0 387.1h0M54.9 382.9h0M70.5 389.9h0M41.6 378.4h0M40.3 385.4h0M51.3 413.3h0M72.8 402.3h0M39.5 381.0h0M25.2 410.3h0M33.7 386.5h0M48.8 379.6h0M51.1 382.3h0M71.1 391.0h0M76.5 396.5h0M23.3 397.5h0M70.2 392.7h0M27.6 407.4h0M81.2 388.1h0M27.5 387.3h0M72.9 387.1h0M32.3 411.1h0M38.2 380.5h0M55.9 413.2h0M48.5 414.7h0M33.4 412.5h0M31.2 412.4h0M68.7 406.9h0M35.2 410.8h0M30.3 383.7h0M72.2 413.7h0M71.4 400.6h0M35.7 412.7h0M72.4 396.1h0M85.2 399.8h0M51.1 374.8h0M69.3 408.7h0M65.0 386.4h0M27.8 375.9h0M27.9 381.0h0M69.9 414.2h0M45.1 412.6h0M53.7 412.0h0M65.4 411.1h0M55.5 388.0h0M49.3 380.9h0M37.8 383.4h0M32.7 384.5h0M61.6 383.0h0M67.9 389.4h0M35.0 375.0h0M65.2 389.1h0M78.1 397.1h0M24.0 405.6h0M83.2 402.4h0M27.5 383.2h0M70.5 395.6h0M44.8 385.4h0M34.3 383.6h0M71.8 407.8h0M69.8 413.3h0M36.3 413.7h0M29.2 409.6h0M59.0 414.4h0M77.4 399.8h0M40.7 411.9h0M39.3 381.3h0M63.1 413.8h0M75.9 404.5h0M40.7 380.0h0M76.9 412.4h0M56.8 379.7h0M32.6 388.8h0M79.4 400.0h0M51.9 387.3h0M53.2 387.0h0M76.1 389.7h0M75.4 392.7h0M37.7 414.4h0M75.7 399.2h0M35.6 414.3h0M34.5 386.7h0M73.2 394.2h0M65.5 411.5h0M63.5 386.3h0M66.9 386.4h0M70.2 409.9h0M72.2 399.0h0M32.3 387.5h0M69.5 405.8h0M35.0 382.0h0M57.9 414.6h0M66.0 392.1h0M30.6 385.7h0M61.6 413.4h0M35.3 414.3h0M26.3 408.0h0M40.5 379.1h0M70.9 410.9h0M66.4 385.5h0M33.7 387.8h0M82.6 393.9h0M25.6 382.2h0M48.3 387.2h0M69.8 405.1h0M62.9 410.5h0M40.5 387.3h0M51.1 411.3h0M62.1 386.1h0M71.6 385.2h0M62.4 413.9h0M71.7 403.2h0M26.0 382.8h0M58.3 387.7h0M73.2 404.8h0M50.4 388.3h0M34.4 382.5h0M27.4 385.2h0M74.4 393.2h0M23.6 392.4h0M68.7 390.7h0M31.7 379.5h0M27.2 412.5h0M34.3 378.5h0M23.3 385.5h0M25.7 383.5h0M58.5 386.5h0M23.8 407.2h0M29.9 378.6h0M58.9 414.2h0M27.8 409.0h0M33.1 382.7h0M53.0 414.9h0M32.5 382.9h0M22.9 411.5h0M27.8 390.6h0M46.2 379.4h0M31.4 384.8h0M42.2 376.7h0M70.5 399.7h0M75.7 399.4h0M53.8 413.0h0M30.0 387.8h0M23.2 396.8h0M73.4 409.8h0M70.7 411.9h0M74.0 400.3h0M50.1 412.8h0M25.6 385.6h0M71.3 393.1h0M37.4 413.2h0M42.1 414.8h0M37.2 382.6h0M59.9 384.0h0M63.8 391.3h0M72.5 402.7h0M44.1 413.4h0M25.2 412.0h0M25.3 407.2h0M66.7 411.6h0M60.2 382.6h0M58.4 379.9h0M48.7 384.4h0M54.3 411.3h0M28.4 412.0h0M25.6 389.0h0M27.2 384.2h0M81.8 399.8h0M34.7 414.3h0M75.8 404.9h0M73.6 398.0h0M74.8 392.8h0M34.4 412.6h0M66.6 388.6h0M65.3 384.6h0M57.3 383.5h0M77.5 394.6h0M54.2 385.5h0M47.6 413.0h0M75.2 399.7h0M43.7 383.4h0M76.1 408.6h0M59.1 389.2h0M73.3 400.5h0M48.4 378.2h0M74.3 398.6h0M44.6 381.9h0M44.2 375.5h0M78.5 398.6h0M63.7 410.2h0M34.7 381.2h0M23.1 405.7h0M38.2 412.4h0M47.9 373.1h0M71.9 404.1h0M24.5 412.9h0M60.0 410.9h0M45.9 384.6h0M34.1 386.4h0M71.7 408.2h0M77.6 411.2h0M75.1 403.3h0M39.4 381.3h0M64.5 414.6h0M76.7 392.8h0M41.5 382.5h0M23.8 406.4h0M65.8 382.8h0M79.5 409.9h0M26.3 414.0h0M33.8 411.6h0M70.6 394.4h0M38.3 387.2h0M45.1 380.5h0M60.4 412.4h0M33.5 412.3h0M31.5 412.5h0M73.4 398.6h0M70.1 409.5h0M23.2 380.9h0M54.7 374.3h0M81.7 407.1h0M76.5 409.7h0M39.1 388.0h0M23.6 392.8h0M32.1 385.6h0M42.9 383.2h0M74.3 392.8h0M24.8 391.9h0M71.3 399.8h0M71.3 399.3h0M39.2 378.4h0M48.0 414.8h0M68.5 409.7h0M56.5 387.2h0M34.2 411.7h0M55.8 387.1h0M53.9 412.3h0M51.4 387.7h0M25.4 410.9h0M66.6 413.8h0M49.4 413.2h0M27.3 385.7h0M23.5 406.1h0M55.0 386.7h0M66.2 409.8h0M72.5 399.0h0M51.6 413.8h0M48.4 413.4h0M51.8 389.2h0M27.4 389.8h0M70.9 399.4h0M78.4 388.9h0M46.8 413.6h0M75.2 398.4h0M65.5 408.7h0M63.6 389.6h0M71.5 405.4h0M58.8 413.6h0M64.9 413.9h0M68.3 393.9h0M69.5 382.6h0M74.3 388.8h0M28.7 409.2h0M52.7 386.5h0M40.0 414.4h0M55.0 381.2h0M39.5 411.4h0M24.8 384.0h0M30.9 388.3h0M70.6 399.4h0M42.2 384.5h0M68.5 408.8h0M23.9 402.7h0M49.3 412.8h0M61.5 389.8h0M73.8 384.8h0M71.7 408.8h0M70.7 396.0h0M77.9 406.0h0M60.1 386.6h0M73.9 396.0h0M70.0 391.1h0M69.2 406.1h0M75.4 409.6h0M35.8 380.9h0M35.6 377.9h0M80.4 408.9h0M26.9 406.8h0M27.1 382.6h0M23.0 384.0h0M28.3 409.5h0M23.3 405.5h0M24.9 410.7h0M24.9 379.9h0M39.7 383.1h0M30.4 385.2h0M39.9 386.8h0M50.9 386.5h0M23.8 392.1h0M54.2 381.4h0M58.0 414.6h0M79.2 403.6h0M26.2 388.8h0M69.9 389.5h0M33.7 388.8h0M72.6 386.7h0M23.4 398.1h0M32.9 380.0h0M75.0 398.8h0M53.8 383.2h0M75.1 408.8h0M76.2 401.2h0M75.5 398.3h0M24.5 412.1h0M70.4 403.3h0M23.3 396.6h0M46.7 386.0h0M49.0 388.7h0M71.1 403.8h0M81.2 398.1h0M73.6 404.4h0M25.9 411.5h0M71.1 401.4h0M75.3 405.0h0M71.2 401.4h0M46.3 375.9h0M57.0 384.4h0M66.9 413.4h0M75.0 406.1h0M26.9 389.0h0M40.4 387.5h0M51.6 383.0h0M71.0 394.1h0M36.6 380.4h0M73.2 393.8h0M28.7 386.2h0M56.3 388.1h0M56.0 389.4h0M52.4 414.2h0M68.1 408.5h0M35.5 380.6h0M25.6 383.4h0M48.5 383.2h0M51.4 382.9h0M62.9 382.8h0M47.8 411.3h0M57.8 412.1h0M32.4 411.0h0M34.4 413.5h0M58.7 385.6h0M43.1 387.8h0M36.4 378.9h0M83.1 403.6h0M54.1 382.9h0M27.5 385.7h0M31.6 413.3h0M46.4 387.5h0M23.9 390.6h0M78.9 396.8h0M29.9 387.2h0M66.5 391.2h0M30.0 378.4h0M70.3 406.5h0M32.7 378.8h0M49.1 387.3h0M34.2 411.9h0M26.4 407.0h0M76.4 393.8h0M64.8 410.6h0M51.3 387.2h0M63.2 411.0h0M79.2 401.4h0M78.7 394.8h0M30.8 379.2h0M24.7 413.4h0M68.4 388.5h0M67.1 385.5h0M74.0 395.6h0M48.7 386.2h0M50.9 384.0h0M60.0 387.1h0M42.5 383.7h0M51.0 413.4h0M45.3 411.9h0M70.5 405.8h0M28.4 410.6h0M23.5 395.8h0M50.5 384.2h0M68.1 386.8h0M52.5 412.1h0M64.9 392.0h0M71.8 400.0h0M73.0 402.4h0M30.7 381.5h0M53.4 379.0h0M64.8 411.5h0M50.2 386.8h0M73.7 408.1h0M70.8 398.5h0M61.6 380.7h0M56.0 384.7h0M72.2 386.2h0M25.2 393.5h0M65.7 391.0h0M34.6 385.2h0M61.6 411.8h0M69.9 414.6h0M54.1 414.8h0M62.4 383.5h0M70.8 411.5h0M29.6 384.8h0M56.4 379.0h0M68.8 380.7h0M37.0 390.6h0M45.8 378.4h0M48.1 380.0h0M60.2 377.4h0M31.5 379.3h0M59.4 383.6h0M40.1 386.2h0M74.5 382.9h0M46.7 381.5h0M26.0 377.4h0M39.4 379.7h0M59.4 376.0h0M43.1 386.3h0M41.2 386.6h0M51.3 382.8h0M37.5 385.0h0M39.3 386.9h0M29.7 383.5h0M64.5 389.3h0M26.1 378.4h0M44.2 381.4h0M48.2 380.9h0M41.8 385.9h0M25.7 376.5h0M29.0 389.5h0M48.8 385.5h0M31.9 390.9h0M47.0 380.5h0M30.7 386.0h0M50.2 387.6h0M39.4 379.8h0M38.8 374.0h0M42.7 374.8h0M27.2 384.2h0M31.3 389.9h0M38.6 377.1h0M27.1 381.8h0M51.3 381.4h0M38.0 391.6h0M23.2 393.2h0M34.7 384.9h0M43.3 387.0h0M36.2 386.9h0M47.2 377.2h0M49.5 386.1h0M73.2 378.4h0M57.0 382.2h0M37.3 383.4h0M38.5 388.0h0M49.5 388.8h0M29.9 375.1h0M35.1 373.2h0M25.8 388.2h0M34.2 388.4h0M34.7 384.2h0M37.9 384.8h0M26.6 387.0h0M54.8 386.9h0M48.1 381.6h0M23.2 387.3h0M42.3 381.4h0M59.4 383.9h0M63.0 379.1h0M41.3 379.7h0M30.9 393.1h0M33.4 379.0h0M36.1 384.7h0M40.6 385.6h0M59.8 382.8h0M54.4 386.0h0M54.6 384.5h0M44.2 379.1h0M27.0 385.4h0M32.0 380.5h0M42.8 390.8h0M26.4 384.9h0M46.0 379.8h0M52.5 384.5h0M49.1 378.8h0M48.6 384.2h0M59.3 379.3h0M40.0 394.0h0M50.0 383.4h0M46.7 381.1h0M25.4 380.3h0M27.7 385.1h0M45.7 380.1h0M48.6 378.1h0M27.6 382.9h0M47.1 382.8h0M50.1 379.0h0M30.5 381.2h0M43.0 380.9h0M40.9 380.3h0M57.1 384.2h0M45.1 393.0h0M34.2 389.0h0M46.7 391.7h0M69.9 380.4h0M51.6 390.5h0M41.2 384.0h0M31.2 387.4h0M34.0 385.1h0M50.8 381.5h0M30.5 386.2h0M42.0 385.2h0M60.7 375.0h0M44.0 382.4h0M28.0 386.9h0M70.3 384.2h0M64.9 385.1h0M48.5 379.6h0M58.6 384.2h0M38.5 382.6h0M51.4 382.1h0M36.5 379.9h0M24.4 387.1h0M75.7 384.6h0M23.7 384.1h0M45.9 392.2h0M45.7 385.1h0M48.7 388.4h0M40.8 384.2h0M41.0 381.4h0M43.8 378.2h0M48.2 384.1h0M42.0 371.0h0M41.1 384.2h0M24.8 384.4h0M68.2 382.0h0M49.0 382.6h0M44.7 377.4h0M33.9 389.2h0M29.0 381.5h0M53.2 378.6h0M39.9 385.5h0M50.1 383.5h0M24.4 381.4h0M62.1 380.9h0M53.7 383.0h0M40.9 389.1h0M48.1 385.1h0M51.6 382.8h0M24.6 386.8h0M63.8 383.1h0M48.3 384.8h0M32.8 383.7h0M27.7 385.7h0M54.8 381.0h0M44.7 377.9h0M48.3 387.1h0M42.3 389.8h0M29.0 378.1h0M48.6 383.8h0M39.4 381.0h0M41.7 387.0h0M72.9 384.1h0M53.3 398.0h0M54.0 381.6h0M77.4 389.9h0M47.0 390.4h0M43.6 385.4h0M33.2 383.2h0M36.1 383.4h0M52.3 388.1h0M25.5 379.1h0M53.7 382.3h0M41.4 381.7h0M43.7 375.2h0M41.4 386.9h0M60.0 387.8h0M57.7 380.1h0M41.6 387.6h0M30.3 375.9h0M54.0 383.1h0M29.3 382.4h0M48.5 383.4h0M57.8 382.7h0M36.7 381.3h0M47.3 382.5h0M36.6 389.1h0M51.4 380.4h0M56.2 393.1h0M38.6 380.1h0M28.6 384.1h0M23.1 385.6h0M54.0 381.7h0M27.2 389.2h0M46.8 385.5h0M52.1 382.1h0M35.5 389.2h0M39.8 378.4h0M55.0 380.5h0M31.5 385.5h0M30.2 386.6h0M39.0 384.5h0M58.6 382.4h0M62.9 381.9h0M40.7 388.1h0M32.7 384.1h0M55.8 379.1h0M45.2 389.8h0M41.4 379.8h0M58.8 384.2h0M60.1 389.1h0M29.7 385.4h0M44.2 379.6h0M34.6 378.4h0M38.2 391.4h0M50.0 378.3h0M37.6 380.5h0M44.5 384.7h0M54.4 382.0h0M61.7 385.6h0M45.8 376.4h0M43.5 382.1h0M27.6 386.0h0M62.6 386.1h0M48.4 380.4h0M43.8 378.4h0M43.1 384.0h0M46.7 377.1h0M52.0 388.8h0M53.6 383.7h0M62.9 379.9h0M45.2 378.3h0M64.8 380.2h0M55.8 376.0h0M41.2 385.2h0M43.1 384.8h0M62.3 385.4h0M31.9 387.3h0M43.1 384.1h0M44.1 388.1h0M54.2 389.2h0M37.0 384.2h0M30.7 384.4h0M49.4 380.5h0M32.3 378.6h0M65.9 385.7h0M54.1 386.1h0M66.5 380.3h0M53.4 390.3h0M50.8 382.0h0M46.8 379.4h0M39.6 380.4h0M48.7 390.1h0M34.8 378.0h0M28.1 379.6h0M37.7 396.0h0M58.8 387.2h0M26.0 379.7h0M26.2 378.1h0M49.7 375.5h0M36.6 383.4h0M48.3 386.3h0M54.9 389.8h0M48.0 374.5h0M33.8 377.0h0M58.7 382.5h0M51.6 395.5h0M42.3 387.0h0M41.7 384.7h0M46.9 377.5h0M37.9 373.5h0M51.8 382.6h0M51.0 381.8h0M48.6 379.6h0M64.8 378.6h0M27.3 389.3h0M41.0 379.0h0M39.6 381.8h0M63.6 382.8h0M56.6 386.2h0M30.6 379.2h0M46.4 387.4h0M71.9 380.4h0M33.9 382.3h0M41.9 390.4h0M48.7 378.6h0M34.1 386.2h0M64.9 387.5h0M35.9 384.4h0M23.9 382.5h0M35.2 392.6h0M50.5 382.9h0M31.6 383.9h0M45.9 381.5h0M49.3 383.7h0M26.3 387.3h0M34.7 381.8h0M46.5 373.5h0M51.1 385.3h0M35.0 378.1h0M44.0 386.3h0M38.3 383.0h0M51.5 387.2h0M48.8 378.7h0M37.1 380.6h0M48.2 381.5h0M36.6 376.3h0M47.9 388.0h0M48.1 375.7h0M72.8 387.9h0M37.6 384.9h0M40.2 382.1h0M33.6 384.6h0M28.6 384.4h0M36.1 381.2h0M50.6 384.3h0M51.6 386.3h0M45.8 378.7h0M38.2 384.6h0M35.6 371.2h0M30.1 374.3h0M34.8 385.5h0M25.2 381.1h0M59.7 379.2h0M65.9 382.8h0M45.8 378.6h0M45.5 375.6h0M44.7 374.1h0M34.3 386.3h0M55.3 381.1h0M47.3 387.4h0M55.4 381.1h0M32.4 384.6h0M24.0 382.4h0M47.7 383.2h0M29.5 383.4h0M55.7 381.0h0M35.9 386.4h0M34.0 390.2h0M37.7 390.5h0M45.4 380.5h0M47.2 379.7h0M50.3 380.5h0M51.8 382.2h0M39.8 382.8h0M69.4 378.5h0M60.0 376.3h0M37.9 383.2h0M40.2 367.1h0M37.7 382.5h0M46.7 378.7h0M29.4 386.5h0M31.7 387.7h0M36.8 381.4h0M55.8 377.9h0M40.0 379.3h0M40.7 384.3h0M45.6 375.6h0M29.0 389.3h0M42.3 381.5h0M53.6 385.3h0M46.0 375.0h0M54.7 378.8h0M58.4 374.4h0M50.6 387.6h0M32.7 382.3h0M37.5 385.6h0M67.1 383.3h0M46.1 385.1h0M44.4 381.5h0M30.8 382.1h0M40.8 382.6h0M51.3 384.8h0M42.2 384.9h0M35.2 395.7h0M38.3 390.6h0M57.5 375.0h0M50.7 382.4h0M48.9 381.2h0M47.7 388.8h0M26.6 381.6h0M45.5 385.1h0M55.9 372.5h0M38.6 376.2h0M54.7 392.4h0M49.1 383.2h0M52.8 378.5h0M42.7 384.1h0M53.5 378.3h0M42.4 376.5h0M51.3 379.5h0M45.9 381.1h0M56.2 388.0h0M40.0 385.1h0M34.9 385.9h0M38.5 386.7h0M48.7 379.1h0M51.9 379.7h0M23.8 384.8h0M57.3 381.7h0M29.3 382.9h0M40.4 382.3h0M34.6 388.6h0M47.4 388.9h0M43.2 380.2h0M50.8 375.1h0M66.0 379.8h0M47.2 379.0h0M34.5 386.7h0M48.0 387.1h0M67.3 378.4h0M50.5 379.6h0M54.3 376.3h0M47.0 382.8h0M38.5 386.6h0M33.2 385.2h0M41.7 385.7h0M43.4 376.1h0M33.9 380.2h0M44.5 387.3h0M39.7 380.6h0M51.1 375.7h0M45.0 386.6h0M46.9 380.4h0M54.7 387.8h0M49.2 382.9h0M41.9 381.8h0M48.7 377.1h0M30.1 389.5h0M40.9 380.1h0M46.8 383.7h0M59.3 383.8h0M66.0 381.1h0M30.0 379.6h0M24.9 381.3h0M46.2 378.4h0M45.2 391.8h0M26.4 380.8h0M41.8 388.2h0M49.8 387.6h0M26.0 384.6h0M29.1 382.4h0M33.6 383.9h0M39.2 385.6h0M51.0 383.5h0M37.8 375.9h0M42.7 374.8h0M71.2 389.8h0M29.6 371.1h0M33.5 383.9h0M50.8 381.9h0M54.8 383.7h0M47.4 377.9h0M65.5 384.6h0M46.1 383.9h0M43.3 383.6h0M34.6 389.1h0M60.0 376.3h0M54.5 387.6h0M59.6 384.2h0M54.2 384.3h0M37.8 390.7h0M41.0 384.1h0M60.1 379.5h0M47.8 386.7h0M56.2 385.0h0M40.8 376.1h0M50.4 385.3h0M43.3 378.1h0M31.8 385.0h0M31.5 379.4h0M51.3 381.7h0M33.7 380.5h0M43.6 384.8h0M35.3 388.7h0M26.4 396.0h0M42.9 383.2h0M52.0 389.8h0M42.3 379.9h0M28.1 388.6h0M48.3 379.4h0M55.5 382.9h0M70.8 385.4h0M60.7 386.1h0M28.9 377.3h0M53.2 379.1h0M45.3 385.8h0M27.0 381.3h0M45.7 376.7h0M66.9 382.7h0M57.5 382.5h0M28.8 383.8h0M42.2 385.4h0M48.4 385.1h0M44.0 387.2h0M44.2 380.6h0M47.0 376.2h0M56.1 382.9h0M39.2 384.6h0M42.8 374.1h0M49.4 378.2h0M47.7 376.6h0M30.2 374.4h0M36.9 382.6h0M30.8 386.2h0M61.1 383.8h0M50.2 381.0h0M27.6 384.6h0M39.2 387.7h0M56.7 382.5h0M33.6 372.9h0M53.1 388.2h0M60.0 384.8h0M57.8 382.9h0M44.3 374.1h0M58.3 381.7h0M35.2 379.1h0M74.3 377.5h0M45.1 382.4h0M56.9 380.6h0M37.3 380.9h0M48.5 386.3h0M49.1 384.2h0M29.9 380.8h0M29.5 380.2h0M39.3 381.0h0M56.4 381.9h0M37.3 378.3h0M59.0 389.6h0M26.0 385.6h0M58.3 370.7h0M27.3 383.4h0M30.1 387.7h0M40.1 384.7h0M66.4 381.1h0M33.7 382.7h0M23.8 386.5h0M54.1 376.6h0M24.4 380.3h0M57.4 390.4h0M42.9 383.1h0M41.6 389.9h0M45.9 396.4h0M31.6 380.8h0M43.8 377.6h0M26.5 381.8h0M59.5 387.9h0M28.6 388.6h0M47.7 393.2h0M28.5 382.8h0M35.1 385.2h0M37.1 379.8h0M80.8 371.7h0M41.8 382.8h0M31.3 377.8h0M36.2 385.9h0M39.9 379.7h0M66.1 384.2h0M46.4 384.7h0M53.7 382.8h0M30.2 391.4h0M39.4 390.1h0M44.7 379.9h0M32.6 390.2h0M47.2 390.9h0M50.0 382.4h0M49.1 383.2h0M40.0 382.8h0M56.2 380.1h0M38.7 380.5h0M37.5 388.9h0M60.7 385.0h0M27.6 380.5h0M30.7 379.6h0M47.0 382.3h0M58.7 387.1h0M33.4 379.1h0M65.6 387.1h0M42.4 383.9h0M40.5 383.6h0M31.0 387.6h0M67.4 386.8h0M40.0 376.7h0M24.7 378.1h0M73.9 382.0h0M47.1 384.6h0M52.4 389.1h0M63.9 383.3h0M50.0 390.7h0M54.7 379.8h0M42.7 380.6h0M51.5 381.6h0M41.6 379.3h0M41.7 388.2h0M43.6 370.5h0M36.8 380.7h0M48.6 388.2h0M48.5 381.6h0M52.6 387.8h0M50.3 392.9h0M68.0 383.4h0M55.7 388.3h0M39.3 393.9h0M47.9 384.8h0M60.4 382.8h0M29.7 387.1h0M68.2 388.3h0M31.9 382.8h0M53.7 380.8h0M42.1 390.7h0M41.3 381.8h0M25.1 388.4h0M53.8 384.2h0M25.3 391.2h0M23.2 379.2h0M57.1 379.2h0M65.3 386.8h0M33.3 377.9h0M55.0 383.5h0M52.4 390.0h0M40.8 375.0h0M59.4 384.8h0M39.9 388.5h0M48.7 382.9h0M25.7 378.8h0M26.3 381.8h0M57.2 379.2h0M49.2 383.3h0M40.1 381.8h0M66.8 380.7h0M66.7 385.1h0M47.7 390.1h0M23.1 384.5h0M40.5 389.0h0M31.2 390.1h0M43.2 380.4h0M29.8 384.2h0M26.4 381.1h0M44.2 384.6h0M37.8 385.2h0M51.0 376.0h0M32.6 383.8h0M27.9 375.9h0M41.1 386.0h0M31.2 381.2h0M44.4 380.8h0M28.6 388.1h0M40.6 381.6h0M37.5 383.5h0M41.9 382.1h0M63.3 385.3h0M44.6 387.7h0M48.6 386.8h0M33.9 380.9h0M44.9 388.4h0M38.4 378.9h0M42.4 379.7h0M50.4 382.4h0M35.5 387.7h0M36.8 377.7h0M35.7 387.0h0M35.4 382.8h0M44.3 381.0h0M37.3 387.9h0M61.5 379.4h0M76.8 393.3h0M34.6 382.2h0M45.8 383.7h0M55.5 389.9h0M38.5 383.8h0M29.1 388.3h0M64.6 374.2h0M50.9 381.0h0M46.1 384.8h0M60.9 387.9h0M52.0 386.5h0M41.4 386.0h0M29.3 387.8h0M35.6 385.1h0M57.7 373.4h0M50.9 389.5h0M39.6 379.2h0M65.0 384.4h0M40.0 383.8h0M54.8 383.2h0M44.9 378.0h0M67.1 374.3h0M51.8 378.5h0M42.6 386.7h0M39.7 376.5h0M41.8 379.0h0M32.6 384.9h0M24.2 378.4h0M46.0 380.6h0M35.1 383.4h0M35.0 384.3h0M40.8 378.3h0M42.7 383.6h0M42.1 384.8h0M64.6 377.3h0M50.6 384.0h0M69.4 379.8h0M36.3 383.6h0M52.2 386.3h0M37.0 382.2h0M34.7 387.1h0M69.9 386.6h0M32.0 387.1h0M32.8 388.0h0M29.6 375.5h0M30.8 379.4h0M42.5 382.0h0M57.5 384.6h0M40.3 392.0h0M37.8 382.5h0M52.7 383.0h0M46.6 380.0h0M57.4 378.5h0M37.3 382.4h0M36.0 383.1h0M47.4 382.6h0M55.4 390.4h0M52.7 382.4h0M46.2 382.6h0M45.0 386.7h0M41.5 382.2h0M47.3 385.4h0M68.5 377.2h0M38.8 377.3h0M37.3 383.5h0M36.3 382.0h0M47.1 379.4h0M40.2 383.9h0M53.4 379.8h0M35.2 380.7h0M44.4 384.0h0M69.4 378.4h0M46.3 380.3h0M23.7 382.9h0M38.7 380.9h0M31.6 378.9h0M43.3 378.4h0M38.2 382.4h0M57.2 392.1h0M27.8 385.5h0M39.3 377.0h0M44.8 386.2h0M46.4 379.6h0M43.9 383.0h0M43.1 392.1h0M40.0 377.9h0M53.2 384.4h0M51.4 379.9h0M45.1 386.3h0M46.1 384.3h0M59.6 388.6h0M57.0 386.2h0M45.6 379.9h0M69.9 396.1h0M33.8 385.5h0M26.6 380.5h0M41.9 383.9h0M37.1 385.8h0M33.5 385.2h0M46.5 387.3h0M41.2 386.9h0M31.9 379.2h0M42.6 392.5h0M43.6 391.9h0M51.3 386.6h0M33.7 383.2h0M53.4 383.3h0M27.8 381.5h0M60.3 381.7h0M42.3 388.3h0M75.8 382.4h0M72.6 384.6h0M46.9 387.2h0M70.0 387.9h0M61.9 385.8h0M60.2 380.2h0M66.4 377.0h0M46.3 383.7h0M61.9 388.4h0M62.7 386.3h0M62.7 385.5h0M49.7 384.5h0M66.0 385.7h0M71.5 380.5h0M65.7 387.6h0M59.9 387.9h0M86.2 383.1h0M53.7 386.2h0M69.0 377.6h0M64.2 385.2h0M80.1 384.0h0M65.5 389.5h0M67.4 383.7h0M66.6 388.0h0M52.5 382.9h0M54.2 375.4h0M59.5 383.6h0M70.6 385.3h0M64.1 385.1h0M60.1 385.2h0M74.3 382.5h0M44.2 383.2h0M50.3 380.0h0M39.5 376.5h0M72.9 384.1h0M61.1 381.5h0M70.7 388.8h0M61.0 375.8h0M71.2 385.7h0M60.9 393.0h0M65.7 383.8h0M64.4 384.5h0M65.0 386.2h0M77.2 386.5h0M47.4 382.9h0M61.4 380.5h0M63.8 387.1h0M62.4 376.9h0M58.4 387.8h0M57.2 382.9h0M75.8 384.5h0M61.4 382.4h0M83.9 390.2h0M66.8 385.5h0M59.4 383.2h0M67.0 383.1h0M63.0 383.9h0M74.1 394.1h0M51.5 379.2h0M45.8 388.8h0M65.2 386.8h0M69.5 390.7h0M64.6 387.0h0M68.1 384.5h0M66.7 388.6h0M48.7 385.4h0M64.5 387.5h0M73.9 390.2h0M63.5 384.9h0M50.2 382.8h0M59.0 381.9h0M67.0 386.3h0M78.2 381.0h0M44.4 383.1h0M65.3 380.6h0M53.6 386.5h0M66.6 381.5h0M67.3 379.4h0M59.9 380.1h0M67.7 382.2h0M72.3 382.6h0M60.5 385.5h0M50.0 383.9h0M74.8 386.0h0M69.5 386.3h0M67.1 387.5h0M55.8 376.9h0M70.9 380.0h0M80.4 386.7h0M60.9 385.3h0M62.9 388.4h0M52.4 378.3h0M55.5 382.6h0M52.3 383.3h0M63.2 385.2h0M58.9 384.6h0M65.4 386.4h0M54.0 384.0h0M60.5 390.0h0M53.4 391.3h0M63.7 380.0h0M47.3 384.7h0M63.4 387.7h0M59.5 386.8h0M63.6 382.9h0M47.1 385.5h0M67.9 378.2h0M59.3 384.4h0M64.0 378.7h0M45.2 386.5h0M50.8 380.0h0M58.5 385.2h0M74.4 385.8h0M66.7 384.8h0M63.2 382.0h0M53.7 383.7h0M52.0 389.2h0M64.5 382.8h0M68.3 384.6h0M63.9 382.3h0M77.4 388.6h0M55.9 384.8h0M63.6 381.4h0M46.8 384.5h0M63.9 383.5h0M75.2 390.1h0M52.6 384.3h0M69.6 379.0h0M75.0 386.5h0M55.8 391.6h0M66.2 389.3h0M76.2 380.1h0M64.1 383.4h0M69.1 384.4h0M46.0 384.4h0M67.4 386.0h0M66.7 383.1h0M50.1 380.8h0M53.3 388.3h0M67.4 380.0h0M59.3 381.3h0M72.0 380.0h0M64.8 386.9h0M62.5 384.9h0M60.5 388.0h0M64.6 381.4h0M69.2 379.5h0M66.8 382.7h0M58.2 383.8h0M73.2 385.3h0M67.9 377.8h0M65.5 386.4h0M62.8 380.9h0M66.5 381.9h0M45.5 389.2h0M64.2 375.8h0M76.8 385.8h0M64.0 385.8h0M62.8 381.2h0M56.6 382.7h0M66.4 389.4h0M60.2 392.4h0M73.8 388.8h0M54.2 392.0h0M57.9 381.7h0M56.6 378.2h0M78.5 384.3h0M60.3 387.7h0M57.1 377.1h0M43.2 380.8h0M53.8 381.2h0M66.8 385.9h0M66.7 385.4h0M56.1 381.4h0M56.6 385.2h0M78.7 379.9h0M86.3 382.8h0M72.3 379.4h0M76.0 383.9h0M77.9 381.3h0M81.9 387.3h0M59.3 384.4h0M54.1 383.6h0M78.5 391.6h0M53.3 386.0h0M52.7 383.0h0M52.9 382.2h0M60.8 379.8h0M44.1 384.2h0M49.1 385.7h0M56.4 376.8h0M51.2 379.0h0M71.6 382.4h0M62.1 380.1h0M67.2 384.7h0M66.2 385.2h0M60.1 384.0h0M70.9 386.7h0M66.1 382.2h0M59.1 384.3h0M46.8 380.5h0M66.7 385.6h0M50.6 384.8h0M65.4 379.7h0M62.7 383.9h0M49.8 384.3h0M64.3 385.6h0M63.7 385.8h0M63.8 381.6h0M63.3 387.6h0M56.1 386.6h0M67.3 381.6h0M55.8 379.9h0M52.3 381.9h0M68.1 378.6h0M70.4 385.3h0M67.5 389.2h0M60.1 390.2h0M44.5 380.1h0M75.3 387.6h0M44.4 384.8h0M67.3 374.9h0M81.0 383.2h0M63.3 382.7h0M64.6 389.3h0M65.4 381.0h0M63.8 386.8h0M83.2 384.1h0M54.4 378.7h0M53.3 382.3h0M59.1 390.6h0M77.7 383.8h0M56.8 388.1h0M65.9 387.9h0M71.6 382.7h0M69.0 379.4h0M71.2 379.9h0M74.8 390.3h0M64.8 385.1h0M57.9 377.6h0M63.3 387.8h0M58.9 377.4h0M84.7 381.2h0M57.2 384.8h0M66.3 394.6h0M48.5 387.8h0M63.2 382.6h0M59.4 384.6h0M68.1 388.2h0M68.3 390.2h0M74.8 383.5h0M74.0 383.6h0M61.4 381.2h0M53.5 387.2h0M54.6 388.6h0M64.7 376.7h0M63.4 382.9h0M64.3 379.6h0M57.2 385.1h0M74.9 379.5h0M48.7 379.2h0M56.7 389.0h0M52.3 383.8h0M60.1 384.3h0M73.2 386.2h0M59.4 388.4h0M62.9 382.8h0M68.0 382.9h0M59.0 382.9h0M65.4 388.8h0M64.3 384.2h0M51.8 383.3h0M57.8 386.1h0M65.2 391.8h0M73.5 384.8h0M73.5 383.4h0M80.9 392.3h0M66.4 389.8h0M58.3 389.2h0M61.4 382.5h0M61.0 382.1h0M58.3 377.2h0M65.4 388.4h0M65.9 384.8h0M51.4 377.3h0M71.8 389.3h0M45.5 383.2h0M60.0 383.6h0M72.3 378.4h0M67.5 386.5h0M58.8 386.5h0M79.7 384.3h0M58.0 382.8h0M44.0 395.0h0M66.1 379.7h0M46.0 381.6h0M54.5 387.3h0M67.6 380.4h0M57.9 380.1h0M67.2 389.0h0M51.6 386.9h0M69.7 386.4h0M46.8 385.2h0M73.9 381.7h0M57.7 383.5h0M75.8 384.2h0M54.4 387.9h0M79.3 386.2h0M53.4 380.8h0M45.9 387.7h0M62.4 377.8h0M73.1 383.2h0M69.1 379.9h0M72.5 381.1h0M69.3 392.2h0M54.6 378.6h0M68.9 381.2h0M62.8 386.5h0M55.6 382.6h0M63.6 385.1h0M61.5 390.2h0M74.7 387.1h0M57.4 382.6h0M56.9 384.0h0M55.7 386.6h0M79.1 387.0h0M56.2 384.6h0M73.7 385.9h0M52.7 385.9h0M66.6 384.1h0M64.4 382.1h0M73.1 387.5h0M71.8 385.7h0M62.7 376.2h0M57.2 381.2h0M76.6 382.6h0M56.3 383.7h0M41.6 389.3h0M45.3 397.3h0M47.5 374.7h0M67.4 385.7h0M81.9 384.8h0M43.6 383.8h0M55.0 386.7h0M62.8 385.1h0M75.9 383.1h0M54.9 384.6h0M67.3 386.7h0M59.7 386.3h0M85.5 385.3h0M63.3 382.2h0M65.2 395.8h0M62.8 385.9h0M58.3 387.5h0M70.5 382.5h0M51.6 385.3h0M44.0 385.2h0M60.6 376.9h0M69.3 381.6h0M56.8 381.6h0M63.7 382.1h0M51.0 380.2h0M71.6 384.7h0M67.9 390.1h0M62.2 385.0h0M63.5 379.8h0M49.5 380.4h0M49.9 383.0h0M60.9 378.8h0M66.6 385.7h0M67.1 389.9h0M58.7 382.2h0M68.7 384.8h0M74.8 382.8h0M61.2 382.0h0M64.8 385.3h0M60.1 381.8h0M60.9 381.3h0M63.5 378.0h0M77.3 384.8h0M70.2 388.8h0M69.4 387.3h0M57.9 390.5h0M53.9 381.8h0M65.5 387.9h0M73.2 380.1h0M77.5 387.3h0M39.9 391.1h0M84.0 386.5h0M65.8 391.1h0M70.2 382.1h0M46.3 384.0h0M59.9 380.8h0M69.4 384.6h0M51.4 385.6h0M36.0 384.6h0M65.0 382.6h0M61.6 382.5h0M75.0 385.9h0M60.6 383.9h0M61.2 379.9h0M68.3 376.9h0M71.3 382.1h0M25.6 382.3h0M30.5 369.4h0M34.2 372.8h0M36.7 373.4h0M32.0 374.6h0M57.7 378.1h0M26.7 375.5h0M48.9 378.1h0M36.5 373.0h0M32.1 376.9h0M43.3 375.4h0M33.9 368.1h0M30.7 377.4h0M54.1 375.5h0M35.8 372.9h0M39.7 373.0h0M50.7 373.8h0M34.4 383.8h0M61.9 385.5h0M44.8 361.4h0M24.9 379.8h0M40.1 373.9h0M27.7 379.6h0M42.9 383.3h0M33.9 368.1h0M27.2 375.7h0M29.3 384.8h0M45.7 368.8h0M47.4 372.8h0M47.7 380.3h0M35.0 381.0h0M25.4 375.8h0M43.0 375.2h0M33.6 366.4h0M24.4 382.1h0M55.2 373.2h0M30.0 374.3h0M24.8 379.9h0M40.6 376.0h0M37.4 380.0h0M51.4 378.0h0M34.6 376.0h0M34.7 376.6h0M41.0 369.4h0M39.8 374.3h0M40.1 380.4h0M40.4 370.5h0M39.5 371.4h0M34.3 370.6h0M45.5 375.8h0M34.8 382.0h0M45.2 377.7h0M50.5 364.1h0M31.9 378.2h0M59.6 372.8h0M31.6 377.5h0M31.7 374.3h0M42.9 370.7h0M42.0 374.6h0M38.6 372.8h0M45.4 376.5h0M40.3 370.6h0M56.6 369.4h0M37.5 378.7h0M30.3 380.5h0M33.0 377.9h0M42.2 371.8h0M42.4 371.3h0M39.9 371.6h0M30.4 379.5h0M48.0 370.9h0M55.4 379.4h0M38.3 378.2h0M54.3 381.2h0M45.8 380.3h0M58.0 377.7h0M42.3 367.7h0M39.2 378.1h0M45.6 375.6h0M34.1 373.1h0M41.7 381.8h0M50.0 374.2h0M45.4 372.4h0M37.7 380.6h0M39.8 373.0h0M44.8 372.1h0M44.5 369.4h0M44.8 370.9h0M41.1 371.3h0M30.6 378.1h0M32.0 369.9h0M42.2 365.7h0M45.5 376.5h0M44.3 371.8h0M31.9 374.9h0M36.6 381.4h0M27.4 375.4h0M25.5 382.5h0M38.7 374.7h0M50.2 380.0h0M38.9 372.3h0M55.2 375.5h0M36.5 370.3h0M38.3 370.9h0M29.1 373.9h0M34.9 368.4h0M27.3 375.8h0M24.1 373.5h0M27.4 376.2h0M38.8 368.4h0M31.4 378.5h0M33.5 383.5h0M41.7 382.4h0M24.1 384.5h0M38.7 375.2h0M45.6 373.2h0M46.4 377.4h0M42.6 373.8h0M37.5 366.3h0M32.4 379.1h0M37.3 373.8h0M52.9 367.7h0M40.5 372.5h0M37.0 373.9h0M43.1 375.1h0M38.4 375.1h0M40.0 381.8h0M35.8 368.6h0M34.3 374.2h0M47.0 370.6h0M42.3 372.2h0M33.7 373.3h0M29.2 381.6h0M37.7 382.4h0M38.9 366.8h0M44.7 377.4h0M45.3 376.4h0M24.1 374.7h0M41.4 375.3h0M44.6 381.4h0M40.0 380.2h0M42.5 379.5h0M29.1 386.4h0M50.3 373.0h0M35.5 366.9h0M58.0 373.7h0M26.5 375.3h0M52.1 381.5h0M32.5 372.4h0M45.8 377.5h0M35.3 367.6h0M39.0 380.4h0M43.4 375.3h0M32.5 373.6h0M45.2 385.7h0M35.6 380.3h0M39.6 369.8h0M35.0 388.7h0M49.4 384.9h0M44.3 379.6h0M46.0 365.8h0M38.5 381.7h0M53.1 371.8h0M40.6 381.6h0M32.1 371.4h0M45.7 377.4h0M46.3 371.8h0M43.7 373.2h0M34.4 378.1h0M40.5 368.4h0M50.5 386.9h0M42.3 369.9h0M24.7 369.6h0M32.3 378.1h0M31.9 381.5h0M31.2 373.4h0M55.0 370.4h0M30.1 369.8h0M30.8 376.5h0M45.8 377.1h0M37.2 376.8h0M34.8 379.1h0M35.3 373.0h0M43.3 371.3h0M33.7 375.8h0M26.4 376.3h0M25.9 371.4h0M40.5 378.2h0M46.4 369.1h0M51.2 372.8h0M23.3 380.6h0M43.6 369.3h0M32.5 380.3h0M64.3 368.0h0M50.5 367.1h0M53.3 367.5h0M45.2 375.6h0M41.4 378.6h0M34.4 381.5h0M32.6 381.1h0M30.8 379.3h0M43.6 370.8h0M52.0 370.8h0M34.8 378.9h0M31.5 382.1h0M24.6 369.8h0M40.2 381.5h0M49.1 365.4h0M49.5 376.9h0M50.4 374.5h0M41.7 374.0h0M38.8 375.2h0M49.5 370.7h0M28.0 377.2h0M34.0 375.3h0M53.4 379.7h0M28.3 383.0h0M37.7 375.6h0M43.7 370.9h0M38.7 369.3h0M48.3 383.5h0M51.7 382.9h0M42.3 379.4h0M50.5 375.3h0M29.6 379.1h0M36.6 381.5h0M59.6 371.9h0M55.5 375.1h0M26.5 369.5h0M37.9 374.4h0M39.2 382.7h0M41.7 380.4h0M49.5 375.7h0M54.6 361.5h0M38.3 371.7h0M48.1 375.5h0M43.8 373.9h0M37.8 375.2h0M47.2 372.3h0M43.4 375.0h0M41.5 374.3h0M29.2 371.5h0M55.6 384.2h0M39.4 372.6h0M27.7 363.7h0M26.3 383.9h0M44.1 370.8h0M44.4 379.5h0M33.8 371.6h0M42.2 377.8h0M44.0 374.8h0M39.3 380.0h0M31.7 373.9h0M46.7 371.7h0M45.5 376.3h0M43.1 373.1h0M30.5 365.4h0M26.0 372.0h0M38.7 389.3h0M46.4 365.9h0M47.4 376.2h0M43.3 373.8h0M33.9 384.2h0M30.8 369.4h0M37.8 375.5h0M37.9 378.4h0M48.0 374.1h0M33.7 371.2h0M34.4 374.9h0M56.5 373.5h0M52.0 373.4h0M30.1 379.7h0" stroke="#000" stroke-width="0.84" stroke-linecap="square" fill="none"/>
<path d="M55.9 412.3L55.4 412.3L54.9 412.4L54.4 412.4L53.9 412.4L53.4 412.4L52.9 412.4L52.4 412.4L51.9 412.4L51.4 412.4L50.9 412.4L50.4 412.4L49.9 412.5L49.4 412.5L48.9 412.5L48.4 412.5L47.9 412.5L47.4 412.5L46.9 412.5L46.4 412.5L45.9 412.5L45.4 412.5L44.9 412.5L44.4 412.5L43.9 412.5L43.4 412.5L42.9 412.5L42.4 412.5L41.9 412.5L41.4 412.5L40.9 412.5L40.4 412.4L39.9 412.4L39.4 412.4L38.9 412.4L38.4 412.3L38.1 412.3L37.6 412.3L37.1 412.2L36.6 412.1L36.1 412.1L35.9 412.0L35.4 411.9L34.9 411.9L34.6 411.8L34.1 411.7L33.6 411.6L33.4 411.5L32.9 411.4L32.6 411.3L32.1 411.2L31.8 411.1L31.4 410.9L31.0 410.8L30.6 410.6L30.4 410.5L29.9 410.3L29.6 410.2L29.3 410.1L28.9 409.9L28.6 409.7L28.3 409.6L27.9 409.3L27.6 409.2L27.4 409.0L27.1 408.8L26.7 408.6L26.4 408.3L26.1 408.1L25.9 407.9L25.6 407.7L25.4 407.5L25.1 407.3L24.9 407.0L24.6 406.8L24.4 406.5L24.1 406.2L23.9 405.9L23.6 405.6L23.4 405.3L23.3 405.1L23.1 404.8L22.9 404.5L22.7 404.1L22.5 403.8L22.4 403.5L22.4 403.1L22.4 402.6L22.4 402.1L22.4 401.6L22.4 401.1L22.4 400.6L22.4 400.1L22.4 399.6L22.4 399.1L22.4 398.6L22.4 398.1L22.4 397.6L22.4 397.1L22.4 396.6L22.4 396.1L22.4 395.6L22.5 395.3L22.6 395.0L22.9 394.6L23.0 394.3L23.2 394.1L23.4 393.7L23.6 393.4L23.9 393.1L24.1 392.8L24.4 392.6L24.6 392.3L24.8 392.1L25.1 391.8L25.4 391.6L25.6 391.3L25.9 391.1L26.1 390.9L26.4 390.7L26.6 390.5L26.9 390.3L27.3 390.1L27.6 389.8L27.9 389.7L28.2 389.6L28.6 389.3L28.9 389.2L29.1 389.0L29.6 388.8L29.9 388.7L30.2 388.6L30.6 388.4L30.9 388.3L31.4 388.1L31.6 388.0L32.1 387.9L32.4 387.8L32.9 387.7L33.3 387.6L33.6 387.5L34.1 387.4L34.5 387.3L34.9 387.2L35.4 387.1L35.9 387.1L36.1 387.0L36.6 387.0L37.1 386.9L37.6 386.9L38.1 386.9L38.6 386.9L39.1 386.8L39.6 386.8L40.1 386.8L40.6 386.8L41.1 386.9L41.6 386.9L42.1 386.9L42.6 386.9L43.1 387.0L43.6 387.0L44.1 387.1L44.4 387.1L44.9 387.1L45.4 387.2L45.9 387.2L46.4 387.3L46.6 387.3L47.1 387.4L47.6 387.4L48.1 387.5L48.5 387.6L48.9 387.6L49.4 387.7L49.9 387.7L50.4 387.8L50.6 387.8L51.1 387.9L51.6 388.0L52.1 388.0L52.4 388.1L52.9 388.1L53.4 388.2L53.9 388.3L54.1 388.3L54.6 388.4L55.1 388.5L55.6 388.6L55.9 388.6L56.4 388.7L56.9 388.8L57.1 388.8L57.6 388.9L58.1 389.0L58.4 389.1L58.9 389.2L59.4 389.3L59.6 389.4L60.1 389.5L60.4 389.6L60.9 389.7L61.3 389.8L61.6 389.9L62.0 390.1L62.4 390.2L62.7 390.3L63.1 390.5L63.4 390.6L63.9 390.8L64.2 390.9L64.5 391.1L64.9 391.3L65.2 391.4L65.5 391.6L65.9 391.8L66.2 392.0L66.4 392.1L66.7 392.3L67.0 392.6L67.4 392.8L67.7 393.0L67.9 393.2L68.2 393.4L68.4 393.7L68.7 393.9L68.9 394.1L69.2 394.4L69.4 394.7L69.7 395.0L69.9 395.3L70.1 395.6L70.2 395.8L70.4 396.1L70.7 396.5L70.8 396.8L70.9 397.1L71.1 397.6L71.2 397.8L71.4 398.3L71.5 398.6L71.6 399.1L71.7 399.3L71.7 399.8L71.8 400.3L71.8 400.8L71.8 401.3L71.8 401.8L71.7 402.3L71.6 402.6L71.5 403.1L71.4 403.5L71.3 403.8L71.2 404.2L71.0 404.6L70.9 404.8L70.7 405.2L70.5 405.6L70.3 405.8L70.2 406.1L69.9 406.4L69.7 406.7L69.4 407.0L69.2 407.3L68.9 407.6L68.7 407.8L68.4 408.0L68.2 408.3L67.9 408.5L67.7 408.7L67.4 408.8L67.1 409.1L66.7 409.3L66.4 409.5L66.2 409.7L65.9 409.8L65.4 410.1L65.2 410.2L64.9 410.3L64.4 410.5L64.2 410.6L63.7 410.8L63.4 410.9L63.0 411.1L62.6 411.2L62.2 411.3L61.9 411.4L61.4 411.5L61.1 411.6L60.6 411.7L60.1 411.8L59.9 411.8L59.4 411.9L58.9 412.0L58.6 412.1L58.1 412.1L57.6 412.2L57.1 412.2L56.6 412.3L56.1 412.3L55.9 412.3Z" fill="#000"/>
<path d="M41.9 410.3L41.4 410.4L40.9 410.4L40.4 410.5L39.9 410.5L39.4 410.5L38.9 410.5L38.4 410.5L37.9 410.4L37.4 410.4L36.9 410.3L36.6 410.3L36.1 410.2L35.7 410.1L35.4 410.0L34.9 409.8L34.6 409.8L34.1 409.6L33.9 409.5L33.4 409.3L33.1 409.2L32.8 409.1L32.4 408.8L32.1 408.7L31.8 408.6L31.4 408.3L31.1 408.1L30.9 408.0L30.6 407.8L30.3 407.6L30.0 407.3L29.7 407.1L29.5 406.8L29.2 406.6L29.0 406.3L28.7 406.1L28.5 405.8L28.3 405.6L28.1 405.3L27.9 405.0L27.6 404.6L27.5 404.3L27.3 404.1L27.1 403.7L27.0 403.3L26.9 403.1L26.7 402.6L26.6 402.3L26.5 401.8L26.4 401.3L26.4 401.1L26.3 400.6L26.3 400.1L26.3 399.6L26.4 399.1L26.4 398.8L26.5 398.3L26.6 397.8L26.7 397.6L26.9 397.1L26.9 396.8L27.1 396.3L27.3 396.1L27.4 395.8L27.6 395.4L27.9 395.1L28.0 394.8L28.2 394.6L28.4 394.3L28.6 394.0L28.9 393.8L29.1 393.5L29.4 393.3L29.6 393.0L29.9 392.8L30.2 392.6L30.5 392.3L30.9 392.1L31.1 391.9L31.4 391.7L31.7 391.6L32.1 391.3L32.4 391.2L32.6 391.0L33.1 390.8L33.4 390.7L33.8 390.6L34.1 390.4L34.4 390.3L34.9 390.2L35.3 390.1L35.6 390.0L36.1 389.8L36.4 389.8L36.9 389.7L37.4 389.6L37.9 389.6L38.2 389.6L38.6 389.5L39.1 389.5L39.6 389.5L40.1 389.5L40.6 389.5L40.9 389.6L41.4 389.6L41.9 389.7L42.4 389.8L42.6 389.8L43.1 389.9L43.6 390.0L43.9 390.1L44.4 390.2L44.6 390.3L45.1 390.5L45.4 390.6L45.9 390.8L46.1 390.9L46.4 391.1L46.9 391.3L47.1 391.4L47.4 391.6L47.7 391.8L48.1 392.1L48.4 392.3L48.6 392.4L48.9 392.6L49.1 392.8L49.4 393.1L49.6 393.3L49.9 393.6L50.1 393.8L50.4 394.1L50.6 394.4L50.9 394.7L51.1 395.0L51.4 395.3L51.5 395.6L51.7 395.8L51.9 396.1L52.2 396.3L52.5 396.6L52.8 396.8L53.1 397.0L53.4 397.1L53.9 397.3L54.1 397.4L54.6 397.5L54.9 397.6L55.4 397.6L55.9 397.7L56.4 397.8L56.6 397.8L57.1 397.9L57.6 398.0L58.0 398.1L58.4 398.1L58.9 398.2L59.4 398.3L59.6 398.3L60.1 398.5L60.5 398.6L60.9 398.6L61.4 398.8L61.6 398.9L62.1 399.1L62.4 399.2L62.7 399.3L63.1 399.5L63.4 399.7L63.6 399.9L63.9 400.1L64.2 400.5L64.3 400.8L64.3 401.3L64.1 401.6L63.9 401.9L63.6 402.1L63.4 402.3L63.0 402.6L62.6 402.7L62.4 402.8L61.9 403.0L61.6 403.1L61.1 403.3L60.9 403.3L60.4 403.5L60.1 403.6L59.6 403.6L59.1 403.7L58.8 403.8L58.4 403.9L57.9 403.9L57.4 404.0L57.0 404.1L56.6 404.1L56.1 404.2L55.6 404.2L55.1 404.3L54.9 404.3L54.4 404.4L53.9 404.5L53.6 404.6L53.1 404.7L52.6 404.8L52.4 404.9L52.0 405.1L51.6 405.2L51.4 405.4L51.1 405.6L50.8 405.8L50.5 406.1L50.2 406.3L49.9 406.5L49.6 406.7L49.4 407.0L49.1 407.2L48.9 407.4L48.6 407.6L48.3 407.8L48.0 408.1L47.6 408.3L47.4 408.4L47.1 408.6L46.7 408.8L46.4 408.9L46.1 409.1L45.6 409.3L45.4 409.4L45.0 409.6L44.6 409.7L44.2 409.8L43.9 409.9L43.4 410.0L43.1 410.1L42.6 410.2L42.1 410.3L41.9 410.3Z" fill="#d2d2d2" stroke="#000" stroke-width="1.0"/>
<path d="M41.1 407.8L40.6 407.9L40.1 407.9L39.6 407.9L39.1 407.9L38.6 407.9L38.1 407.8L37.8 407.8L37.4 407.7L36.9 407.6L36.5 407.6L36.1 407.5L35.7 407.3L35.4 407.2L35.0 407.1L34.6 406.9L34.4 406.8L33.9 406.6L33.6 406.4L33.4 406.2L33.1 406.1L32.7 405.8L32.4 405.6L32.1 405.3L31.9 405.1L31.6 404.8L31.4 404.6L31.2 404.3L31.0 404.1L30.8 403.8L30.6 403.6L30.4 403.2L30.2 402.8L30.1 402.6L29.9 402.1L29.8 401.8L29.7 401.3L29.6 401.0L29.6 400.6L29.6 400.1L29.6 399.6L29.6 399.1L29.7 398.8L29.8 398.3L29.9 398.0L30.1 397.6L30.2 397.3L30.4 396.8L30.6 396.6L30.7 396.3L30.9 396.0L31.1 395.7L31.4 395.4L31.6 395.2L31.9 394.9L32.1 394.7L32.4 394.5L32.6 394.3L33.0 394.1L33.3 393.8L33.6 393.6L33.9 393.5L34.2 393.3L34.6 393.1L34.9 393.0L35.4 392.8L35.6 392.7L36.1 392.6L36.4 392.5L36.9 392.4L37.2 392.3L37.6 392.2L38.1 392.2L38.6 392.1L39.1 392.1L39.6 392.1L40.1 392.1L40.6 392.1L41.1 392.2L41.6 392.3L41.9 392.3L42.4 392.4L42.8 392.6L43.1 392.6L43.6 392.8L43.9 392.9L44.2 393.1L44.6 393.2L44.9 393.4L45.3 393.6L45.6 393.8L45.9 393.9L46.1 394.1L46.4 394.3L46.7 394.6L47.0 394.8L47.3 395.1L47.5 395.3L47.7 395.6L48.0 395.8L48.2 396.1L48.4 396.3L48.6 396.6L48.9 396.9L49.1 397.2L49.4 397.4L49.6 397.6L49.9 397.8L50.3 398.1L50.6 398.2L50.9 398.3L51.4 398.5L51.6 398.6L52.1 398.7L52.6 398.8L52.9 398.8L53.4 398.9L53.9 398.9L54.4 399.0L54.9 399.0L55.1 399.1L55.6 399.1L56.1 399.2L56.6 399.2L57.0 399.3L57.4 399.4L57.9 399.5L58.2 399.6L58.6 399.7L59.0 399.8L59.4 400.0L59.6 400.1L60.0 400.3L60.3 400.6L60.4 400.8L60.4 401.2L60.2 401.6L59.9 401.8L59.6 401.9L59.4 402.1L58.9 402.2L58.6 402.3L58.1 402.5L57.7 402.6L57.4 402.6L56.9 402.7L56.4 402.8L56.1 402.8L55.6 402.9L55.1 402.9L54.6 402.9L54.1 403.0L53.6 403.0L53.2 403.1L52.9 403.1L52.4 403.1L51.9 403.2L51.4 403.2L51.1 403.3L50.6 403.4L50.1 403.5L49.9 403.6L49.4 403.8L49.1 403.9L48.9 404.1L48.4 404.3L48.1 404.5L47.9 404.7L47.6 404.8L47.4 405.1L47.0 405.3L46.7 405.6L46.4 405.7L46.1 405.9L45.9 406.1L45.5 406.3L45.1 406.5L44.9 406.6L44.6 406.8L44.1 407.0L43.9 407.1L43.4 407.3L43.1 407.4L42.6 407.5L42.4 407.6L41.9 407.7L41.4 407.8L41.1 407.8Z" fill="#dadada" stroke="#666" stroke-width="0.4"/>
<path d="M40.9 406.1L40.4 406.1L39.9 406.2L39.4 406.2L38.9 406.2L38.4 406.1L37.9 406.1L37.6 406.0L37.1 405.9L36.8 405.8L36.4 405.7L36.1 405.6L35.6 405.4L35.4 405.2L35.0 405.1L34.6 404.8L34.4 404.7L34.1 404.5L33.9 404.3L33.6 404.1L33.4 403.8L33.1 403.5L32.9 403.2L32.6 402.9L32.4 402.6L32.3 402.3L32.1 402.0L32.0 401.6L31.9 401.2L31.8 400.8L31.8 400.3L31.7 399.8L31.8 399.3L31.9 398.8L32.0 398.6L32.1 398.1L32.3 397.8L32.4 397.5L32.6 397.1L32.9 396.8L33.1 396.6L33.3 396.3L33.5 396.1L33.8 395.8L34.1 395.6L34.4 395.3L34.6 395.2L34.9 395.0L35.3 394.8L35.6 394.6L35.9 394.5L36.4 394.3L36.6 394.3L37.1 394.1L37.4 394.1L37.9 394.0L38.4 393.9L38.9 393.8L39.4 393.8L39.9 393.8L40.4 393.9L40.9 393.9L41.4 394.0L41.6 394.1L42.1 394.2L42.5 394.3L42.9 394.4L43.2 394.6L43.6 394.8L43.9 394.9L44.1 395.1L44.5 395.3L44.9 395.6L45.1 395.8L45.4 396.0L45.6 396.2L45.9 396.5L46.1 396.7L46.4 397.0L46.6 397.3L46.9 397.6L47.1 397.8L47.3 398.1L47.5 398.3L47.8 398.6L48.1 398.8L48.4 399.1L48.6 399.2L48.9 399.4L49.2 399.6L49.6 399.7L49.9 399.8L50.4 400.0L50.7 400.1L51.1 400.1L51.6 400.2L52.1 400.2L52.6 400.3L53.1 400.3L53.6 400.3L53.9 400.3L54.4 400.4L54.9 400.4L55.4 400.5L55.6 400.6L56.0 400.8L55.9 401.3L55.6 401.4L55.1 401.5L54.9 401.6L54.4 401.6L53.9 401.6L53.4 401.6L52.9 401.7L52.4 401.7L51.9 401.7L51.4 401.7L50.9 401.7L50.5 401.8L50.1 401.9L49.6 402.0L49.4 402.1L48.9 402.2L48.6 402.3L48.1 402.5L47.9 402.6L47.6 402.8L47.2 403.1L46.9 403.2L46.6 403.4L46.4 403.6L46.0 403.8L45.7 404.1L45.4 404.2L45.1 404.4L44.9 404.6L44.5 404.8L44.1 405.0L43.9 405.1L43.5 405.3L43.1 405.5L42.9 405.6L42.4 405.7L42.1 405.8L41.6 405.9L41.1 406.0L40.9 406.1Z" fill="#e2e2e2" stroke="#777" stroke-width="0.35"/>
<path d="M39.9 404.8L39.4 404.8L38.9 404.8L38.6 404.8L38.1 404.7L37.6 404.6L37.4 404.5L36.9 404.4L36.6 404.3L36.2 404.1L35.9 403.9L35.6 403.7L35.4 403.5L35.1 403.3L34.8 403.1L34.6 402.8L34.4 402.6L34.1 402.2L33.9 401.8L33.8 401.6L33.6 401.2L33.5 400.8L33.5 400.3L33.5 399.8L33.5 399.3L33.6 398.8L33.7 398.6L33.9 398.2L34.1 397.8L34.3 397.6L34.5 397.3L34.7 397.1L35.0 396.8L35.3 396.6L35.6 396.3L35.9 396.1L36.1 396.0L36.5 395.8L36.9 395.7L37.2 395.6L37.6 395.4L38.1 395.3L38.4 395.3L38.9 395.2L39.4 395.2L39.9 395.2L40.4 395.2L40.8 395.3L41.1 395.4L41.6 395.5L41.9 395.6L42.4 395.8L42.6 395.9L43.0 396.1L43.4 396.3L43.6 396.5L43.9 396.7L44.1 396.9L44.4 397.1L44.6 397.4L44.9 397.6L45.1 397.9L45.4 398.2L45.6 398.6L45.8 398.8L46.0 399.1L46.2 399.3L46.4 399.7L46.6 400.1L46.7 400.3L46.8 400.8L46.6 401.1L46.4 401.5L46.1 401.8L45.9 402.0L45.6 402.2L45.4 402.4L45.1 402.6L44.9 402.8L44.6 403.1L44.2 403.3L43.9 403.5L43.6 403.7L43.4 403.8L42.9 404.1L42.6 404.2L42.3 404.3L41.9 404.4L41.6 404.6L41.1 404.7L40.6 404.7L40.1 404.8L39.9 404.8Z" fill="#eaeaea" stroke="#888" stroke-width="0.35"/>
<path d="M40.6 403.3L40.1 403.4L39.6 403.4L39.1 403.4L38.6 403.4L38.4 403.3L37.9 403.2L37.6 403.1L37.1 402.9L36.9 402.7L36.6 402.5L36.3 402.3L36.1 402.1L35.9 401.8L35.6 401.5L35.4 401.1L35.3 400.8L35.2 400.3L35.2 399.8L35.3 399.3L35.4 399.0L35.6 398.6L35.8 398.3L36.0 398.1L36.2 397.8L36.5 397.6L36.9 397.3L37.1 397.2L37.4 397.0L37.9 396.8L38.1 396.8L38.6 396.7L39.1 396.6L39.6 396.6L40.1 396.6L40.6 396.7L41.0 396.8L41.4 396.9L41.7 397.1L42.1 397.3L42.4 397.5L42.6 397.6L42.9 397.8L43.1 398.1L43.4 398.3L43.6 398.7L43.9 399.0L44.0 399.3L44.2 399.6L44.3 400.1L44.3 400.6L44.2 401.1L44.0 401.3L43.8 401.6L43.6 401.8L43.3 402.1L43.0 402.3L42.7 402.6L42.4 402.7L42.1 402.8L41.6 403.0L41.4 403.1L40.9 403.3L40.6 403.3Z" fill="#f3f3f3" stroke="#999" stroke-width="0.3"/>
<path d="M40.6 401.9L40.1 402.0L39.6 402.0L39.1 402.0L38.6 401.9L38.4 401.8L38.0 401.6L37.6 401.3L37.4 401.1L37.3 400.8L37.1 400.6L37.0 400.1L37.1 399.6L37.2 399.3L37.4 399.0L37.6 398.7L37.9 398.5L38.3 398.3L38.6 398.2L39.1 398.1L39.4 398.0L39.8 398.1L40.1 398.1L40.6 398.2L40.9 398.3L41.3 398.6L41.6 398.8L41.8 399.1L42.0 399.3L42.1 399.6L42.3 400.1L42.2 400.6L42.1 400.8L41.9 401.1L41.6 401.3L41.3 401.6L40.9 401.8L40.6 401.9Z" fill="#fdfdfd" stroke="#bbb" stroke-width="0.3"/>
</g>
<rect x="22.4" y="341.3" width="74.19999999999999" height="74.09999999999997" fill="none" stroke="#222" stroke-width="0.9"/>
<path d="M23.5 386.5V358.1H83.1V386.5H23.5M51 358.1V386.5" fill="none" stroke="#333" stroke-width="0.8"/>
<path d="M20.4 411.7h2M20.4 408.0h2M20.4 404.3h2M20.4 394.7h2M20.4 385.8h2M20.4 376.9h2M20.4 366.5h2M20.4 357.6h2M20.4 348.7h2M29.8 415.4v1.6M37.2 415.4v1.6M44.7 415.4v1.6M55.8 415.4v1.6M66.9 415.4v1.6M78.0 415.4v1.6M89.2 415.4v1.6" stroke="#333" stroke-width="0.6" fill="none"/>
<clipPath id="e2"><rect x="102.5" y="341.6" width="73.1" height="73.59999999999997"/></clipPath>
<g clip-path="url(#e2)">
<path d="M120.2 413.2h0M120.2 388.1h0M141.4 388.8h0M150.5 392.1h0M139.2 407.4h0M106.1 386.6h0M138.2 392.0h0M143.9 392.5h0M134.2 389.7h0M105.3 405.6h0M149.4 405.8h0M132.1 409.4h0M147.5 393.9h0M131.6 385.0h0M135.3 410.9h0M155.6 406.8h0M159.9 402.4h0M105.8 409.8h0M153.4 404.7h0M124.1 411.9h0M119.0 389.6h0M105.6 392.0h0M110.5 385.1h0M105.8 412.1h0M112.6 391.1h0M155.0 403.0h0M136.5 409.9h0M149.2 400.1h0M118.1 383.6h0M139.3 393.0h0M119.7 384.0h0M114.4 381.7h0M111.6 389.5h0M131.5 385.8h0M111.9 387.2h0M121.7 386.4h0M119.3 383.0h0M119.0 411.3h0M122.1 381.3h0M116.2 390.4h0M141.3 410.4h0M126.0 412.5h0M127.3 386.5h0M112.5 382.9h0M148.6 394.0h0M110.7 379.4h0M107.5 411.9h0M136.2 408.5h0M146.1 393.6h0M155.2 397.7h0M151.7 404.3h0M138.8 407.5h0M150.6 401.1h0M145.4 396.2h0M139.2 392.3h0M140.3 391.3h0M137.9 409.2h0M105.4 409.3h0M130.4 410.5h0M150.5 403.6h0M105.2 387.6h0M129.4 412.9h0M131.3 410.7h0M122.3 383.2h0M133.4 408.3h0M131.6 413.3h0M127.7 387.1h0M126.7 387.0h0M108.4 412.1h0M142.8 410.1h0M104.2 394.2h0M104.0 398.7h0M106.8 392.5h0M134.9 389.9h0M124.6 389.5h0M145.3 394.7h0M103.1 405.1h0M136.7 413.4h0M111.4 386.6h0M114.2 389.2h0M122.4 382.7h0M129.2 387.6h0M103.0 397.6h0M151.8 395.1h0M104.9 390.4h0M130.2 411.6h0M116.7 386.9h0M109.3 390.9h0M105.5 387.2h0M138.8 390.8h0M134.1 408.8h0M117.4 387.5h0M129.8 413.2h0M133.6 411.8h0M118.3 382.8h0M128.6 389.2h0M130.5 409.6h0M117.6 389.6h0M140.4 410.6h0M127.4 379.8h0M114.3 380.8h0M136.0 408.8h0M156.3 399.8h0M122.5 389.7h0M113.8 390.9h0M143.1 408.9h0M121.6 389.3h0M108.5 408.3h0M136.0 387.6h0M117.3 412.3h0M142.7 411.3h0M148.2 400.1h0M154.1 396.7h0M144.5 404.7h0M104.1 410.1h0M147.1 395.4h0M147.1 395.2h0M139.9 392.3h0M124.9 413.5h0M124.5 411.9h0M141.9 394.9h0M141.6 406.0h0M156.5 397.8h0M130.1 385.2h0M108.7 391.8h0M119.2 389.7h0M153.2 405.5h0M120.3 390.4h0M141.0 383.8h0M106.3 394.8h0M145.6 406.9h0M124.5 410.0h0M144.3 395.9h0M141.5 389.5h0M131.4 383.0h0M148.0 398.8h0M117.7 386.3h0M112.6 391.3h0M144.9 392.5h0M106.0 390.8h0M143.6 405.4h0M135.8 387.3h0M107.8 390.6h0M152.8 407.0h0M124.6 411.3h0M112.9 387.4h0M119.8 383.8h0M136.9 390.2h0M133.6 414.5h0M109.7 409.3h0M153.4 395.6h0M147.0 393.0h0M106.9 406.7h0M107.9 408.6h0M114.2 413.4h0M105.4 390.4h0M147.5 392.8h0M114.0 382.5h0M132.2 391.1h0M151.1 403.6h0M134.9 390.4h0M154.7 399.0h0M135.8 408.1h0M107.7 383.8h0M147.2 413.9h0M148.6 402.0h0M146.2 408.2h0M128.4 411.8h0M118.7 389.9h0M114.3 383.0h0M106.9 392.5h0M105.9 407.4h0M134.9 410.1h0M141.4 386.6h0M138.0 412.9h0M143.2 388.4h0M152.2 401.4h0M133.3 387.2h0M138.3 410.8h0M131.8 385.3h0M136.4 408.7h0M147.2 391.9h0M126.1 410.2h0M147.6 399.5h0M111.7 413.1h0M132.9 409.4h0M133.1 390.4h0M125.3 387.7h0M128.1 387.7h0M119.7 388.9h0M114.9 388.7h0M119.7 382.5h0M149.7 390.7h0M113.9 378.3h0M145.4 394.7h0M131.1 387.8h0M113.8 387.2h0M123.8 388.5h0M141.9 386.1h0M106.2 413.7h0M151.6 393.9h0M139.0 408.0h0M116.0 380.5h0M127.6 390.5h0M109.0 412.9h0M154.5 408.4h0M131.6 410.4h0M135.3 390.9h0M139.2 412.3h0M147.1 386.3h0M106.1 385.1h0M125.2 384.8h0M115.6 389.1h0M119.8 411.7h0M110.2 390.3h0M107.8 413.0h0M116.4 411.6h0M150.5 404.9h0M145.2 393.6h0M139.7 411.8h0M149.0 404.4h0M108.0 384.1h0M121.5 412.1h0M147.6 395.0h0M107.3 384.2h0M149.1 394.1h0M138.0 412.8h0M114.3 385.4h0M127.5 411.7h0M149.3 404.9h0M110.3 386.7h0M153.5 404.7h0M143.5 406.0h0M148.6 397.9h0M113.3 380.6h0M131.7 388.8h0M118.1 413.1h0M122.5 413.3h0M150.5 392.2h0M112.6 412.4h0M131.7 412.3h0M125.8 414.5h0M105.4 391.9h0M107.0 391.5h0M143.2 392.6h0M120.9 387.5h0M142.3 408.6h0M133.7 391.6h0M109.7 392.2h0M143.6 408.0h0M111.5 388.1h0M104.4 406.9h0M150.6 393.0h0M150.8 403.0h0M140.8 390.8h0M111.4 389.4h0M150.6 405.1h0M150.2 391.8h0M132.9 411.1h0M141.7 388.8h0M122.2 388.5h0M146.4 392.9h0M116.2 386.9h0M120.0 410.6h0M119.6 388.7h0M152.2 412.9h0M119.5 389.1h0M124.7 413.0h0M149.8 399.4h0M149.0 409.6h0M142.0 412.2h0M153.7 397.6h0M103.7 412.2h0M127.8 388.7h0M130.0 411.4h0M125.1 414.0h0M145.4 395.4h0M132.8 392.0h0M120.8 413.5h0M147.3 398.0h0M111.8 411.4h0M132.6 409.6h0M146.0 412.4h0M137.1 414.3h0M115.3 410.7h0M129.3 411.5h0M120.3 414.6h0M104.2 391.9h0M109.2 385.8h0M155.1 404.3h0M150.6 390.8h0M139.8 409.8h0M107.9 411.2h0M146.8 390.8h0M156.9 393.2h0M143.3 384.2h0M149.1 406.9h0M109.3 388.7h0M134.9 390.5h0M116.1 386.7h0M113.0 383.9h0M138.1 407.1h0M109.6 382.4h0M133.7 387.5h0M107.2 393.0h0M151.8 397.3h0M137.8 412.1h0M116.8 390.2h0M137.3 407.5h0M120.3 390.5h0M141.2 406.8h0M148.9 408.7h0M151.9 400.7h0M131.2 391.1h0M104.9 396.0h0M121.8 387.8h0M108.6 412.1h0M147.2 402.2h0M106.2 412.1h0M120.4 410.8h0M123.4 411.6h0M144.6 395.2h0M115.5 390.4h0M141.0 393.0h0M146.1 405.1h0M153.2 407.5h0M149.3 399.9h0M148.4 396.2h0M124.1 390.3h0M153.5 412.8h0M144.0 411.2h0M108.7 392.6h0M118.9 411.0h0M146.8 413.7h0M145.5 397.6h0M150.3 400.5h0M139.3 393.6h0M140.3 394.2h0M112.3 411.8h0M116.0 411.1h0M114.2 385.7h0M152.0 398.7h0M118.4 412.3h0M107.0 386.2h0M103.8 398.9h0M154.8 396.7h0M151.1 390.9h0M110.3 412.5h0M148.7 404.1h0M136.7 385.1h0M151.3 403.9h0M144.4 410.1h0M118.9 412.9h0M112.2 412.5h0M105.8 408.0h0M127.8 411.9h0M107.0 384.9h0M142.0 391.2h0M154.5 394.1h0M131.3 388.4h0M145.9 388.5h0M104.1 406.7h0M141.2 386.9h0M151.5 405.4h0M119.9 389.4h0M125.2 390.4h0M149.4 405.8h0M114.8 411.2h0M119.8 388.2h0M139.3 411.2h0M135.8 389.5h0M149.9 397.5h0M111.8 412.4h0M110.9 390.3h0M125.4 385.6h0M109.2 411.2h0M129.1 386.8h0M135.8 390.0h0M147.4 397.2h0M119.8 389.3h0M106.0 392.0h0M112.8 383.9h0M107.9 410.0h0M132.9 408.9h0M138.5 409.9h0M157.5 398.5h0M144.9 392.3h0M154.7 393.7h0M103.0 408.4h0M122.8 387.4h0M155.5 403.7h0M103.4 387.1h0M137.4 392.3h0M139.8 409.8h0M105.8 387.9h0M146.6 406.9h0M147.7 405.7h0M132.4 381.0h0M145.2 392.8h0M125.2 388.3h0M148.1 395.8h0M110.0 385.0h0M127.4 390.6h0M106.4 390.4h0M103.7 395.3h0M137.7 390.3h0M150.5 407.2h0M106.4 408.3h0M136.3 389.9h0M107.7 413.7h0M128.1 385.7h0M108.3 408.9h0M104.6 392.4h0M146.5 386.7h0M103.8 386.5h0M114.4 413.3h0M120.2 414.2h0M154.9 404.8h0M156.1 408.4h0M104.2 388.6h0M151.4 394.2h0M137.7 411.7h0M149.4 389.4h0M109.8 388.0h0M148.2 403.5h0M134.6 409.6h0M121.2 383.9h0M147.3 404.8h0M104.6 405.4h0M156.2 401.6h0M139.9 410.3h0M114.6 410.7h0M148.7 391.5h0M111.9 387.5h0M136.4 412.5h0M119.2 390.1h0M133.8 411.1h0M109.9 386.3h0M146.0 393.8h0M128.7 391.1h0M150.5 402.0h0M149.0 396.9h0M115.1 411.4h0M123.9 389.1h0M104.5 397.6h0M146.3 393.1h0M145.9 407.9h0M123.3 411.1h0M124.6 413.3h0M114.8 385.3h0M145.2 396.8h0M120.0 386.2h0M149.9 393.0h0M103.3 410.4h0M156.2 401.4h0M128.1 391.1h0M138.0 385.3h0M128.0 412.4h0M156.0 409.3h0M104.6 403.8h0M151.6 401.7h0M141.7 414.4h0M150.1 397.0h0M141.7 393.3h0M149.8 407.9h0M153.5 397.9h0M105.3 392.2h0M140.6 392.0h0M128.5 387.2h0M132.6 413.8h0M148.8 401.8h0M112.2 413.2h0M151.2 410.8h0M138.4 413.5h0M150.4 400.8h0M122.2 390.1h0M104.8 404.8h0M135.7 413.0h0M150.1 406.2h0M112.2 381.2h0M125.6 388.1h0M121.5 413.8h0M112.3 410.7h0M122.4 382.4h0M120.1 388.2h0M133.0 409.4h0M119.0 388.5h0M151.5 397.5h0M113.3 409.9h0M157.3 400.1h0M103.6 404.5h0M119.5 389.8h0M132.3 384.3h0M149.4 411.3h0M110.1 381.4h0M126.0 386.7h0M104.3 406.2h0M120.1 387.4h0M114.2 410.9h0M149.9 393.2h0M144.4 390.5h0M133.4 388.1h0M103.9 411.1h0M107.6 385.8h0M154.5 400.9h0M144.3 393.0h0M110.1 412.5h0M137.0 386.1h0M142.5 407.3h0M133.4 410.3h0M129.0 410.1h0M110.3 410.5h0M144.9 389.6h0M146.6 396.2h0M148.4 407.0h0M108.6 408.1h0M150.6 377.6h0M141.0 374.4h0M146.6 380.8h0M138.0 385.6h0M142.3 373.4h0M148.8 376.2h0M136.0 394.5h0M145.7 379.7h0M125.1 370.4h0M150.9 375.1h0M138.1 373.5h0M141.4 380.3h0M141.3 379.8h0M135.2 374.2h0M134.6 389.1h0M145.6 378.5h0M146.0 375.3h0M135.8 370.7h0M145.8 372.6h0M145.9 370.5h0M139.4 376.9h0M132.9 372.7h0M141.7 382.7h0M144.6 374.5h0M124.7 382.5h0M121.9 382.0h0M123.2 382.7h0M125.2 380.6h0M133.9 383.4h0M111.2 383.9h0M124.8 384.9h0M121.2 384.3h0M126.5 387.6h0M118.9 385.6h0M127.4 385.5h0M107.7 384.7h0M110.0 385.1h0M113.4 383.6h0M117.4 384.2h0M118.4 387.8h0" stroke="#000" stroke-width="0.84" stroke-linecap="square" fill="none"/>
<path d="M122.5 411.1L122.0 411.1L121.5 411.2L121.0 411.2L120.5 411.2L120.0 411.3L119.5 411.3L119.0 411.3L118.5 411.3L118.0 411.3L117.5 411.3L117.0 411.2L116.5 411.2L116.0 411.1L115.6 411.1L115.2 411.1L114.8 411.0L114.2 410.9L113.9 410.9L113.5 410.8L113.0 410.7L112.7 410.6L112.2 410.5L111.8 410.4L111.5 410.3L111.0 410.1L110.8 410.0L110.3 409.9L110.0 409.7L109.7 409.6L109.2 409.4L109.0 409.3L108.6 409.1L108.2 408.9L108.0 408.8L107.7 408.6L107.2 408.4L107.0 408.2L106.8 408.0L106.5 407.8L106.2 407.6L105.9 407.4L105.6 407.1L105.3 406.9L105.0 406.6L104.8 406.4L104.5 406.1L104.3 405.9L104.1 405.6L103.9 405.4L103.7 405.1L103.5 404.7L103.3 404.4L103.1 404.1L103.0 403.8L102.8 403.4L102.7 403.1L102.5 402.6L102.5 402.4L102.5 401.9L102.5 401.4L102.5 400.9L102.5 400.4L102.5 399.9L102.5 399.4L102.5 398.9L102.5 398.5L102.6 398.1L102.8 397.8L102.9 397.4L103.0 397.1L103.2 396.7L103.4 396.4L103.6 396.1L103.8 395.9L104.0 395.5L104.2 395.2L104.5 394.9L104.8 394.7L105.0 394.4L105.2 394.2L105.5 393.9L105.8 393.7L106.0 393.5L106.2 393.3L106.6 393.1L106.9 392.9L107.2 392.6L107.5 392.5L107.8 392.3L108.2 392.1L108.5 391.9L108.8 391.8L109.2 391.6L109.5 391.4L109.8 391.3L110.2 391.1L110.5 391.0L111.0 390.9L111.2 390.8L111.8 390.6L112.0 390.6L112.5 390.4L112.8 390.4L113.2 390.2L113.8 390.1L114.0 390.1L114.5 390.0L115.0 389.9L115.4 389.9L115.8 389.8L116.2 389.7L116.8 389.7L117.2 389.7L117.8 389.6L118.2 389.6L118.5 389.6L119.0 389.6L119.5 389.6L120.0 389.6L120.5 389.6L120.9 389.6L121.2 389.6L121.8 389.6L122.2 389.7L122.8 389.7L123.2 389.7L123.8 389.8L124.2 389.8L124.6 389.9L125.0 389.9L125.5 389.9L126.0 390.0L126.5 390.1L126.8 390.1L127.2 390.2L127.8 390.2L128.2 390.3L128.5 390.4L129.0 390.4L129.5 390.5L130.0 390.6L130.2 390.6L130.8 390.7L131.2 390.8L131.5 390.9L132.0 391.0L132.5 391.1L132.8 391.1L133.2 391.2L133.7 391.4L134.0 391.4L134.5 391.5L134.8 391.6L135.2 391.7L135.6 391.9L136.0 392.0L136.5 392.1L136.8 392.2L137.2 392.3L137.5 392.4L138.0 392.6L138.2 392.7L138.6 392.9L139.0 393.0L139.3 393.1L139.8 393.3L140.0 393.4L140.4 393.6L140.8 393.8L141.0 393.9L141.4 394.1L141.8 394.3L142.0 394.4L142.3 394.6L142.7 394.9L143.0 395.0L143.2 395.2L143.5 395.4L143.8 395.6L144.2 395.9L144.5 396.1L144.8 396.3L145.0 396.5L145.2 396.7L145.5 396.9L145.8 397.1L146.0 397.4L146.3 397.6L146.6 397.9L146.8 398.1L147.1 398.4L147.3 398.6L147.5 398.9L147.8 399.2L148.0 399.5L148.2 399.9L148.3 400.1L148.5 400.4L148.7 400.9L148.8 401.1L148.8 401.6L148.9 402.1L148.8 402.6L148.7 402.9L148.5 403.3L148.3 403.6L148.1 403.9L147.9 404.1L147.6 404.4L147.2 404.6L147.0 404.7L146.8 404.9L146.3 405.1L146.0 405.3L145.8 405.4L145.2 405.6L145.0 405.7L144.5 405.8L144.2 405.9L143.8 406.1L143.5 406.2L143.0 406.3L142.8 406.4L142.2 406.5L142.0 406.6L141.5 406.8L141.2 406.9L140.8 407.0L140.4 407.1L140.0 407.2L139.5 407.4L139.2 407.4L138.8 407.6L138.5 407.7L138.0 407.8L137.8 407.9L137.2 408.0L137.0 408.1L136.5 408.3L136.2 408.4L135.8 408.5L135.3 408.6L135.0 408.7L134.5 408.8L134.2 408.9L133.8 409.0L133.4 409.1L133.0 409.2L132.5 409.3L132.2 409.4L131.8 409.5L131.3 409.6L131.0 409.7L130.5 409.8L130.2 409.9L129.8 409.9L129.2 410.1L129.0 410.1L128.5 410.2L128.0 410.3L127.7 410.4L127.2 410.4L126.8 410.5L126.3 410.6L126.0 410.6L125.5 410.7L125.0 410.8L124.6 410.9L124.2 410.9L123.8 411.0L123.2 411.0L122.8 411.1L122.5 411.1Z" fill="#000"/>
<path d="M119.5 410.4L119.0 410.4L118.5 410.5L118.0 410.6L117.5 410.6L117.0 410.6L116.5 410.6L116.0 410.6L115.5 410.5L115.0 410.5L114.5 410.4L114.2 410.4L113.8 410.3L113.2 410.1L113.0 410.1L112.5 409.9L112.2 409.8L111.8 409.6L111.5 409.5L111.2 409.4L110.8 409.1L110.5 409.0L110.2 408.9L109.8 408.6L109.5 408.4L109.2 408.2L109.0 408.0L108.8 407.8L108.5 407.5L108.2 407.3L108.0 407.0L107.8 406.7L107.5 406.4L107.3 406.1L107.1 405.9L107.0 405.6L106.8 405.2L106.6 404.9L106.5 404.6L106.3 404.1L106.2 403.9L106.1 403.4L106.0 402.9L106.0 402.6L106.0 402.1L105.9 401.6L106.0 401.1L106.0 400.8L106.1 400.4L106.2 399.9L106.2 399.5L106.4 399.1L106.5 398.7L106.7 398.4L106.8 398.1L107.0 397.6L107.2 397.4L107.3 397.1L107.5 396.8L107.8 396.4L108.0 396.1L108.2 395.9L108.4 395.6L108.6 395.4L108.9 395.1L109.1 394.9L109.4 394.6L109.7 394.4L110.0 394.1L110.2 393.9L110.5 393.7L110.8 393.6L111.1 393.4L111.5 393.1L111.8 392.9L112.0 392.8L112.4 392.6L112.8 392.4L113.0 392.3L113.5 392.1L113.8 392.0L114.1 391.9L114.5 391.7L114.9 391.6L115.2 391.5L115.8 391.4L116.0 391.3L116.5 391.2L117.0 391.2L117.4 391.1L117.8 391.1L118.2 391.0L118.8 391.0L119.2 391.0L119.8 391.0L120.2 391.0L120.8 391.1L121.0 391.1L121.5 391.2L122.0 391.3L122.3 391.4L122.8 391.5L123.2 391.6L123.5 391.7L123.9 391.9L124.2 392.0L124.5 392.1L125.0 392.3L125.2 392.5L125.5 392.6L125.9 392.9L126.2 393.1L126.5 393.2L126.8 393.4L127.0 393.6L127.3 393.9L127.5 394.1L127.8 394.4L128.0 394.6L128.2 394.9L128.5 395.2L128.8 395.6L128.9 395.9L129.1 396.1L129.2 396.4L129.4 396.9L129.5 397.1L129.7 397.6L129.8 397.9L129.9 398.4L130.0 398.9L130.0 399.1L130.0 399.6L130.1 400.1L130.0 400.6L130.0 400.9L129.9 401.4L129.8 401.9L129.7 402.1L129.6 402.6L129.5 402.9L129.3 403.4L129.2 403.6L129.0 404.0L128.8 404.4L128.6 404.6L128.5 404.9L128.2 405.2L128.0 405.5L127.8 405.8L127.5 406.1L127.3 406.4L127.0 406.6L126.8 406.8L126.5 407.1L126.2 407.3L126.0 407.5L125.8 407.7L125.5 407.9L125.2 408.1L124.8 408.4L124.5 408.5L124.2 408.7L123.9 408.9L123.5 409.1L123.2 409.2L122.9 409.4L122.5 409.5L122.2 409.6L121.8 409.8L121.5 409.9L121.0 410.0L120.7 410.1L120.2 410.2L119.8 410.3L119.5 410.4Z" fill="#d2d2d2" stroke="#000" stroke-width="1.0"/>
<path d="M118.5 408.1L118.0 408.2L117.5 408.2L117.0 408.2L116.5 408.2L116.0 408.1L115.8 408.1L115.2 408.0L114.8 407.9L114.5 407.8L114.0 407.7L113.7 407.6L113.2 407.4L113.0 407.3L112.6 407.1L112.2 406.9L112.0 406.8L111.7 406.6L111.4 406.4L111.1 406.1L110.8 405.9L110.6 405.6L110.4 405.4L110.2 405.1L110.0 404.9L109.8 404.5L109.5 404.1L109.4 403.9L109.2 403.4L109.1 403.1L109.0 402.6L109.0 402.4L108.9 401.9L108.9 401.4L109.0 400.9L109.0 400.5L109.1 400.1L109.2 399.6L109.3 399.4L109.5 398.9L109.6 398.6L109.8 398.3L110.0 397.9L110.2 397.6L110.4 397.4L110.6 397.1L110.8 396.9L111.0 396.6L111.3 396.4L111.6 396.1L111.9 395.9L112.2 395.6L112.5 395.4L112.8 395.2L113.0 395.0L113.3 394.9L113.8 394.6L114.0 394.5L114.3 394.4L114.8 394.2L115.0 394.1L115.5 393.9L115.8 393.8L116.2 393.7L116.8 393.6L117.0 393.6L117.5 393.5L118.0 393.4L118.5 393.4L119.0 393.4L119.5 393.4L120.0 393.5L120.5 393.5L120.8 393.6L121.2 393.7L121.8 393.8L122.0 393.9L122.5 394.1L122.8 394.2L123.1 394.4L123.5 394.5L123.8 394.7L124.0 394.9L124.4 395.1L124.7 395.4L125.0 395.6L125.2 395.8L125.5 396.1L125.7 396.4L125.9 396.6L126.1 396.9L126.2 397.1L126.5 397.6L126.6 397.9L126.8 398.2L126.9 398.6L127.0 399.1L127.0 399.4L127.1 399.9L127.1 400.4L127.0 400.9L127.0 401.1L126.9 401.6L126.8 402.1L126.7 402.4L126.5 402.7L126.3 403.1L126.2 403.4L126.0 403.7L125.8 404.0L125.5 404.4L125.3 404.6L125.1 404.9L124.9 405.1L124.6 405.4L124.3 405.6L124.0 405.9L123.8 406.1L123.5 406.2L123.2 406.4L122.9 406.6L122.5 406.8L122.2 407.0L122.0 407.1L121.5 407.3L121.2 407.4L120.8 407.6L120.5 407.7L120.0 407.8L119.8 407.9L119.2 408.0L118.8 408.1L118.5 408.1Z" fill="#dadada" stroke="#666" stroke-width="0.4"/>
<path d="M119.2 406.4L118.8 406.5L118.2 406.5L117.8 406.6L117.2 406.6L116.8 406.5L116.2 406.5L115.8 406.4L115.5 406.4L115.0 406.2L114.6 406.1L114.2 406.0L114.0 405.8L113.5 405.6L113.2 405.4L113.0 405.2L112.8 405.1L112.5 404.8L112.2 404.6L112.0 404.3L111.8 404.0L111.5 403.6L111.4 403.4L111.2 403.1L111.1 402.6L111.0 402.2L110.9 401.9L110.9 401.4L110.9 400.9L111.0 400.4L111.1 400.1L111.2 399.6L111.3 399.4L111.5 399.0L111.7 398.6L111.9 398.4L112.1 398.1L112.3 397.9L112.5 397.6L112.8 397.3L113.0 397.1L113.3 396.9L113.6 396.6L114.0 396.4L114.2 396.2L114.5 396.1L114.9 395.9L115.2 395.7L115.5 395.6L116.0 395.4L116.3 395.4L116.8 395.2L117.2 395.1L117.6 395.1L118.0 395.1L118.5 395.0L119.0 395.0L119.5 395.1L119.8 395.1L120.2 395.2L120.8 395.3L121.0 395.4L121.5 395.5L121.8 395.6L122.2 395.9L122.5 396.0L122.8 396.2L123.0 396.4L123.3 396.6L123.6 396.9L123.8 397.1L124.1 397.4L124.2 397.6L124.5 398.0L124.7 398.4L124.8 398.6L124.9 399.1L125.0 399.4L125.1 399.9L125.1 400.4L125.1 400.9L125.0 401.2L124.9 401.6L124.8 402.0L124.6 402.4L124.5 402.6L124.2 403.0L124.0 403.4L123.9 403.6L123.6 403.9L123.4 404.1L123.2 404.4L122.9 404.6L122.6 404.9L122.2 405.1L122.0 405.2L121.8 405.4L121.4 405.6L121.0 405.8L120.8 405.9L120.2 406.1L120.0 406.2L119.5 406.3L119.2 406.4Z" fill="#e2e2e2" stroke="#777" stroke-width="0.35"/>
<path d="M119.0 405.1L118.5 405.2L118.0 405.3L117.5 405.3L117.0 405.3L116.5 405.2L116.0 405.1L115.8 405.1L115.2 404.9L115.0 404.8L114.6 404.6L114.2 404.4L114.0 404.2L113.8 404.0L113.5 403.7L113.2 403.4L113.0 403.1L112.9 402.9L112.7 402.6L112.6 402.1L112.5 401.7L112.5 401.4L112.5 400.9L112.5 400.6L112.6 400.1L112.8 399.8L113.0 399.4L113.1 399.1L113.3 398.9L113.5 398.5L113.8 398.3L114.0 398.0L114.2 397.8L114.5 397.6L114.9 397.4L115.2 397.1L115.5 397.0L115.8 396.9L116.2 396.7L116.5 396.6L117.0 396.5L117.5 396.4L117.8 396.3L118.2 396.3L118.8 396.3L119.2 396.3L119.5 396.4L120.0 396.5L120.4 396.6L120.8 396.7L121.1 396.9L121.5 397.1L121.8 397.2L122.0 397.4L122.2 397.6L122.5 397.9L122.8 398.2L123.0 398.5L123.2 398.9L123.3 399.1L123.4 399.6L123.5 399.9L123.5 400.4L123.5 400.8L123.5 401.1L123.3 401.6L123.2 401.9L123.0 402.3L122.8 402.6L122.7 402.9L122.5 403.1L122.2 403.4L122.0 403.6L121.7 403.9L121.4 404.1L121.0 404.3L120.8 404.5L120.5 404.6L120.0 404.8L119.8 404.9L119.2 405.1L119.0 405.1Z" fill="#eaeaea" stroke="#888" stroke-width="0.35"/>
<path d="M118.5 403.9L118.0 404.0L117.5 404.0L117.0 403.9L116.6 403.9L116.2 403.8L115.8 403.6L115.5 403.4L115.2 403.3L115.0 403.1L114.8 402.8L114.5 402.5L114.3 402.1L114.2 401.9L114.1 401.4L114.1 400.9L114.2 400.4L114.3 400.1L114.5 399.7L114.7 399.4L114.9 399.1L115.1 398.9L115.4 398.6L115.8 398.4L116.0 398.2L116.3 398.1L116.8 397.9L117.0 397.8L117.5 397.7L118.0 397.6L118.5 397.6L119.0 397.7L119.5 397.8L119.8 397.9L120.2 398.0L120.5 398.2L120.8 398.4L121.1 398.6L121.3 398.9L121.5 399.1L121.7 399.6L121.8 399.9L121.9 400.4L121.9 400.9L121.8 401.4L121.7 401.6L121.5 401.9L121.2 402.3L121.0 402.6L120.8 402.8L120.5 403.0L120.2 403.2L120.0 403.4L119.5 403.6L119.2 403.7L118.8 403.8L118.5 403.9Z" fill="#f3f3f3" stroke="#999" stroke-width="0.3"/>
<path d="M118.0 402.6L117.6 402.6L117.2 402.6L116.8 402.4L116.5 402.2L116.2 402.0L116.0 401.7L115.8 401.4L115.8 400.9L115.9 400.4L116.0 400.1L116.2 399.8L116.5 399.6L116.8 399.4L117.2 399.2L117.5 399.1L118.0 399.0L118.5 399.0L119.0 399.1L119.2 399.2L119.5 399.4L119.8 399.6L120.0 399.9L120.2 400.4L120.2 400.9L120.1 401.4L119.9 401.6L119.7 401.9L119.4 402.1L119.0 402.3L118.8 402.4L118.2 402.6L118.0 402.6Z" fill="#fdfdfd" stroke="#bbb" stroke-width="0.3"/>
</g>
<rect x="102.5" y="341.6" width="73.1" height="73.59999999999997" fill="none" stroke="#222" stroke-width="0.9"/>
<path d="M103.5 387.3V358.4H162.5V387.3H103.5M130.4 358.4V387.3" fill="none" stroke="#333" stroke-width="0.8"/>
<path d="M100.5 411.5h2M100.5 407.8h2M100.5 404.2h2M100.5 394.6h2M100.5 385.8h2M100.5 376.9h2M100.5 366.6h2M100.5 357.8h2M100.5 349.0h2M109.8 415.2v1.6M117.1 415.2v1.6M124.4 415.2v1.6M135.4 415.2v1.6M146.4 415.2v1.6M157.3 415.2v1.6M168.3 415.2v1.6" stroke="#333" stroke-width="0.6" fill="none"/>
<clipPath id="e3"><rect x="181.9" y="341.6" width="73.69999999999999" height="73.59999999999997"/></clipPath>
<g clip-path="url(#e3)">
<path d="M219.1 412.8h0M216.4 407.8h0M190.9 413.5h0M223.2 412.4h0M212.7 413.1h0M234.0 405.4h0M225.8 397.3h0M190.6 390.6h0M220.4 410.6h0M194.3 413.9h0M205.4 410.3h0M230.2 394.1h0M205.0 389.3h0M219.8 393.1h0M183.4 388.6h0M202.1 384.4h0M182.6 406.7h0M205.3 386.5h0M228.2 398.7h0M226.7 403.5h0M205.0 389.7h0M196.9 386.0h0M186.0 385.5h0M183.4 407.1h0M184.5 389.8h0M197.7 388.9h0M194.2 391.5h0M189.2 410.0h0M187.7 391.6h0M204.3 390.9h0M216.7 386.7h0M211.4 391.5h0M198.3 412.4h0M184.6 413.4h0M195.5 411.7h0M182.5 394.1h0M214.4 385.4h0M227.7 413.1h0M196.0 412.7h0M220.6 408.9h0M187.7 392.3h0M216.0 408.9h0M182.8 406.7h0M194.5 381.4h0M190.6 411.1h0M231.2 403.0h0M223.8 393.0h0M206.8 387.6h0M200.1 385.4h0M190.7 387.9h0M184.7 409.7h0M235.9 402.3h0M200.4 413.2h0M229.2 404.6h0M226.8 399.1h0M204.9 390.4h0M227.3 409.1h0M206.3 387.8h0M184.7 407.8h0M201.1 385.7h0M188.2 411.3h0M199.5 388.7h0M212.4 390.7h0M187.9 391.6h0M218.0 412.8h0M222.6 412.7h0M209.5 410.4h0M216.4 408.7h0M196.4 390.4h0M219.2 385.8h0M188.7 410.0h0M192.5 390.0h0M183.0 395.0h0M224.7 393.8h0M183.8 396.6h0M223.8 413.1h0M230.6 399.7h0M227.7 410.8h0M195.0 413.5h0M211.3 390.7h0M222.4 410.5h0M204.4 410.0h0M219.1 393.6h0M187.6 386.9h0M199.2 384.7h0M192.3 414.2h0M209.7 389.8h0M185.4 409.1h0M200.9 385.8h0M236.0 405.1h0M187.9 414.2h0M192.5 412.7h0M211.9 413.5h0M226.8 399.7h0M183.0 396.5h0M228.4 412.9h0M234.0 407.5h0M199.2 410.7h0M201.8 386.9h0M220.6 388.1h0M198.0 390.2h0M202.8 382.6h0M198.0 386.5h0M188.0 386.8h0M220.4 386.0h0M226.2 409.3h0M228.4 407.3h0M222.9 409.2h0M216.7 384.5h0M223.9 388.0h0M210.8 412.5h0M206.0 391.5h0M190.0 411.7h0M201.3 389.6h0M193.3 382.5h0M209.0 385.1h0M182.8 395.6h0M219.3 392.2h0M203.4 413.1h0M198.8 412.4h0M183.6 388.7h0M194.2 411.7h0M187.5 384.0h0M193.1 410.2h0M226.6 397.4h0M203.1 389.4h0M224.6 398.2h0M229.0 390.2h0M214.0 412.9h0M228.7 407.9h0M182.6 408.7h0M231.2 412.1h0M187.3 407.8h0M182.7 395.0h0M218.1 407.5h0M210.2 392.0h0M200.8 389.2h0M209.4 392.0h0M204.7 411.4h0M211.3 409.3h0M212.0 412.1h0M207.2 383.2h0M189.2 413.1h0M221.9 391.0h0M184.5 386.8h0M185.4 408.0h0M213.8 383.3h0M207.4 410.6h0M195.4 414.2h0M193.5 411.2h0M184.1 385.6h0M207.2 410.9h0M218.3 410.1h0M186.5 413.6h0M192.0 380.7h0M210.5 388.1h0M183.6 393.9h0M233.3 398.3h0M184.2 409.4h0M229.7 401.8h0M209.8 411.5h0M229.8 400.9h0M195.7 412.0h0M202.8 389.3h0M228.2 394.5h0M187.1 409.3h0M214.0 389.3h0M207.0 410.2h0M201.5 413.5h0M224.2 405.7h0M185.4 387.8h0M212.1 390.8h0M183.3 390.8h0M224.1 397.1h0M188.4 392.0h0M201.3 412.3h0M195.5 387.5h0M184.5 406.5h0M208.3 389.6h0M183.9 407.6h0M201.6 391.0h0M185.9 394.4h0M189.6 386.1h0M191.4 413.6h0M218.7 410.5h0M185.8 391.4h0M206.0 387.0h0M211.6 412.4h0M223.0 408.9h0M197.7 386.3h0M218.0 410.7h0M183.2 403.3h0M201.7 411.5h0M230.5 407.1h0M188.4 411.1h0M190.6 389.2h0M205.2 413.0h0M218.4 407.7h0M187.9 410.1h0M224.3 400.0h0M214.3 413.1h0M227.0 410.4h0M190.1 391.5h0M189.5 390.1h0M201.5 387.8h0M217.9 410.4h0M217.6 407.8h0M232.0 395.9h0M184.6 406.7h0M190.9 390.1h0M228.8 407.6h0M208.0 391.2h0M198.5 410.8h0M218.6 409.7h0M225.1 395.0h0M184.7 409.2h0M219.1 393.0h0M189.1 409.6h0M226.3 407.5h0M188.6 390.0h0M188.8 389.9h0M229.4 400.9h0M224.7 393.3h0M231.9 400.2h0M200.3 387.7h0M213.8 414.6h0M208.3 410.9h0M199.9 383.3h0M228.3 401.3h0M220.7 395.5h0M227.3 407.8h0M230.2 406.6h0M220.2 409.0h0M182.9 382.6h0M220.4 410.8h0M218.3 388.8h0M188.5 384.1h0M214.8 390.9h0M215.5 392.7h0M228.4 395.1h0M190.3 409.5h0M227.2 400.5h0M189.4 389.8h0M212.4 413.8h0M189.4 409.0h0M187.9 409.8h0M196.1 386.2h0M185.2 387.5h0M203.0 414.6h0M227.2 409.2h0M190.5 410.1h0M190.6 412.0h0M222.4 392.7h0M182.9 398.6h0M194.8 413.3h0M218.8 407.1h0M208.1 391.1h0M194.6 386.9h0M197.8 383.3h0M193.1 390.6h0M227.7 411.4h0M191.3 383.8h0M183.8 380.2h0M199.0 386.7h0M199.8 391.0h0M224.6 413.6h0M217.8 386.3h0M182.6 410.7h0M220.1 395.0h0M208.9 414.6h0M213.8 391.5h0M219.2 392.5h0M202.0 388.7h0M182.4 406.4h0M220.8 395.3h0M227.6 396.8h0M219.0 394.6h0M186.4 393.0h0M218.8 408.5h0M227.4 398.7h0M209.6 413.2h0M182.9 408.8h0M221.4 394.5h0M222.2 406.0h0M183.5 397.1h0M183.0 406.3h0M199.3 386.4h0M194.6 389.2h0M218.7 409.4h0M221.5 395.2h0M227.5 400.2h0M230.6 395.9h0M210.3 391.1h0M185.8 407.4h0M198.4 390.1h0M194.0 411.7h0M187.2 410.5h0M211.9 392.2h0M228.4 403.9h0M198.8 390.3h0M223.5 392.1h0M190.1 411.0h0M227.1 409.4h0M213.7 389.1h0M220.5 408.4h0M225.0 391.1h0M202.0 390.8h0M225.6 401.9h0M194.3 385.5h0M210.8 414.5h0M193.5 411.2h0M189.0 391.2h0M188.4 411.3h0M220.7 386.2h0M211.1 412.1h0M202.4 390.8h0M183.1 401.7h0M186.7 407.5h0M216.4 387.5h0M196.1 412.0h0M224.3 397.3h0M182.9 385.9h0M225.4 398.0h0M201.2 390.7h0M189.4 381.7h0M193.3 386.9h0M193.1 414.3h0M201.6 391.1h0M229.4 395.8h0M202.5 412.2h0M223.6 395.7h0M188.5 388.0h0M197.9 390.0h0M225.7 406.2h0M229.5 399.5h0M228.8 412.3h0M225.3 393.7h0M183.4 404.2h0M221.2 393.3h0M211.1 413.8h0M228.9 411.6h0M235.7 405.4h0M196.9 412.4h0M202.1 413.4h0M193.5 391.1h0M193.3 388.7h0M205.0 389.3h0M215.1 389.6h0M210.1 385.3h0M187.4 386.9h0M219.8 408.2h0M183.1 391.5h0M224.5 411.2h0M195.7 414.2h0M191.8 410.1h0M195.6 387.9h0M200.1 413.2h0M193.9 387.6h0M229.9 401.0h0M202.0 414.5h0M184.3 396.6h0M186.4 411.9h0M191.4 388.4h0M203.1 391.6h0M201.2 390.8h0M208.9 387.4h0M215.6 408.8h0M226.9 401.9h0M221.2 396.1h0M186.0 386.6h0M191.4 413.7h0M187.8 414.0h0M213.4 385.1h0M184.8 392.3h0M229.0 409.3h0M204.8 410.6h0M187.1 394.4h0M199.8 382.6h0M234.9 406.8h0M190.5 390.2h0M229.0 400.9h0M192.3 383.4h0M207.6 382.0h0M202.4 411.8h0M226.7 406.9h0M195.4 387.8h0M221.8 394.7h0M183.4 390.3h0M225.5 407.3h0M193.6 412.1h0M212.5 392.3h0M192.4 411.5h0M184.0 397.9h0M207.0 412.3h0M224.8 404.9h0M211.2 390.6h0M187.4 383.4h0M194.4 385.3h0M195.7 413.7h0M185.7 408.8h0M221.6 389.5h0M227.3 405.6h0M229.0 400.4h0M213.4 411.0h0M229.1 394.0h0M235.7 399.9h0M224.2 394.1h0M202.0 389.1h0M232.6 408.1h0M229.0 385.6h0M212.5 410.9h0M191.2 386.4h0M222.8 393.6h0M220.1 391.8h0M230.1 394.0h0M183.2 407.5h0M219.4 383.4h0M233.6 400.9h0M200.1 385.0h0M204.2 388.5h0M218.4 390.3h0M231.3 395.3h0M189.9 391.0h0M200.6 384.4h0M205.5 382.1h0M194.2 385.9h0M196.7 386.4h0M216.9 390.7h0M203.8 386.1h0M208.8 387.1h0M216.4 390.4h0M203.4 414.6h0M184.9 392.1h0M212.5 409.6h0M188.5 384.3h0M225.8 407.0h0M217.7 390.2h0M199.6 411.3h0M197.7 387.7h0M228.1 404.1h0M191.2 409.7h0M222.9 395.2h0M186.5 390.1h0M186.8 391.1h0M226.1 406.8h0M230.7 408.6h0M191.1 386.4h0M232.0 403.9h0M212.5 389.1h0M183.2 400.2h0M215.4 384.7h0M197.3 411.4h0M220.9 394.7h0M216.6 390.8h0M230.4 396.0h0M182.5 413.1h0M201.5 411.8h0M224.8 387.2h0M183.9 406.0h0M205.1 385.3h0M223.0 407.8h0M220.5 406.6h0M210.5 385.1h0M228.8 407.4h0M223.6 396.2h0M231.7 403.6h0M191.1 414.3h0M210.2 410.0h0M229.7 367.7h0M233.2 370.2h0M214.4 385.6h0M224.2 379.0h0M218.7 374.2h0M223.7 375.1h0M217.5 388.3h0M214.2 374.1h0M217.1 380.8h0M221.7 383.2h0M228.5 386.7h0M220.1 372.9h0M219.8 369.6h0M227.4 371.4h0M226.7 382.4h0M235.2 390.0h0M230.6 382.6h0M218.8 374.0h0M221.0 385.1h0M229.5 375.2h0M219.7 373.0h0M223.1 376.0h0M195.4 386.3h0M194.4 384.2h0M209.8 385.9h0M195.9 386.3h0M187.3 383.3h0M204.7 387.5h0M192.4 385.3h0M192.6 384.4h0M205.6 388.2h0M194.2 380.9h0M196.4 382.6h0M200.3 386.3h0M197.7 386.3h0M196.6 388.3h0M198.6 386.7h0M212.9 382.5h0" stroke="#000" stroke-width="0.84" stroke-linecap="square" fill="none"/>
<path d="M199.2 411.6L198.7 411.6L198.2 411.6L197.7 411.6L197.2 411.6L196.7 411.6L196.2 411.6L195.9 411.6L195.4 411.6L194.9 411.5L194.4 411.5L193.9 411.4L193.5 411.4L193.2 411.3L192.7 411.2L192.2 411.1L191.9 411.0L191.4 410.9L191.2 410.8L190.7 410.7L190.3 410.6L189.9 410.4L189.6 410.4L189.2 410.2L188.9 410.1L188.4 409.9L188.2 409.7L187.9 409.6L187.4 409.4L187.2 409.2L186.9 409.1L186.6 408.9L186.2 408.6L185.9 408.4L185.7 408.2L185.4 408.0L185.2 407.8L184.9 407.6L184.6 407.4L184.4 407.1L184.1 406.9L183.9 406.6L183.7 406.3L183.4 406.0L183.2 405.7L182.9 405.4L182.8 405.1L182.6 404.9L182.4 404.4L182.3 404.1L182.2 403.8L182.0 403.4L181.9 403.0L181.9 402.6L181.9 402.1L181.9 401.6L181.9 401.1L181.9 400.6L181.9 400.1L181.9 399.6L181.9 399.1L181.9 398.9L182.1 398.4L182.2 398.1L182.4 397.6L182.5 397.4L182.7 397.1L182.9 396.7L183.1 396.4L183.3 396.1L183.5 395.9L183.7 395.6L183.9 395.4L184.2 395.1L184.4 394.9L184.7 394.6L184.9 394.4L185.2 394.1L185.6 393.9L185.9 393.6L186.2 393.4L186.4 393.2L186.7 393.1L187.0 392.9L187.4 392.6L187.7 392.5L188.0 392.4L188.4 392.1L188.7 392.0L189.1 391.9L189.4 391.7L189.7 391.6L190.2 391.4L190.4 391.4L190.9 391.2L191.3 391.1L191.7 391.0L192.2 390.9L192.4 390.8L192.9 390.7L193.4 390.6L193.7 390.6L194.2 390.5L194.7 390.5L195.2 390.4L195.7 390.4L195.9 390.3L196.4 390.3L196.9 390.3L197.4 390.3L197.9 390.3L198.4 390.3L198.9 390.3L199.4 390.3L199.9 390.3L200.4 390.3L200.9 390.4L201.2 390.4L201.7 390.4L202.2 390.4L202.7 390.5L203.2 390.5L203.7 390.6L203.9 390.6L204.4 390.7L204.9 390.7L205.4 390.8L205.8 390.9L206.2 390.9L206.7 391.0L207.2 391.0L207.7 391.1L207.9 391.1L208.4 391.2L208.9 391.3L209.3 391.4L209.7 391.4L210.2 391.5L210.7 391.6L210.9 391.6L211.4 391.7L211.9 391.8L212.2 391.9L212.7 392.0L213.2 392.1L213.4 392.2L213.9 392.3L214.2 392.4L214.7 392.5L215.0 392.6L215.4 392.7L215.8 392.9L216.2 393.0L216.5 393.1L216.9 393.2L217.2 393.4L217.7 393.5L217.9 393.6L218.4 393.9L218.7 394.0L218.9 394.1L219.4 394.4L219.7 394.5L219.9 394.7L220.2 394.9L220.6 395.1L220.9 395.3L221.2 395.5L221.4 395.6L221.7 395.9L222.0 396.1L222.3 396.4L222.6 396.6L222.9 396.9L223.1 397.1L223.4 397.3L223.7 397.6L223.9 397.9L224.1 398.1L224.3 398.4L224.5 398.6L224.7 398.9L224.9 399.1L225.2 399.4L225.4 399.8L225.6 400.1L225.7 400.4L225.9 400.7L226.1 401.1L226.2 401.4L226.3 401.9L226.4 402.3L226.4 402.6L226.4 403.1L226.4 403.4L226.2 403.9L226.1 404.1L225.9 404.5L225.7 404.9L225.4 405.1L225.2 405.4L224.9 405.6L224.7 405.7L224.4 405.9L224.1 406.1L223.7 406.3L223.4 406.4L223.0 406.6L222.7 406.8L222.4 406.9L221.9 407.0L221.7 407.1L221.2 407.3L220.9 407.4L220.4 407.5L220.0 407.6L219.7 407.7L219.2 407.8L218.9 407.9L218.4 408.0L218.1 408.1L217.7 408.2L217.2 408.3L216.9 408.4L216.4 408.5L216.1 408.6L215.7 408.7L215.2 408.8L214.9 408.9L214.4 409.0L214.0 409.1L213.7 409.2L213.2 409.3L212.9 409.4L212.4 409.5L211.9 409.6L211.7 409.6L211.2 409.8L210.7 409.9L210.4 409.9L209.9 410.0L209.5 410.1L209.2 410.2L208.7 410.3L208.2 410.4L207.9 410.4L207.4 410.5L206.9 410.6L206.7 410.6L206.2 410.7L205.7 410.8L205.4 410.9L204.9 410.9L204.4 411.0L203.9 411.1L203.7 411.1L203.2 411.2L202.7 411.3L202.2 411.3L201.9 411.4L201.4 411.4L200.9 411.5L200.4 411.5L199.9 411.6L199.4 411.6L199.2 411.6Z" fill="#000"/>
<path d="M197.4 411.4L196.9 411.4L196.4 411.4L195.9 411.4L195.4 411.4L194.9 411.4L194.5 411.4L194.2 411.3L193.7 411.2L193.2 411.1L192.9 411.1L192.4 410.9L192.1 410.9L191.7 410.7L191.4 410.6L190.9 410.4L190.7 410.3L190.3 410.1L189.9 409.9L189.7 409.7L189.4 409.6L189.1 409.4L188.7 409.1L188.4 408.9L188.2 408.6L187.9 408.4L187.7 408.1L187.4 407.9L187.2 407.6L187.0 407.4L186.8 407.1L186.6 406.9L186.4 406.5L186.2 406.1L186.0 405.9L185.9 405.6L185.7 405.1L185.6 404.9L185.4 404.4L185.4 404.1L185.3 403.6L185.2 403.1L185.2 402.8L185.1 402.4L185.1 401.9L185.1 401.4L185.2 401.1L185.2 400.6L185.3 400.1L185.4 399.8L185.5 399.4L185.7 399.0L185.8 398.6L185.9 398.4L186.2 397.9L186.3 397.6L186.4 397.4L186.7 397.0L186.9 396.6L187.1 396.4L187.3 396.1L187.5 395.9L187.7 395.6L188.0 395.4L188.2 395.1L188.5 394.9L188.8 394.6L189.1 394.4L189.4 394.1L189.7 393.9L189.9 393.7L190.2 393.6L190.5 393.4L190.9 393.1L191.2 393.0L191.5 392.9L191.9 392.7L192.2 392.6L192.7 392.4L192.9 392.3L193.4 392.1L193.7 392.0L194.2 391.9L194.4 391.9L194.9 391.8L195.4 391.7L195.9 391.6L196.2 391.6L196.7 391.6L197.2 391.6L197.7 391.6L198.2 391.6L198.4 391.6L198.9 391.7L199.4 391.7L199.9 391.8L200.2 391.9L200.7 392.0L200.9 392.1L201.4 392.3L201.7 392.4L202.2 392.6L202.4 392.7L202.8 392.9L203.2 393.0L203.4 393.2L203.7 393.4L204.0 393.6L204.4 393.9L204.7 394.1L204.9 394.3L205.2 394.5L205.4 394.7L205.7 395.0L205.9 395.3L206.2 395.5L206.4 395.9L206.6 396.1L206.7 396.4L206.9 396.6L207.2 397.1L207.3 397.4L207.4 397.6L207.6 398.1L207.7 398.4L207.8 398.9L207.9 399.2L208.0 399.6L208.0 400.1L208.1 400.6L208.1 401.1L208.1 401.6L208.0 402.1L207.9 402.6L207.9 402.9L207.8 403.4L207.7 403.7L207.5 404.1L207.4 404.4L207.2 404.9L207.1 405.1L206.9 405.4L206.7 405.8L206.5 406.1L206.3 406.4L206.1 406.6L205.9 406.9L205.7 407.2L205.4 407.5L205.2 407.7L204.9 408.0L204.7 408.2L204.4 408.4L204.2 408.6L203.9 408.9L203.5 409.1L203.2 409.4L202.9 409.5L202.7 409.7L202.3 409.9L201.9 410.1L201.7 410.2L201.3 410.4L200.9 410.5L200.7 410.6L200.2 410.8L199.9 410.9L199.4 411.0L199.0 411.1L198.7 411.2L198.2 411.3L197.7 411.3L197.4 411.4Z" fill="#d2d2d2" stroke="#000" stroke-width="1.0"/>
<path d="M197.7 408.9L197.2 408.9L196.7 409.0L196.2 409.0L195.7 409.0L195.2 408.9L194.7 408.9L194.4 408.8L193.9 408.7L193.4 408.6L193.2 408.5L192.7 408.4L192.4 408.2L192.1 408.1L191.7 407.9L191.4 407.7L191.2 407.6L190.8 407.4L190.5 407.1L190.2 406.9L190.0 406.6L189.7 406.4L189.5 406.1L189.3 405.9L189.1 405.6L188.9 405.3L188.7 404.9L188.5 404.6L188.4 404.3L188.2 403.9L188.2 403.5L188.1 403.1L188.0 402.6L187.9 402.1L188.0 401.6L188.0 401.1L188.1 400.6L188.2 400.3L188.3 399.9L188.4 399.5L188.6 399.1L188.7 398.9L188.9 398.4L189.1 398.1L189.3 397.9L189.5 397.6L189.7 397.4L189.9 397.1L190.2 396.8L190.4 396.6L190.7 396.3L190.9 396.1L191.3 395.9L191.6 395.6L191.9 395.4L192.2 395.3L192.5 395.1L192.9 394.9L193.2 394.8L193.7 394.6L193.9 394.5L194.4 394.4L194.7 394.3L195.2 394.2L195.7 394.1L195.9 394.1L196.4 394.0L196.9 394.0L197.4 394.0L197.9 394.0L198.4 394.1L198.7 394.1L199.2 394.2L199.6 394.4L199.9 394.4L200.4 394.6L200.7 394.7L201.0 394.9L201.4 395.1L201.7 395.2L201.9 395.4L202.3 395.6L202.6 395.9L202.9 396.1L203.2 396.3L203.4 396.6L203.7 396.8L203.9 397.1L204.0 397.4L204.2 397.6L204.4 397.9L204.6 398.4L204.7 398.6L204.9 399.0L205.0 399.4L205.1 399.9L205.2 400.1L205.2 400.6L205.3 401.1L205.2 401.6L205.2 402.1L205.1 402.4L205.0 402.9L204.9 403.2L204.8 403.6L204.7 403.9L204.4 404.4L204.3 404.6L204.1 404.9L203.9 405.2L203.7 405.5L203.4 405.8L203.2 406.1L202.9 406.3L202.7 406.6L202.4 406.8L202.2 407.0L201.9 407.2L201.6 407.4L201.2 407.6L200.9 407.8L200.7 407.9L200.3 408.1L199.9 408.3L199.7 408.4L199.2 408.5L198.9 408.6L198.4 408.7L197.9 408.8L197.7 408.9Z" fill="#dadada" stroke="#666" stroke-width="0.4"/>
<path d="M198.2 407.1L197.7 407.2L197.2 407.3L196.7 407.3L196.2 407.3L195.7 407.3L195.2 407.3L194.7 407.2L194.3 407.1L193.9 407.0L193.6 406.9L193.2 406.7L192.9 406.6L192.5 406.4L192.2 406.1L191.9 405.9L191.7 405.7L191.4 405.5L191.2 405.2L190.9 404.9L190.7 404.6L190.5 404.4L190.4 404.1L190.2 403.6L190.1 403.4L190.0 402.9L189.9 402.6L189.9 402.1L189.8 401.6L189.9 401.1L189.9 400.9L190.1 400.4L190.2 400.1L190.3 399.6L190.5 399.4L190.7 399.0L190.9 398.6L191.1 398.4L191.3 398.1L191.6 397.9L191.8 397.6L192.1 397.4L192.4 397.1L192.7 396.9L192.9 396.8L193.2 396.6L193.7 396.4L193.9 396.3L194.3 396.1L194.7 396.0L195.2 395.9L195.4 395.8L195.9 395.7L196.4 395.7L196.9 395.7L197.4 395.7L197.9 395.7L198.4 395.8L198.7 395.9L199.2 396.0L199.5 396.1L199.9 396.3L200.2 396.4L200.6 396.6L200.9 396.8L201.2 397.0L201.4 397.2L201.7 397.4L201.9 397.6L202.2 397.9L202.4 398.2L202.6 398.6L202.8 398.9L202.9 399.1L203.1 399.6L203.2 399.9L203.3 400.4L203.3 400.9L203.4 401.4L203.3 401.9L203.2 402.4L203.2 402.6L203.0 403.1L202.9 403.4L202.7 403.8L202.5 404.1L202.3 404.4L202.1 404.6L201.9 404.9L201.7 405.1L201.4 405.4L201.2 405.6L200.8 405.9L200.5 406.1L200.2 406.3L199.9 406.4L199.6 406.6L199.2 406.8L198.9 406.9L198.4 407.0L198.2 407.1Z" fill="#e2e2e2" stroke="#777" stroke-width="0.35"/>
<path d="M197.9 405.9L197.4 406.0L196.9 406.0L196.4 406.1L195.9 406.0L195.4 406.0L194.9 405.9L194.7 405.8L194.2 405.6L193.9 405.5L193.5 405.4L193.2 405.1L192.9 404.9L192.7 404.7L192.4 404.4L192.2 404.1L191.9 403.9L191.8 403.6L191.7 403.3L191.5 402.9L191.4 402.5L191.3 402.1L191.3 401.6L191.4 401.1L191.4 400.9L191.6 400.4L191.7 400.1L191.9 399.7L192.1 399.4L192.3 399.1L192.5 398.9L192.7 398.6L193.0 398.4L193.3 398.1L193.7 397.9L193.9 397.7L194.2 397.6L194.7 397.4L194.9 397.3L195.4 397.1L195.7 397.1L196.2 397.0L196.7 396.9L197.2 396.9L197.7 397.0L198.2 397.1L198.4 397.1L198.9 397.3L199.2 397.4L199.6 397.6L199.9 397.8L200.2 398.0L200.4 398.2L200.7 398.4L200.9 398.7L201.2 399.0L201.4 399.4L201.5 399.6L201.7 400.0L201.8 400.4L201.8 400.9L201.9 401.4L201.8 401.9L201.7 402.4L201.6 402.6L201.4 403.1L201.3 403.4L201.1 403.6L200.9 403.9L200.7 404.2L200.4 404.5L200.2 404.7L199.9 404.9L199.6 405.1L199.2 405.4L198.9 405.5L198.7 405.6L198.2 405.8L197.9 405.9Z" fill="#eaeaea" stroke="#888" stroke-width="0.35"/>
<path d="M197.4 404.6L196.9 404.7L196.4 404.7L195.9 404.7L195.4 404.6L195.2 404.5L194.7 404.4L194.4 404.2L194.2 404.0L193.9 403.8L193.6 403.6L193.4 403.3L193.2 402.9L193.0 402.6L192.9 402.1L192.9 401.9L192.9 401.4L192.9 401.1L193.1 400.6L193.2 400.4L193.4 400.0L193.7 399.7L193.9 399.4L194.2 399.2L194.4 399.0L194.7 398.8L195.2 398.6L195.4 398.5L195.9 398.4L196.2 398.3L196.7 398.3L197.2 398.3L197.6 398.4L197.9 398.4L198.4 398.6L198.7 398.7L198.9 398.9L199.2 399.1L199.5 399.4L199.7 399.6L199.9 399.9L200.1 400.4L200.2 400.6L200.3 401.1L200.3 401.6L200.2 402.1L200.1 402.4L199.9 402.8L199.7 403.1L199.5 403.4L199.3 403.6L199.0 403.9L198.7 404.1L198.4 404.2L198.2 404.4L197.7 404.5L197.4 404.6Z" fill="#f3f3f3" stroke="#999" stroke-width="0.3"/>
<path d="M197.4 403.2L196.9 403.3L196.4 403.3L195.9 403.3L195.5 403.1L195.2 402.9L194.9 402.7L194.7 402.4L194.6 402.1L194.5 401.6L194.6 401.1L194.7 400.9L194.9 400.5L195.2 400.2L195.4 400.0L195.8 399.9L196.2 399.7L196.7 399.7L197.2 399.7L197.6 399.9L197.9 400.0L198.2 400.2L198.4 400.4L198.6 400.9L198.7 401.1L198.7 401.6L198.7 401.9L198.4 402.4L198.2 402.6L198.0 402.9L197.7 403.0L197.4 403.2Z" fill="#fdfdfd" stroke="#bbb" stroke-width="0.3"/>
</g>
<rect x="181.9" y="341.6" width="73.69999999999999" height="73.59999999999997" fill="none" stroke="#222" stroke-width="0.9"/>
<path d="M183 387.3V358.4H242.5V387.3H183M210.4 358.4V387.3" fill="none" stroke="#333" stroke-width="0.8"/>
<path d="M179.9 411.5h2M179.9 407.8h2M179.9 404.2h2M179.9 394.6h2M179.9 385.8h2M179.9 376.9h2M179.9 366.6h2M179.9 357.8h2M179.9 349.0h2M189.3 415.2v1.6M196.6 415.2v1.6M204.0 415.2v1.6M215.1 415.2v1.6M226.1 415.2v1.6M237.2 415.2v1.6M248.2 415.2v1.6" stroke="#333" stroke-width="0.6" fill="none"/>
<clipPath id="e4"><rect x="261.5" y="341.6" width="74.10000000000002" height="73.59999999999997"/></clipPath>
<g clip-path="url(#e4)">
<path d="M271.9 390.1h0M315.3 405.8h0M309.4 391.9h0M305.3 402.9h0M309.1 396.3h0M279.5 388.4h0M263.7 412.9h0M299.0 409.5h0M292.7 388.1h0M309.0 403.0h0M283.2 386.6h0M269.0 382.6h0M280.5 385.3h0M305.3 391.0h0M301.4 392.2h0M268.1 408.1h0M265.0 387.9h0M287.5 390.0h0M268.6 412.2h0M267.2 410.8h0M304.2 403.7h0M289.6 410.3h0M295.8 388.4h0M277.4 386.0h0M273.3 409.7h0M283.3 386.6h0M267.1 389.1h0M280.2 386.9h0M271.0 410.4h0M296.3 390.0h0M277.4 388.0h0M306.7 399.9h0M292.0 390.5h0M273.9 390.0h0M264.9 395.2h0M285.6 414.1h0M279.0 385.5h0M288.0 389.0h0M283.7 387.6h0M304.8 404.5h0M298.0 413.8h0M299.6 410.3h0M313.0 409.4h0M276.8 388.2h0M308.9 401.9h0M304.1 393.1h0M307.2 398.8h0M306.9 400.9h0M278.8 411.2h0M293.6 388.7h0M307.2 407.3h0M307.0 404.8h0M301.6 409.7h0M304.9 405.8h0M296.9 390.2h0M263.5 389.6h0M275.6 379.8h0M301.6 394.7h0M272.3 411.6h0M268.4 413.0h0M263.9 390.6h0M265.8 414.0h0M289.5 387.2h0M262.5 405.6h0M278.6 386.8h0M286.0 410.7h0M288.5 413.2h0M294.9 393.2h0M302.9 406.5h0M306.5 391.2h0M300.2 407.7h0M263.0 405.7h0M298.6 391.9h0M277.8 381.8h0M302.6 406.9h0M274.4 389.4h0M283.0 387.5h0M275.7 390.5h0M266.6 409.4h0M298.9 407.3h0M312.0 400.6h0M280.5 413.4h0M279.4 412.0h0M293.2 392.6h0M283.4 389.5h0M289.1 382.8h0M300.3 407.0h0M272.3 409.2h0M272.7 412.6h0M284.1 413.8h0M300.2 393.7h0M280.4 390.0h0M300.9 395.0h0M298.0 391.8h0M265.2 392.3h0M306.4 389.7h0M298.9 409.9h0M278.2 410.1h0M306.8 401.5h0M262.1 393.0h0M284.8 378.6h0M284.9 383.3h0M306.4 405.0h0M291.2 389.0h0M263.9 391.6h0M299.6 413.5h0M266.6 390.7h0M273.9 413.7h0M281.1 411.2h0M268.5 410.2h0M301.3 406.7h0M263.3 409.3h0M281.4 410.0h0M305.5 408.7h0M314.4 406.2h0M305.1 396.4h0M263.1 406.9h0M263.9 406.4h0M282.5 412.0h0M308.9 403.3h0M273.3 382.4h0M298.5 394.4h0M290.5 410.3h0M272.0 410.4h0M265.1 394.8h0M292.1 391.7h0M285.0 385.9h0M306.4 406.7h0M289.6 390.2h0M309.0 395.9h0M303.8 408.1h0M307.7 409.0h0M276.2 390.5h0M300.9 391.0h0M302.9 398.1h0M303.4 395.1h0M262.6 396.2h0M280.1 411.5h0M288.6 414.3h0M262.9 410.1h0M301.3 408.1h0M290.5 410.4h0M305.2 389.5h0M264.4 406.5h0M283.7 386.3h0M310.8 396.9h0M305.7 389.3h0M287.1 385.6h0M279.2 387.8h0M266.4 384.9h0M266.5 392.9h0M294.8 391.1h0M291.6 386.2h0M295.8 385.8h0M294.6 411.3h0M307.5 409.0h0M297.5 413.5h0M276.5 387.3h0M270.9 387.1h0M266.4 407.5h0M278.3 384.8h0M280.7 384.8h0M274.6 389.1h0M285.7 414.6h0M289.7 387.3h0M286.7 389.5h0M302.2 406.8h0M277.8 410.1h0M288.1 389.9h0M263.7 388.9h0M266.3 392.6h0M305.2 409.4h0M282.7 409.9h0M263.7 414.5h0M311.2 410.5h0M283.1 384.3h0M279.8 411.6h0M263.9 410.4h0M296.2 412.2h0M275.1 382.2h0M304.9 396.2h0M264.3 413.1h0M280.0 412.2h0M292.4 414.6h0M303.4 394.4h0M300.4 392.0h0M291.4 387.8h0M279.2 383.1h0M304.7 406.0h0M287.1 389.9h0M263.5 395.5h0M303.6 395.0h0M271.0 389.4h0M293.9 411.8h0M263.1 404.1h0M264.1 393.9h0M266.4 387.9h0M307.8 410.2h0M285.8 411.0h0M294.3 392.3h0M269.8 389.8h0M307.8 402.8h0M263.6 407.2h0M281.5 386.5h0M290.4 385.8h0M276.0 389.2h0M303.1 407.5h0M304.4 407.6h0M304.4 409.7h0M270.7 387.3h0M305.3 394.9h0M288.8 391.2h0M299.3 394.2h0M265.4 390.8h0M268.4 386.6h0M263.4 391.9h0M271.3 390.2h0M277.3 414.6h0M294.5 410.5h0M277.7 383.1h0M295.6 413.9h0M304.6 395.8h0M275.8 383.3h0M267.9 407.7h0M285.8 391.1h0M300.1 393.3h0M263.0 409.5h0M281.9 412.8h0M291.8 410.1h0M262.0 385.8h0M289.6 412.3h0M291.4 409.6h0M268.9 392.2h0M300.7 394.6h0M273.3 387.8h0M300.9 408.5h0M289.8 409.7h0M267.8 410.1h0M304.8 401.5h0M292.3 386.6h0M281.2 387.0h0M295.8 386.3h0M293.8 389.4h0M269.8 413.7h0M298.4 386.3h0M265.9 387.2h0M297.6 390.9h0M280.3 388.5h0M304.4 409.5h0M283.2 389.2h0M286.0 411.0h0M287.6 383.1h0M266.1 379.1h0M297.3 382.9h0M274.0 391.4h0M302.7 388.6h0M267.6 382.5h0M297.6 393.7h0M280.7 413.3h0M277.2 387.5h0M313.3 399.9h0M306.0 401.6h0M293.3 392.4h0M304.6 387.6h0M264.0 391.6h0M266.9 407.6h0M291.4 411.9h0M270.0 390.9h0M282.9 411.3h0M307.2 405.4h0M282.1 388.1h0M297.9 412.4h0M274.7 387.8h0M305.7 390.6h0M273.7 410.6h0M312.3 396.5h0M283.2 414.3h0M309.0 408.5h0M262.9 409.3h0M286.3 411.5h0M271.4 390.2h0M283.0 384.1h0M273.3 411.3h0M285.5 412.3h0M303.3 393.0h0M274.6 414.4h0M292.4 413.8h0M293.0 410.3h0M303.6 404.6h0M279.6 414.0h0M311.2 394.1h0M274.6 412.7h0M280.0 384.8h0M266.9 386.7h0M313.0 408.5h0M311.7 398.4h0M272.4 411.1h0M272.7 410.1h0M302.5 394.8h0M298.8 411.4h0M288.4 412.9h0M309.5 393.7h0M278.6 389.7h0M284.4 411.5h0M298.3 391.6h0M264.6 384.4h0M262.8 394.0h0M283.9 387.9h0M305.8 407.6h0M286.2 414.2h0M267.9 392.1h0M268.9 408.5h0M262.7 395.0h0M302.1 391.8h0M274.1 386.0h0M286.2 411.9h0M262.0 390.9h0M273.6 389.5h0M265.4 387.4h0M292.4 408.8h0M296.9 409.0h0M262.0 400.7h0M262.9 402.0h0M306.3 394.4h0M263.8 390.4h0M272.8 409.6h0M289.6 413.4h0M311.5 394.1h0M292.1 387.8h0M269.2 413.3h0M262.1 389.7h0M294.3 389.4h0M270.0 383.5h0M309.3 393.3h0M288.4 387.5h0M314.8 409.0h0M267.8 390.5h0M263.7 408.8h0M307.3 408.6h0M308.7 403.6h0M262.6 407.8h0M300.2 390.0h0M264.2 380.5h0M283.2 385.0h0M298.2 411.7h0M268.6 408.5h0M306.6 396.0h0M285.0 383.4h0M262.6 408.8h0M278.5 388.1h0M262.3 405.0h0M296.4 413.8h0M299.1 391.0h0M288.8 410.5h0M302.8 395.5h0M294.4 393.0h0M276.4 413.5h0M263.5 407.2h0M263.0 410.1h0M304.6 400.8h0M273.5 412.8h0M302.4 396.3h0M296.7 411.5h0M278.2 389.2h0M281.2 387.2h0M279.9 410.7h0M305.3 394.1h0M274.9 409.8h0M297.0 409.3h0M309.3 403.5h0M297.7 408.6h0M303.0 390.8h0M305.0 405.6h0M295.1 411.0h0M269.6 390.8h0M302.8 395.7h0M275.7 387.1h0M293.0 388.7h0M294.5 412.9h0M281.5 414.0h0M295.9 390.2h0M303.8 404.3h0M282.5 411.5h0M294.0 412.9h0M286.4 411.4h0M263.9 410.6h0M296.0 410.2h0M274.5 390.1h0M294.5 392.2h0M302.0 389.1h0M293.9 409.4h0M309.2 405.0h0M307.5 405.7h0M279.5 390.1h0M270.6 390.6h0M303.3 391.6h0M262.5 394.6h0M262.5 399.7h0M309.5 409.1h0M305.5 406.1h0M263.9 413.1h0M269.9 411.6h0M289.6 411.7h0M298.3 408.7h0M293.8 387.6h0M304.6 405.1h0M289.0 413.2h0M280.5 410.6h0M282.7 389.5h0M305.4 395.2h0M294.7 413.2h0M272.4 414.0h0M301.5 412.7h0M304.8 410.9h0M303.1 392.5h0M276.0 383.2h0M310.1 398.7h0M292.4 409.2h0M281.1 410.5h0M314.4 398.2h0M300.4 409.0h0M293.0 408.8h0M273.6 388.1h0M308.7 399.4h0M302.0 407.6h0M310.8 397.8h0M298.3 411.5h0M300.4 408.8h0M299.6 409.7h0M268.4 390.7h0M300.2 407.9h0M290.8 391.5h0M278.9 387.0h0M291.7 411.0h0M304.7 400.3h0M310.2 400.5h0M309.8 403.1h0M264.5 387.8h0M264.5 393.4h0M275.2 383.8h0M295.9 388.4h0M302.5 395.2h0M283.6 386.1h0M301.1 393.6h0M309.2 396.8h0M285.7 411.6h0M266.0 383.9h0M305.7 404.3h0M296.5 392.2h0M263.4 387.6h0M305.7 397.2h0M265.4 411.1h0M279.4 386.0h0M309.4 391.3h0M263.9 404.3h0M264.8 389.0h0M305.4 405.4h0M282.8 390.4h0M277.3 385.4h0M267.8 411.1h0M293.3 391.6h0M277.3 411.2h0M294.2 389.9h0M262.5 397.8h0M279.0 386.5h0M268.7 413.2h0M298.4 409.1h0M278.3 387.2h0M295.8 413.1h0M265.3 408.2h0M266.9 389.1h0M311.8 397.6h0M262.3 385.4h0M286.3 391.3h0M291.7 388.9h0M262.5 390.6h0M286.7 387.2h0M267.1 414.4h0M300.9 389.9h0M316.6 407.4h0M273.8 412.8h0M303.8 395.6h0M271.3 386.7h0M304.4 403.1h0M305.9 395.5h0M278.6 412.8h0M307.0 413.8h0M307.4 404.7h0M295.1 411.9h0M281.7 388.3h0M310.2 407.2h0M271.8 389.5h0M306.5 407.2h0M288.3 410.4h0M289.9 410.6h0M274.8 412.8h0M315.7 398.3h0M287.5 388.0h0M270.8 386.1h0M309.2 402.0h0M288.0 411.4h0M309.7 382.4h0M308.1 383.8h0M305.7 372.5h0M308.9 384.0h0M306.5 378.9h0M308.6 377.7h0M310.6 373.2h0M302.3 392.2h0M299.7 380.4h0M309.4 382.2h0M301.9 375.7h0M293.3 373.4h0M313.6 385.1h0M306.5 374.3h0M306.3 387.5h0M303.9 390.0h0M310.0 377.1h0M297.3 378.7h0M305.0 368.3h0M266.1 387.0h0M285.1 386.6h0M290.0 384.4h0M273.7 384.2h0M275.0 381.6h0M267.4 382.5h0M271.0 385.7h0M290.6 383.9h0M282.5 385.5h0M265.6 384.5h0M284.5 385.1h0M299.0 385.0h0M276.8 386.5h0M274.7 386.7h0M284.7 385.0h0" stroke="#000" stroke-width="0.84" stroke-linecap="square" fill="none"/>
<path d="M281.8 410.9L281.2 410.9L280.8 410.9L280.2 410.9L279.8 411.0L279.2 411.0L278.8 411.0L278.2 411.0L277.8 411.0L277.2 410.9L276.8 410.9L276.2 410.9L275.8 410.9L275.5 410.8L275.0 410.8L274.5 410.7L274.0 410.7L273.6 410.6L273.2 410.5L272.8 410.4L272.3 410.4L272.0 410.3L271.5 410.2L271.2 410.1L270.8 410.0L270.3 409.9L270.0 409.7L269.6 409.6L269.2 409.5L268.9 409.4L268.5 409.2L268.2 409.1L267.8 408.9L267.5 408.7L267.2 408.6L266.8 408.4L266.5 408.2L266.2 408.1L265.9 407.9L265.6 407.6L265.2 407.4L265.0 407.2L264.8 407.0L264.5 406.8L264.2 406.6L264.0 406.3L263.8 406.1L263.5 405.8L263.2 405.5L263.0 405.2L262.8 404.9L262.5 404.6L262.4 404.4L262.2 404.1L262.0 403.6L261.9 403.4L261.8 403.1L261.6 402.6L261.5 402.3L261.5 401.9L261.5 401.4L261.5 400.9L261.5 400.4L261.5 399.9L261.5 399.4L261.5 398.9L261.5 398.6L261.7 398.1L261.8 397.9L262.0 397.4L262.1 397.1L262.3 396.9L262.5 396.5L262.8 396.1L262.9 395.9L263.1 395.6L263.3 395.4L263.6 395.1L263.8 394.9L264.1 394.6L264.3 394.4L264.6 394.1L264.9 393.9L265.2 393.6L265.5 393.4L265.8 393.3L266.0 393.1L266.4 392.9L266.8 392.7L267.0 392.5L267.3 392.4L267.8 392.1L268.0 392.0L268.4 391.9L268.8 391.7L269.0 391.6L269.5 391.4L269.8 391.3L270.2 391.2L270.5 391.1L271.0 391.0L271.4 390.9L271.8 390.8L272.2 390.7L272.5 390.6L273.0 390.5L273.5 390.4L274.0 390.4L274.2 390.3L274.8 390.3L275.2 390.2L275.8 390.2L276.2 390.1L276.5 390.1L277.0 390.1L277.5 390.1L278.0 390.0L278.5 390.0L279.0 390.0L279.5 390.0L280.0 390.1L280.5 390.1L281.0 390.1L281.2 390.1L281.8 390.1L282.2 390.2L282.8 390.2L283.2 390.2L283.8 390.3L284.2 390.3L284.5 390.4L285.0 390.4L285.5 390.5L286.0 390.5L286.5 390.6L286.8 390.6L287.2 390.7L287.8 390.8L288.2 390.8L288.5 390.9L289.0 391.0L289.5 391.0L289.8 391.1L290.2 391.2L290.8 391.3L291.1 391.4L291.5 391.4L292.0 391.5L292.2 391.6L292.8 391.7L293.2 391.9L293.5 391.9L294.0 392.1L294.2 392.1L294.8 392.3L295.0 392.4L295.5 392.6L295.8 392.6L296.2 392.8L296.5 392.9L296.9 393.1L297.2 393.2L297.5 393.4L298.0 393.6L298.2 393.7L298.5 393.9L299.0 394.1L299.2 394.3L299.5 394.4L299.8 394.6L300.2 394.9L300.5 395.0L300.8 395.2L301.0 395.4L301.3 395.6L301.6 395.9L301.9 396.1L302.2 396.4L302.5 396.6L302.8 396.8L303.0 397.1L303.2 397.3L303.5 397.6L303.7 397.9L304.0 398.1L304.2 398.4L304.3 398.6L304.5 398.9L304.8 399.2L305.0 399.6L305.1 399.9L305.2 400.1L305.5 400.6L305.5 400.9L305.7 401.4L305.7 401.9L305.7 402.4L305.7 402.9L305.5 403.4L305.4 403.6L305.2 404.0L305.0 404.4L304.8 404.6L304.6 404.9L304.4 405.1L304.1 405.4L303.8 405.6L303.5 405.8L303.2 405.9L303.0 406.1L302.5 406.4L302.2 406.5L302.0 406.6L301.5 406.8L301.2 406.9L300.8 407.1L300.5 407.2L300.1 407.4L299.8 407.5L299.4 407.6L299.0 407.7L298.6 407.9L298.2 408.0L297.8 408.1L297.5 408.2L297.0 408.3L296.8 408.4L296.2 408.5L295.9 408.6L295.5 408.7L295.0 408.8L294.8 408.9L294.2 409.0L293.9 409.1L293.5 409.2L293.0 409.3L292.8 409.4L292.2 409.5L291.8 409.6L291.5 409.6L291.0 409.7L290.5 409.8L290.2 409.9L289.8 409.9L289.2 410.0L288.8 410.1L288.5 410.1L288.0 410.2L287.5 410.3L287.0 410.3L286.8 410.4L286.2 410.4L285.8 410.5L285.2 410.6L284.9 410.6L284.5 410.6L284.0 410.7L283.5 410.7L283.0 410.8L282.5 410.8L282.0 410.8L281.8 410.9Z" fill="#000"/>
<path d="M277.8 409.1L277.2 409.2L276.8 409.2L276.2 409.2L275.8 409.2L275.2 409.2L274.8 409.2L274.2 409.2L273.8 409.1L273.5 409.1L273.0 409.0L272.5 408.9L272.1 408.9L271.8 408.8L271.2 408.6L271.0 408.5L270.5 408.4L270.2 408.3L269.8 408.1L269.5 408.0L269.2 407.8L268.8 407.6L268.5 407.4L268.2 407.3L268.0 407.1L267.6 406.9L267.3 406.6L267.0 406.4L266.8 406.1L266.5 405.9L266.3 405.6L266.1 405.4L265.9 405.1L265.7 404.9L265.5 404.6L265.2 404.1L265.1 403.9L265.0 403.6L264.8 403.1L264.7 402.9L264.6 402.4L264.5 401.9L264.5 401.4L264.5 400.9L264.5 400.4L264.6 399.9L264.7 399.4L264.8 399.1L265.0 398.6L265.1 398.4L265.2 398.0L265.5 397.6L265.6 397.4L265.8 397.1L266.0 396.8L266.2 396.4L266.5 396.1L266.8 395.9L267.0 395.6L267.2 395.4L267.5 395.1L267.8 394.9L268.0 394.7L268.2 394.5L268.5 394.3L268.8 394.1L269.2 393.9L269.5 393.6L269.8 393.5L270.0 393.3L270.5 393.1L270.8 393.0L271.0 392.8L271.5 392.6L271.8 392.5L272.2 392.4L272.5 392.3L273.0 392.1L273.2 392.0L273.8 391.9L274.0 391.8L274.5 391.7L275.0 391.6L275.2 391.6L275.8 391.5L276.2 391.4L276.8 391.4L277.2 391.4L277.8 391.4L278.2 391.4L278.8 391.4L279.2 391.4L279.8 391.5L280.2 391.5L280.7 391.6L281.0 391.7L281.5 391.8L281.9 391.9L282.2 392.0L282.7 392.1L283.0 392.2L283.4 392.4L283.8 392.5L284.0 392.6L284.5 392.8L284.8 393.0L285.0 393.1L285.4 393.4L285.8 393.6L286.0 393.8L286.2 394.0L286.5 394.2L286.8 394.4L287.0 394.6L287.2 394.9L287.5 395.2L287.8 395.5L288.0 395.9L288.1 396.1L288.3 396.4L288.5 396.8L288.6 397.1L288.8 397.4L288.9 397.9L289.0 398.4L289.0 398.6L289.1 399.1L289.1 399.6L289.1 400.1L289.0 400.6L289.0 400.9L288.8 401.4L288.7 401.6L288.6 402.1L288.5 402.4L288.2 402.8L288.1 403.1L287.9 403.4L287.8 403.6L287.5 404.0L287.2 404.3L287.0 404.6L286.8 404.9L286.5 405.1L286.3 405.4L286.0 405.6L285.8 405.8L285.5 406.0L285.2 406.2L285.0 406.4L284.7 406.6L284.3 406.9L284.0 407.0L283.8 407.2L283.4 407.4L283.0 407.6L282.8 407.7L282.4 407.9L282.0 408.0L281.8 408.1L281.2 408.3L281.0 408.4L280.5 408.5L280.2 408.6L279.8 408.7L279.3 408.9L279.0 408.9L278.5 409.0L278.0 409.1L277.8 409.1Z" fill="#d2d2d2" stroke="#000" stroke-width="1.0"/>
<path d="M278.0 406.9L277.5 406.9L277.0 407.0L276.5 407.0L276.0 407.0L275.5 407.0L275.0 407.0L274.5 407.0L274.0 406.9L273.8 406.8L273.2 406.7L272.8 406.6L272.5 406.5L272.0 406.4L271.8 406.3L271.4 406.1L271.0 405.9L270.8 405.8L270.4 405.6L270.0 405.4L269.8 405.1L269.5 404.9L269.2 404.7L269.0 404.4L268.8 404.2L268.5 403.9L268.3 403.6L268.2 403.4L268.0 403.0L267.8 402.6L267.7 402.4L267.6 401.9L267.6 401.4L267.5 400.9L267.6 400.4L267.7 399.9L267.8 399.5L267.9 399.1L268.0 398.8L268.2 398.4L268.4 398.1L268.5 397.9L268.8 397.5L269.0 397.2L269.2 396.9L269.5 396.7L269.8 396.4L270.0 396.2L270.2 396.0L270.5 395.8L270.8 395.6L271.2 395.4L271.5 395.2L271.8 395.0L272.1 394.9L272.5 394.7L272.8 394.5L273.2 394.4L273.5 394.3L274.0 394.1L274.2 394.0L274.8 393.9L275.0 393.8L275.5 393.7L276.0 393.7L276.5 393.6L276.8 393.6L277.2 393.6L277.8 393.6L278.2 393.6L278.6 393.6L279.0 393.6L279.5 393.7L280.0 393.8L280.3 393.9L280.8 394.0L281.2 394.1L281.5 394.2L281.9 394.4L282.2 394.5L282.5 394.6L282.9 394.9L283.2 395.0L283.5 395.2L283.8 395.4L284.0 395.6L284.3 395.9L284.6 396.1L284.8 396.4L285.0 396.6L285.2 397.0L285.5 397.4L285.6 397.6L285.8 398.0L285.9 398.4L286.0 398.9L286.0 399.1L286.1 399.6L286.0 400.1L286.0 400.5L285.9 400.9L285.8 401.4L285.7 401.6L285.5 402.0L285.3 402.4L285.2 402.6L285.0 402.9L284.8 403.2L284.5 403.5L284.2 403.8L284.0 404.0L283.8 404.3L283.5 404.5L283.2 404.7L283.0 404.9L282.7 405.1L282.3 405.4L282.0 405.5L281.8 405.6L281.3 405.9L281.0 406.0L280.7 406.1L280.2 406.3L280.0 406.4L279.5 406.5L279.2 406.6L278.8 406.7L278.2 406.8L278.0 406.9Z" fill="#dadada" stroke="#666" stroke-width="0.4"/>
<path d="M278.0 405.4L277.5 405.5L277.0 405.5L276.5 405.6L276.0 405.6L275.5 405.5L275.0 405.5L274.5 405.4L274.2 405.4L273.8 405.3L273.2 405.1L273.0 405.0L272.6 404.9L272.2 404.7L272.0 404.5L271.7 404.4L271.3 404.1L271.0 403.9L270.8 403.6L270.5 403.4L270.3 403.1L270.2 402.9L270.0 402.5L269.8 402.1L269.7 401.9L269.6 401.4L269.6 400.9L269.6 400.4L269.7 399.9L269.8 399.6L269.9 399.1L270.1 398.9L270.2 398.5L270.5 398.2L270.7 397.9L271.0 397.6L271.2 397.4L271.5 397.1L271.8 396.9L272.0 396.7L272.2 396.5L272.6 396.4L273.0 396.1L273.2 396.0L273.5 395.9L274.0 395.7L274.2 395.6L274.8 395.4L275.0 395.4L275.5 395.2L276.0 395.2L276.4 395.1L276.8 395.1L277.2 395.0L277.8 395.0L278.2 395.1L278.5 395.1L279.0 395.2L279.5 395.3L279.9 395.4L280.2 395.5L280.6 395.6L281.0 395.8L281.2 395.9L281.7 396.1L282.0 396.3L282.2 396.5L282.5 396.7L282.8 396.9L283.0 397.2L283.2 397.5L283.5 397.9L283.6 398.1L283.8 398.4L283.9 398.9L284.0 399.3L284.0 399.6L284.0 400.1L284.0 400.4L283.9 400.9L283.8 401.3L283.6 401.6L283.5 401.9L283.2 402.2L283.0 402.6L282.8 402.9L282.5 403.1L282.3 403.4L282.0 403.6L281.8 403.8L281.5 404.0L281.2 404.1L280.9 404.4L280.5 404.5L280.2 404.7L279.8 404.9L279.5 405.0L279.1 405.1L278.8 405.2L278.2 405.3L278.0 405.4Z" fill="#e2e2e2" stroke="#777" stroke-width="0.35"/>
<path d="M277.0 404.4L276.5 404.4L276.0 404.4L275.5 404.4L275.2 404.3L274.8 404.2L274.2 404.1L274.0 404.0L273.5 403.9L273.2 403.7L273.0 403.6L272.7 403.4L272.3 403.1L272.1 402.9L271.9 402.6L271.7 402.4L271.5 402.1L271.3 401.6L271.2 401.4L271.2 400.9L271.2 400.4L271.2 400.0L271.4 399.6L271.5 399.3L271.7 398.9L271.9 398.6L272.1 398.4L272.3 398.1L272.6 397.9L272.9 397.6L273.2 397.4L273.5 397.2L273.8 397.1L274.2 396.9L274.5 396.7L274.9 396.6L275.2 396.5L275.8 396.4L276.0 396.3L276.5 396.2L277.0 396.2L277.5 396.2L278.0 396.2L278.5 396.3L278.8 396.4L279.2 396.5L279.7 396.6L280.0 396.7L280.3 396.9L280.7 397.1L281.0 397.3L281.2 397.5L281.5 397.7L281.8 398.0L282.0 398.4L282.1 398.6L282.2 398.9L282.4 399.4L282.4 399.9L282.4 400.4L282.3 400.9L282.2 401.1L282.0 401.5L281.8 401.9L281.6 402.1L281.4 402.4L281.2 402.6L280.9 402.9L280.5 403.1L280.2 403.3L280.0 403.4L279.7 403.6L279.2 403.8L279.0 403.9L278.5 404.1L278.2 404.1L277.8 404.3L277.2 404.3L277.0 404.4Z" fill="#eaeaea" stroke="#888" stroke-width="0.35"/>
<path d="M277.2 403.1L276.8 403.2L276.2 403.2L275.8 403.2L275.4 403.1L275.0 403.0L274.6 402.9L274.2 402.7L274.0 402.5L273.7 402.4L273.5 402.1L273.2 401.9L273.0 401.4L272.9 401.1L272.8 400.6L272.9 400.1L273.0 399.7L273.2 399.4L273.3 399.1L273.5 398.9L273.8 398.6L274.1 398.4L274.5 398.1L274.8 398.0L275.0 397.8L275.5 397.7L275.8 397.6L276.2 397.5L276.8 397.4L277.2 397.4L277.8 397.4L278.2 397.5L278.6 397.6L279.0 397.7L279.2 397.9L279.7 398.1L280.0 398.4L280.2 398.6L280.4 398.9L280.6 399.1L280.7 399.6L280.8 399.9L280.8 400.4L280.7 400.6L280.5 401.1L280.4 401.4L280.2 401.6L280.0 401.9L279.7 402.1L279.3 402.4L279.0 402.6L278.8 402.7L278.4 402.9L278.0 403.0L277.5 403.1L277.2 403.1Z" fill="#f3f3f3" stroke="#999" stroke-width="0.3"/>
<path d="M277.2 401.9L276.8 401.9L276.2 401.9L275.8 401.9L275.5 401.7L275.2 401.6L274.9 401.4L274.7 401.1L274.5 400.6L274.6 400.1L274.8 399.7L275.0 399.4L275.2 399.2L275.5 399.0L275.9 398.9L276.2 398.7L276.8 398.7L277.2 398.7L277.8 398.7L278.1 398.9L278.5 399.1L278.8 399.3L278.9 399.6L279.0 399.9L279.1 400.4L279.0 400.6L278.8 401.0L278.5 401.3L278.2 401.5L278.0 401.6L277.5 401.8L277.2 401.9Z" fill="#fdfdfd" stroke="#bbb" stroke-width="0.3"/>
</g>
<rect x="261.5" y="341.6" width="74.10000000000002" height="73.59999999999997" fill="none" stroke="#222" stroke-width="0.9"/>
<path d="M262.5 387.3V358.4H322.1V387.3H262.5M290 358.4V387.3" fill="none" stroke="#333" stroke-width="0.8"/>
<path d="M259.5 411.5h2M259.5 407.8h2M259.5 404.2h2M259.5 394.6h2M259.5 385.8h2M259.5 376.9h2M259.5 366.6h2M259.5 357.8h2M259.5 349.0h2M268.9 415.2v1.6M276.3 415.2v1.6M283.7 415.2v1.6M294.8 415.2v1.6M306.0 415.2v1.6M317.1 415.2v1.6M328.2 415.2v1.6" stroke="#333" stroke-width="0.6" fill="none"/>
<text x="59.5" y="335.6" font-size="7.6" text-anchor="middle" fill="#222" stroke="#222" stroke-width="0.2" textLength="48.6" lengthAdjust="spacingAndGlyphs">MM-relapsed</text>
<text x="139.3" y="335.6" font-size="7.6" text-anchor="middle" fill="#222" stroke="#222" stroke-width="0.2" textLength="54.4" lengthAdjust="spacingAndGlyphs">MM-controlled</text>
<text x="218.5" y="335.6" font-size="7.6" text-anchor="middle" fill="#222" stroke="#222" stroke-width="0.2" textLength="31.7" lengthAdjust="spacingAndGlyphs">MM-free</text>
<text x="298.2" y="335.6" font-size="7.6" text-anchor="middle" fill="#222" stroke="#222" stroke-width="0.2" textLength="42.7" lengthAdjust="spacingAndGlyphs">Reporter<tspan font-size="5" stroke-width="0.08" dy="-3">neg</tspan></text>
<text x="35.7" y="351.9" font-size="7.6" text-anchor="middle" fill="#222" stroke="#222" stroke-width="0.2" textLength="10.6" lengthAdjust="spacingAndGlyphs">1.0</text>
<text x="67" y="351.9" font-size="7.6" text-anchor="middle" fill="#222" stroke="#222" stroke-width="0.2" textLength="10.6" lengthAdjust="spacingAndGlyphs">0.4</text>
<text x="118.5" y="351.9" font-size="7.6" text-anchor="middle" fill="#222" stroke="#222" stroke-width="0.2" textLength="15.4" lengthAdjust="spacingAndGlyphs">0.03</text>
<text x="150" y="351.9" font-size="7.6" text-anchor="middle" fill="#222" stroke="#222" stroke-width="0.2" textLength="15.4" lengthAdjust="spacingAndGlyphs">0.06</text>
<text x="197" y="351.9" font-size="7.6" text-anchor="middle" fill="#222" stroke="#222" stroke-width="0.2" textLength="15.4" lengthAdjust="spacingAndGlyphs">0.01</text>
<text x="228.7" y="351.9" font-size="7.6" text-anchor="middle" fill="#222" stroke="#222" stroke-width="0.2" textLength="15.4" lengthAdjust="spacingAndGlyphs">0.03</text>
<text x="274.6" y="351.9" font-size="7.6" text-anchor="middle" fill="#222" stroke="#222" stroke-width="0.2" textLength="15.4" lengthAdjust="spacingAndGlyphs">0.01</text>
<text x="306.2" y="351.9" font-size="7.6" text-anchor="middle" fill="#222" stroke="#222" stroke-width="0.2" textLength="15.4" lengthAdjust="spacingAndGlyphs">0.02</text>
<text x="14.4" y="399.4" font-size="9.6" text-anchor="middle" fill="#222" stroke="#222" stroke-width="0.3" textLength="32" lengthAdjust="spacingAndGlyphs" transform="rotate(-90 14.4 399.4)">IL-10 GFP</text>
<line x1="11.7" y1="380.4" x2="11.7" y2="365" stroke="#111" stroke-width="1.1"/>
<polygon points="11.7,359.3 8.3,366.6 15.1,366.6" fill="#111"/>
<text x="28.8" y="428.9" font-size="9.2" text-anchor="middle" fill="#222" stroke="#222" stroke-width="0.3" textLength="13.8" lengthAdjust="spacingAndGlyphs">CD3</text>
<line x1="39.4" y1="426" x2="53" y2="426" stroke="#111" stroke-width="1.1"/>
<polygon points="58.7,426 51.5,422.8 51.5,429.2" fill="#111"/>
<line x1="87" y1="425.8" x2="150" y2="425.8" stroke="#222" stroke-width="1.1"/>
<line x1="209.3" y1="425.8" x2="271.1" y2="425.8" stroke="#222" stroke-width="1.1"/>
<text x="179.6" y="428.6" font-size="8.6" text-anchor="middle" fill="#222" stroke="#222" stroke-width="0.3" textLength="10.8" lengthAdjust="spacingAndGlyphs">BM</text>
<path d="M385.9 328.7V420.9H465.3" stroke="#222" stroke-width="1.2" fill="none"/><line x1="382.4" y1="420.9" x2="385.9" y2="420.9" stroke="#222" stroke-width="1"/><text x="380.09999999999997" y="423.84999999999997" font-size="8.3" text-anchor="end" fill="#333" stroke="#333" stroke-width="0.32" textLength="12.3" lengthAdjust="spacingAndGlyphs">0.0</text><line x1="382.4" y1="398.4" x2="385.9" y2="398.4" stroke="#222" stroke-width="1"/><text x="380.09999999999997" y="401.34999999999997" font-size="8.3" text-anchor="end" fill="#333" stroke="#333" stroke-width="0.32" textLength="12.3" lengthAdjust="spacingAndGlyphs">0.5</text><line x1="382.4" y1="375.9" x2="385.9" y2="375.9" stroke="#222" stroke-width="1"/><text x="380.09999999999997" y="378.84999999999997" font-size="8.3" text-anchor="end" fill="#333" stroke="#333" stroke-width="0.32" textLength="12.3" lengthAdjust="spacingAndGlyphs">1.0</text><line x1="382.4" y1="353.4" x2="385.9" y2="353.4" stroke="#222" stroke-width="1"/><text x="380.09999999999997" y="356.34999999999997" font-size="8.3" text-anchor="end" fill="#333" stroke="#333" stroke-width="0.32" textLength="12.3" lengthAdjust="spacingAndGlyphs">1.5</text><line x1="382.4" y1="330.9" x2="385.9" y2="330.9" stroke="#222" stroke-width="1"/><text x="380.09999999999997" y="333.84999999999997" font-size="8.3" text-anchor="end" fill="#333" stroke="#333" stroke-width="0.32" textLength="12.3" lengthAdjust="spacingAndGlyphs">2.0</text><line x1="395.59999999999997" y1="420.9" x2="395.59999999999997" y2="423.7" stroke="#222" stroke-width="1"/><text x="395.59999999999997" y="434.2" font-size="8.3" text-anchor="middle" fill="#333" stroke="#333" stroke-width="0.32">1</text><line x1="412.5" y1="420.9" x2="412.5" y2="423.7" stroke="#222" stroke-width="1"/><text x="412.5" y="434.2" font-size="8.3" text-anchor="middle" fill="#333" stroke="#333" stroke-width="0.32">2</text><line x1="429.4" y1="420.9" x2="429.4" y2="423.7" stroke="#222" stroke-width="1"/><text x="429.4" y="434.2" font-size="8.3" text-anchor="middle" fill="#333" stroke="#333" stroke-width="0.32">3</text><line x1="446.29999999999995" y1="420.9" x2="446.29999999999995" y2="423.7" stroke="#222" stroke-width="1"/><text x="446.29999999999995" y="434.2" font-size="8.3" text-anchor="middle" fill="#333" stroke="#333" stroke-width="0.32">4</text><line x1="463.2" y1="420.9" x2="463.2" y2="423.7" stroke="#222" stroke-width="1"/><text x="463.2" y="434.2" font-size="8.3" text-anchor="middle" fill="#333" stroke="#333" stroke-width="0.32">5</text><text x="426.1" y="451.2" font-size="9.4" text-anchor="middle" fill="#222" stroke="#222" stroke-width="0.32" textLength="68.6" lengthAdjust="spacingAndGlyphs">Log [MM cells x10<tspan font-size="6.2" dy="-3.6">2</tspan><tspan dy="3.6">]</tspan></text><text x="362.3" y="374.4" font-size="8.4" text-anchor="middle" fill="#333" stroke="#333" stroke-width="0.32" textLength="50.9" lengthAdjust="spacingAndGlyphs" transform="rotate(-90 362.3 374.4)">%IL-10<tspan font-size="5.5" stroke-width="0.08" dy="-3.2">+</tspan><tspan dy="3.2"> in BM</tspan></text>
<path d="M424.2 355.0h0M433.8 369.2h0M444.0 376.0h0M453.7 378.7h0M454.0 380.0h0M454.0 381.5h0M456.2 388.3h0M434.8 388.8h0M425.8 393.1h0M425.4 398.8h0M431.0 401.2h0M436.0 399.2h0M441.2 394.6h0M448.8 396.0h0M453.1 401.7h0M404.2 387.3h0M398.8 396.9h0M386.0 417.5h0M389.8 418.5h0M391.7 417.9h0M394.6 412.1h0M400.4 417.5h0M401.0 416.0h0M406.0 412.0h0M406.0 415.5h0M406.0 418.5h0M411.0 416.5h0M412.9 416.5h0M424.4 414.6h0" stroke="#111" stroke-width="3.5" stroke-linecap="round" fill="none"/>
<line x1="387.9" y1="416.9" x2="454.2" y2="382.9" stroke="#111" stroke-width="1.2"/>
<text x="389.2" y="337.6" font-size="7.6" text-anchor="start" fill="#222" stroke="#222" stroke-width="0.1" textLength="30.4" lengthAdjust="spacingAndGlyphs"><tspan font-style="italic">r</tspan> = 0.737</text>
<text x="389.2" y="346.9" font-size="7.6" text-anchor="start" fill="#222" stroke="#222" stroke-width="0.1" textLength="27.5" lengthAdjust="spacingAndGlyphs"><tspan font-style="italic">P</tspan>&lt;.0001</text>
<path d="M385.9 461.7V553.8H465.3" stroke="#222" stroke-width="1.2" fill="none"/><line x1="382.4" y1="553.8" x2="385.9" y2="553.8" stroke="#222" stroke-width="1"/><text x="380.09999999999997" y="556.75" font-size="8.3" text-anchor="end" fill="#333" stroke="#333" stroke-width="0.32" textLength="12.3" lengthAdjust="spacingAndGlyphs">0.0</text><line x1="382.4" y1="531.3" x2="385.9" y2="531.3" stroke="#222" stroke-width="1"/><text x="380.09999999999997" y="534.25" font-size="8.3" text-anchor="end" fill="#333" stroke="#333" stroke-width="0.32" textLength="12.3" lengthAdjust="spacingAndGlyphs">0.5</text><line x1="382.4" y1="508.79999999999995" x2="385.9" y2="508.79999999999995" stroke="#222" stroke-width="1"/><text x="380.09999999999997" y="511.74999999999994" font-size="8.3" text-anchor="end" fill="#333" stroke="#333" stroke-width="0.32" textLength="12.3" lengthAdjust="spacingAndGlyphs">1.0</text><line x1="382.4" y1="486.29999999999995" x2="385.9" y2="486.29999999999995" stroke="#222" stroke-width="1"/><text x="380.09999999999997" y="489.24999999999994" font-size="8.3" text-anchor="end" fill="#333" stroke="#333" stroke-width="0.32" textLength="12.3" lengthAdjust="spacingAndGlyphs">1.5</text><line x1="382.4" y1="463.79999999999995" x2="385.9" y2="463.79999999999995" stroke="#222" stroke-width="1"/><text x="380.09999999999997" y="466.74999999999994" font-size="8.3" text-anchor="end" fill="#333" stroke="#333" stroke-width="0.32" textLength="12.3" lengthAdjust="spacingAndGlyphs">2.0</text><line x1="392.6" y1="553.8" x2="392.6" y2="556.5999999999999" stroke="#222" stroke-width="1"/><text x="392.6" y="567.6" font-size="8.3" text-anchor="middle" fill="#333" stroke="#333" stroke-width="0.32">1</text><line x1="404.43" y1="553.8" x2="404.43" y2="556.5999999999999" stroke="#222" stroke-width="1"/><text x="404.43" y="567.6" font-size="8.3" text-anchor="middle" fill="#333" stroke="#333" stroke-width="0.32">2</text><line x1="416.26000000000005" y1="553.8" x2="416.26000000000005" y2="556.5999999999999" stroke="#222" stroke-width="1"/><text x="416.26000000000005" y="567.6" font-size="8.3" text-anchor="middle" fill="#333" stroke="#333" stroke-width="0.32">3</text><line x1="428.09000000000003" y1="553.8" x2="428.09000000000003" y2="556.5999999999999" stroke="#222" stroke-width="1"/><text x="428.09000000000003" y="567.6" font-size="8.3" text-anchor="middle" fill="#333" stroke="#333" stroke-width="0.32">4</text><line x1="439.92" y1="553.8" x2="439.92" y2="556.5999999999999" stroke="#222" stroke-width="1"/><text x="439.92" y="567.6" font-size="8.3" text-anchor="middle" fill="#333" stroke="#333" stroke-width="0.32">5</text><line x1="451.75" y1="553.8" x2="451.75" y2="556.5999999999999" stroke="#222" stroke-width="1"/><text x="451.75" y="567.6" font-size="8.3" text-anchor="middle" fill="#333" stroke="#333" stroke-width="0.32">6</text><line x1="463.58000000000004" y1="553.8" x2="463.58000000000004" y2="556.5999999999999" stroke="#222" stroke-width="1"/><text x="463.58000000000004" y="567.6" font-size="8.3" text-anchor="middle" fill="#333" stroke="#333" stroke-width="0.32">7</text><text x="426.7" y="582.9" font-size="8.6" text-anchor="middle" fill="#222" stroke="#222" stroke-width="0.32" textLength="73.4" lengthAdjust="spacingAndGlyphs">Log [MM cells x10<tspan font-size="6.2" dy="-3.6">2</tspan><tspan dy="3.6">]</tspan></text><text x="362.3" y="507.0" font-size="8.4" text-anchor="middle" fill="#333" stroke="#333" stroke-width="0.32" textLength="62.3" lengthAdjust="spacingAndGlyphs" transform="rotate(-90 362.3 507.0)">% IL-10<tspan font-size="5.5" stroke-width="0.08" dy="-3.2">+</tspan><tspan dy="3.2"> in spleen</tspan></text>
<path d="M391.7 542.9h0M397.9 539.6h0M401.7 539.2h0M402.3 529.0h0M402.3 530.6h0M406.2 533.8h0M406.5 531.5h0M409.4 530.0h0M410.8 542.9h0M416.7 516.5h0M418.5 521.9h0M421.0 537.7h0M425.8 541.2h0M427.7 518.5h0M430.2 532.5h0M434.4 528.1h0M435.0 539.6h0M436.0 541.9h0M439.2 536.7h0M447.3 521.3h0M451.7 533.8h0M454.6 542.9h0M456.2 542.9h0M457.5 536.7h0M458.5 506.9h0M458.8 520.0h0M460.4 516.2h0M461.2 491.2h0M460.4 539.6h0M460.0 545.4h0M461.3 538.7h0M460.4 542.5h0" stroke="#111" stroke-width="3.5" stroke-linecap="round" fill="none"/>
<line x1="392.1" y1="535.4" x2="461.3" y2="528.7" stroke="#111" stroke-width="1.2"/>
<text x="389.2" y="470.8" font-size="7.6" text-anchor="start" fill="#222" stroke="#222" stroke-width="0.1" textLength="26.6" lengthAdjust="spacingAndGlyphs"><tspan font-style="italic">r</tspan> = 0.04</text>
<text x="389.2" y="479.9" font-size="7.6" text-anchor="start" fill="#222" stroke="#222" stroke-width="0.1" textLength="24" lengthAdjust="spacingAndGlyphs"><tspan font-style="italic">P</tspan> = .83</text>
<path d="M46.5 451.8V544.1H106.9" stroke="#222" stroke-width="1.2" fill="none"/>
<line x1="42.6" y1="544.1" x2="46.1" y2="544.1" stroke="#222" stroke-width="1"/>
<text x="41.1" y="547.1" font-size="8.3" text-anchor="end" fill="#333" stroke="#333" stroke-width="0.32" textLength="17.3" lengthAdjust="spacingAndGlyphs">0.00</text>
<line x1="42.6" y1="513.9" x2="46.1" y2="513.9" stroke="#222" stroke-width="1"/>
<text x="41.1" y="516.9" font-size="8.3" text-anchor="end" fill="#333" stroke="#333" stroke-width="0.32" textLength="17.3" lengthAdjust="spacingAndGlyphs">0.05</text>
<line x1="42.6" y1="483.70000000000005" x2="46.1" y2="483.70000000000005" stroke="#222" stroke-width="1"/>
<text x="41.1" y="486.70000000000005" font-size="8.3" text-anchor="end" fill="#333" stroke="#333" stroke-width="0.32" textLength="17.3" lengthAdjust="spacingAndGlyphs">0.10</text>
<line x1="42.6" y1="453.5" x2="46.1" y2="453.5" stroke="#222" stroke-width="1"/>
<text x="41.1" y="456.5" font-size="8.3" text-anchor="end" fill="#333" stroke="#333" stroke-width="0.32" textLength="17.3" lengthAdjust="spacingAndGlyphs">0.15</text>
<text x="18.4" y="497.4" font-size="8.3" text-anchor="middle" fill="#222" stroke="#222" stroke-width="0.32" textLength="84.7" lengthAdjust="spacingAndGlyphs" transform="rotate(-90 18.4 497.4)">IL-10<tspan font-size="5.5" stroke-width="0.08" dy="-3.3">+</tspan><tspan dy="3.3"> cells in BM (x10</tspan><tspan font-size="5.5" stroke-width="0.08" dy="-3.3">6</tspan><tspan dy="3.3">)</tspan></text>
<rect x="53.2" y="508.5" width="11.3" height="35.6" fill="#fff" stroke="#222" stroke-width="1.2"/>
<rect x="71.4" y="530.3" width="11.4" height="13.8" fill="#fff" stroke="#222" stroke-width="1.2"/>
<rect x="89.5" y="531.1" width="11.1" height="13.0" fill="#fff" stroke="#222" stroke-width="1.2"/>
<path d="M54.6 482.4h0M58.1 482.4h0M61.9 480.1h0M61.2 494.2h0M55.8 498.2h0M62.0 502.5h0M55.5 506.0h0M61.5 509.4h0M56.3 516.0h0M62.0 519.5h0M53.7 521.5h0M58.4 521.9h0M55.5 523.3h0M62.0 526.7h0M58.4 528.1h0M59.0 504.0h0M56.0 512.0h0" stroke="#7a3b98" stroke-width="3.9" stroke-linecap="round" fill="none"/>
<path d="M58.9 503.7V512.3M56.3 503.7H61.5M56.3 512.3H61.5" stroke="#222" stroke-width="1.0" fill="none"/>
<path d="M76.6 504.7h0M76.6 515.5h0M76.6 523.5h0M73.0 529.0h0M76.0 528.5h0M79.5 529.5h0M72.8 532.0h0M75.0 533.0h0M78.5 532.5h0M80.3 534.0h0M73.5 535.5h0M76.5 536.0h0M79.0 537.0h0M74.5 538.5h0M75.7 539.4h0M77.5 531.0h0" stroke="#e0661b" stroke-width="3.9" stroke-linecap="round" fill="none"/>
<path d="M77.1 527.3V533M74.5 527.3H79.69999999999999M74.5 533H79.69999999999999" stroke="#222" stroke-width="1.0" fill="none"/>
<path d="M91.8 519.2h0M97.2 517.2h0M95.2 519.9h0M93.2 522.6h0M91.0 527.5h0M96.0 527.3h0M98.8 528.5h0M93.5 530.0h0M95.5 532.0h0M91.5 533.5h0M98.0 534.0h0M90.8 536.5h0M94.0 537.0h0M97.0 538.0h0M92.5 539.8h0M95.5 540.0h0M99.0 531.0h0" stroke="#2f8a3b" stroke-width="3.9" stroke-linecap="round" fill="none"/>
<path d="M95 528.7V533.5M92.4 528.7H97.6M92.4 533.5H97.6" stroke="#222" stroke-width="1.0" fill="none"/>
<line x1="55.5" y1="459.5" x2="98.7" y2="459.5" stroke="#111" stroke-width="1.0"/>
<text x="77.0" y="460.7" font-size="9" text-anchor="middle" fill="#111" stroke="#111" stroke-width="0.32" textLength="10.2" lengthAdjust="spacingAndGlyphs">***</text>
<line x1="55.5" y1="473.5" x2="77.6" y2="473.5" stroke="#111" stroke-width="1.0"/>
<text x="66.4" y="474.7" font-size="9" text-anchor="middle" fill="#111" stroke="#111" stroke-width="0.32" textLength="10.2" lengthAdjust="spacingAndGlyphs">***</text>
<path d="M175.5 452.3V543.7H235.6" stroke="#222" stroke-width="1.2" fill="none"/>
<line x1="172" y1="543.8" x2="175.5" y2="543.8" stroke="#222" stroke-width="1"/>
<text x="170.4" y="546.8" font-size="8.3" text-anchor="end" fill="#222" stroke="#222" stroke-width="0.32">0</text>
<line x1="172" y1="521.4499999999999" x2="175.5" y2="521.4499999999999" stroke="#222" stroke-width="1"/>
<text x="170.4" y="524.4499999999999" font-size="8.3" text-anchor="end" fill="#222" stroke="#222" stroke-width="0.32">2</text>
<line x1="172" y1="499.09999999999997" x2="175.5" y2="499.09999999999997" stroke="#222" stroke-width="1"/>
<text x="170.4" y="502.09999999999997" font-size="8.3" text-anchor="end" fill="#222" stroke="#222" stroke-width="0.32">4</text>
<line x1="172" y1="476.74999999999994" x2="175.5" y2="476.74999999999994" stroke="#222" stroke-width="1"/>
<text x="170.4" y="479.74999999999994" font-size="8.3" text-anchor="end" fill="#222" stroke="#222" stroke-width="0.32">6</text>
<line x1="172" y1="454.4" x2="175.5" y2="454.4" stroke="#222" stroke-width="1"/>
<text x="170.4" y="457.4" font-size="8.3" text-anchor="end" fill="#222" stroke="#222" stroke-width="0.32">8</text>
<text x="147.4" y="498.1" font-size="9.2" text-anchor="middle" fill="#222" stroke="#222" stroke-width="0.32" textLength="40.2" lengthAdjust="spacingAndGlyphs" transform="rotate(-90 147.4 498.1)">IL-10<tspan font-size="5.8" stroke-width="0.08" dy="-3.5">+</tspan><tspan dy="3.5"> cells</tspan></text>
<text x="158.3" y="497.5" font-size="9.2" text-anchor="middle" fill="#222" stroke="#222" stroke-width="0.32" textLength="55.9" lengthAdjust="spacingAndGlyphs" transform="rotate(-90 158.3 497.5)">in spleen (x10<tspan font-size="5.8" stroke-width="0.08" dy="-3.5">6</tspan><tspan dy="3.5">)</tspan></text>
<rect x="181.5" y="515.3" width="11.0" height="28.4" fill="#fff" stroke="#222" stroke-width="1.2"/>
<rect x="199.2" y="537.1" width="11.0" height="6.6" fill="#fff" stroke="#222" stroke-width="1.2"/>
<rect x="217.1" y="539.2" width="11.5" height="4.5" fill="#fff" stroke="#222" stroke-width="1.2"/>
<path d="M189.6 477.1h0M184.1 480.8h0M184.1 501.3h0M189.6 502.2h0M186.8 509.7h0M189.0 515.3h0M185.5 517.0h0M186.9 524.0h0M183.2 527.9h0M186.9 532.3h0M189.6 537.5h0M184.1 538.9h0M185.0 512.0h0" stroke="#7a3b98" stroke-width="3.9" stroke-linecap="round" fill="none"/>
<path d="M187 508.8V521M184.4 508.8H189.6M184.4 521H189.6" stroke="#222" stroke-width="1.0" fill="none"/>
<path d="M202.0 530.0h0M207.5 530.5h0M207.2 537.0h0M206.4 539.0h0M204.4 539.8h0M202.4 539.0h0M201.6 537.0h0M202.4 535.0h0M204.4 534.2h0M206.4 535.0h0M204.4 537.0h0M204.4 540.0h0" stroke="#e0661b" stroke-width="3.9" stroke-linecap="round" fill="none"/>
<path d="M204.6 535.5V538.5M203.4 535.5H205.79999999999998M203.4 538.5H205.79999999999998" stroke="#222" stroke-width="0.8" fill="none"/>
<path d="M219.5 533.5h0M225.5 533.5h0M222.5 536.0h0M219.8 538.5h0M225.2 538.5h0M221.0 541.3h0M224.0 541.3h0M222.5 539.0h0" stroke="#2f8a3b" stroke-width="3.9" stroke-linecap="round" fill="none"/>
<line x1="183.3" y1="457.5" x2="227.0" y2="457.5" stroke="#111" stroke-width="1.0"/>
<text x="205.1" y="458.7" font-size="9" text-anchor="middle" fill="#111" stroke="#111" stroke-width="0.32" textLength="10.2" lengthAdjust="spacingAndGlyphs">***</text>
<line x1="183.3" y1="470.5" x2="206.0" y2="470.5" stroke="#111" stroke-width="1.0"/>
<text x="194.6" y="471.7" font-size="9" text-anchor="middle" fill="#111" stroke="#111" stroke-width="0.32" textLength="10.2" lengthAdjust="spacingAndGlyphs">***</text>
<path d="M258.4 486.0h0" stroke="#7a3b98" stroke-width="4.0" stroke-linecap="round" fill="none"/>
<text x="263" y="488.7" font-size="7.6" text-anchor="start" fill="#222" stroke="#222" stroke-width="0.12" textLength="45.8" lengthAdjust="spacingAndGlyphs">MM-relapsed</text>
<path d="M258.4 497.6h0" stroke="#e0661b" stroke-width="4.0" stroke-linecap="round" fill="none"/>
<text x="263" y="500.3" font-size="7.6" text-anchor="start" fill="#222" stroke="#222" stroke-width="0.12" textLength="51.5" lengthAdjust="spacingAndGlyphs">MM-controlled</text>
<path d="M258.4 509.1h0" stroke="#2f8a3b" stroke-width="4.0" stroke-linecap="round" fill="none"/>
<text x="263" y="511.8" font-size="7.6" text-anchor="start" fill="#222" stroke="#222" stroke-width="0.12" textLength="30.3" lengthAdjust="spacingAndGlyphs">MM-free</text>
<path d="M46 569.2V662.1H124.6" stroke="#222" stroke-width="1.2" fill="none"/>
<line x1="42.5" y1="662.1" x2="46" y2="662.1" stroke="#222" stroke-width="1"/>
<text x="41.0" y="665.1" font-size="8.3" text-anchor="end" fill="#333" stroke="#333" stroke-width="0.32">0</text>
<line x1="42.5" y1="632.2" x2="46" y2="632.2" stroke="#222" stroke-width="1"/>
<text x="41.0" y="635.2" font-size="8.3" text-anchor="end" fill="#333" stroke="#333" stroke-width="0.32">2</text>
<line x1="42.5" y1="602.3000000000001" x2="46" y2="602.3000000000001" stroke="#222" stroke-width="1"/>
<text x="41.0" y="605.3000000000001" font-size="8.3" text-anchor="end" fill="#333" stroke="#333" stroke-width="0.32">4</text>
<line x1="42.5" y1="572.4000000000001" x2="46" y2="572.4000000000001" stroke="#222" stroke-width="1"/>
<text x="41.0" y="575.4000000000001" font-size="8.3" text-anchor="end" fill="#333" stroke="#333" stroke-width="0.32">6</text>
<line x1="66.5" y1="662.1" x2="66.5" y2="665" stroke="#222" stroke-width="1"/>
<line x1="103.1" y1="662.1" x2="103.1" y2="665" stroke="#222" stroke-width="1"/>
<text x="66.5" y="677.3" font-size="8.4" text-anchor="middle" fill="#222" stroke="#222" stroke-width="0.32" textLength="19.6" lengthAdjust="spacingAndGlyphs">CD3+</text>
<text x="103.1" y="677.3" font-size="8.4" text-anchor="middle" fill="#222" stroke="#222" stroke-width="0.32" textLength="18.6" lengthAdjust="spacingAndGlyphs">CD3-</text>
<text x="29.4" y="616.0" font-size="8.9" text-anchor="middle" fill="#222" stroke="#222" stroke-width="0.32" textLength="76.3" lengthAdjust="spacingAndGlyphs" transform="rotate(-90 29.4 616.0)">BM IL-10<tspan font-size="5.8" stroke-width="0.08" dy="-3.5">+</tspan><tspan dy="3.5"> cells (x10</tspan><tspan font-size="5.8" stroke-width="0.08" dy="-3.5">4</tspan><tspan dy="3.5">)</tspan></text>
<rect x="51.2" y="635.8" width="8.6" height="26.3" fill="#7a3b98" stroke="#333" stroke-width="0.6"/>
<rect x="62.3" y="646.3" width="8.7" height="15.8" fill="#e0661b" stroke="#333" stroke-width="0.6"/>
<rect x="73.3" y="648.3" width="9.0" height="13.8" fill="#2f8a3b" stroke="#333" stroke-width="0.6"/>
<rect x="88.1" y="599" width="8.8" height="63.1" fill="#7a3b98" stroke="#333" stroke-width="0.6"/>
<rect x="99.2" y="635.6" width="8.7" height="26.5" fill="#e0661b" stroke="#333" stroke-width="0.6"/>
<rect x="110.4" y="643.3" width="9.0" height="18.8" fill="#2f8a3b" stroke="#333" stroke-width="0.6"/>
<path d="M55.5 631.3V639.6M53.1 631.3H57.9M53.1 639.6H57.9" stroke="#111" stroke-width="1.0" fill="none"/>
<path d="M66.6 644.2V648.7M64.19999999999999 644.2H69.0M64.19999999999999 648.7H69.0" stroke="#111" stroke-width="1.0" fill="none"/>
<path d="M77.8 646.7V649.6M75.39999999999999 646.7H80.2M75.39999999999999 649.6H80.2" stroke="#111" stroke-width="1.0" fill="none"/>
<path d="M92.5 591.3V606.3M90.1 591.3H94.9M90.1 606.3H94.9" stroke="#111" stroke-width="1.0" fill="none"/>
<path d="M103.5 627.5V643.5M101.1 627.5H105.9M101.1 643.5H105.9" stroke="#111" stroke-width="1.0" fill="none"/>
<path d="M114.9 639V647.3M112.5 639H117.30000000000001M112.5 647.3H117.30000000000001" stroke="#111" stroke-width="1.0" fill="none"/>
<line x1="54" y1="576.5" x2="88.7" y2="576.5" stroke="#111" stroke-width="1.0"/>
<text x="71.3" y="577.7" font-size="9" text-anchor="middle" fill="#111" stroke="#111" stroke-width="0.32" textLength="10.2" lengthAdjust="spacingAndGlyphs">***</text>
<line x1="91.5" y1="576.5" x2="119.4" y2="576.5" stroke="#111" stroke-width="1.0"/>
<text x="105.4" y="577.7" font-size="9" text-anchor="middle" fill="#111" stroke="#111" stroke-width="0.32" textLength="10.2" lengthAdjust="spacingAndGlyphs">***</text>
<line x1="91.9" y1="586.5" x2="106.9" y2="586.5" stroke="#111" stroke-width="1.0"/>
<text x="100.2" y="587.7" font-size="9" text-anchor="middle" fill="#111" stroke="#111" stroke-width="0.32" textLength="10.2" lengthAdjust="spacingAndGlyphs">***</text>
<line x1="53.5" y1="616.5" x2="81.9" y2="616.5" stroke="#111" stroke-width="1.0"/>
<text x="67.5" y="617.7" font-size="9" text-anchor="middle" fill="#111" stroke="#111" stroke-width="0.32" textLength="6.8" lengthAdjust="spacingAndGlyphs">**</text>
<line x1="53.5" y1="627.5" x2="68.5" y2="627.5" stroke="#111" stroke-width="1.0"/>
<text x="60.8" y="628.7" font-size="9" text-anchor="middle" fill="#111" stroke="#111" stroke-width="0.32" textLength="3.4" lengthAdjust="spacingAndGlyphs">*</text>
<path d="M174.4 569.8V662.1H252.3" stroke="#222" stroke-width="1.2" fill="none"/>
<line x1="170.9" y1="662.1" x2="174.4" y2="662.1" stroke="#222" stroke-width="1"/>
<text x="168.8" y="665.1" font-size="8.3" text-anchor="end" fill="#333" stroke="#333" stroke-width="0.32" textLength="12.3" lengthAdjust="spacingAndGlyphs">0.0</text>
<line x1="170.9" y1="644.2" x2="174.4" y2="644.2" stroke="#222" stroke-width="1"/>
<text x="168.8" y="647.2" font-size="8.3" text-anchor="end" fill="#333" stroke="#333" stroke-width="0.32" textLength="12.3" lengthAdjust="spacingAndGlyphs">0.5</text>
<line x1="170.9" y1="626.3000000000001" x2="174.4" y2="626.3000000000001" stroke="#222" stroke-width="1"/>
<text x="168.8" y="629.3000000000001" font-size="8.3" text-anchor="end" fill="#333" stroke="#333" stroke-width="0.32" textLength="12.3" lengthAdjust="spacingAndGlyphs">1.0</text>
<line x1="170.9" y1="608.4" x2="174.4" y2="608.4" stroke="#222" stroke-width="1"/>
<text x="168.8" y="611.4" font-size="8.3" text-anchor="end" fill="#333" stroke="#333" stroke-width="0.32" textLength="12.3" lengthAdjust="spacingAndGlyphs">1.5</text>
<line x1="170.9" y1="590.5" x2="174.4" y2="590.5" stroke="#222" stroke-width="1"/>
<text x="168.8" y="593.5" font-size="8.3" text-anchor="end" fill="#333" stroke="#333" stroke-width="0.32" textLength="12.3" lengthAdjust="spacingAndGlyphs">2.0</text>
<line x1="170.9" y1="572.6" x2="174.4" y2="572.6" stroke="#222" stroke-width="1"/>
<text x="168.8" y="575.6" font-size="8.3" text-anchor="end" fill="#333" stroke="#333" stroke-width="0.32" textLength="12.3" lengthAdjust="spacingAndGlyphs">2.5</text>
<line x1="194.6" y1="662.1" x2="194.6" y2="665" stroke="#222" stroke-width="1"/>
<line x1="231.5" y1="662.1" x2="231.5" y2="665" stroke="#222" stroke-width="1"/>
<text x="191.5" y="677.3" font-size="8.4" text-anchor="middle" fill="#222" stroke="#222" stroke-width="0.32" textLength="19.6" lengthAdjust="spacingAndGlyphs">CD3+</text>
<text x="229.4" y="677.3" font-size="8.4" text-anchor="middle" fill="#222" stroke="#222" stroke-width="0.32" textLength="18.6" lengthAdjust="spacingAndGlyphs">CD3-</text>
<text x="139.9" y="616.2" font-size="9.2" text-anchor="middle" fill="#222" stroke="#222" stroke-width="0.32" textLength="39.6" lengthAdjust="spacingAndGlyphs" transform="rotate(-90 139.9 616.2)">IL-10<tspan font-size="5.8" stroke-width="0.08" dy="-3.5">+</tspan><tspan dy="3.5"> cells</tspan></text>
<text x="150.4" y="615.8" font-size="9.2" text-anchor="middle" fill="#222" stroke="#222" stroke-width="0.32" textLength="55.6" lengthAdjust="spacingAndGlyphs" transform="rotate(-90 150.4 615.8)">in spleen (x10<tspan font-size="5.8" stroke-width="0.08" dy="-3.5">6</tspan><tspan dy="3.5">)</tspan></text>
<rect x="179.8" y="611.7" width="8.5" height="50.4" fill="#7a3b98" stroke="#333" stroke-width="0.6"/>
<rect x="190.8" y="647.1" width="8.6" height="15.0" fill="#e0661b" stroke="#333" stroke-width="0.6"/>
<rect x="201.9" y="652.9" width="8.7" height="9.2" fill="#2f8a3b" stroke="#333" stroke-width="0.6"/>
<rect x="216.7" y="601.5" width="8.7" height="60.6" fill="#7a3b98" stroke="#333" stroke-width="0.6"/>
<rect x="227.3" y="653.8" width="9.0" height="8.3" fill="#e0661b" stroke="#333" stroke-width="0.6"/>
<rect x="238.8" y="657.3" width="8.7" height="4.8" fill="#2f8a3b" stroke="#333" stroke-width="0.6"/>
<path d="M184 603.8V619.2M181.6 603.8H186.4M181.6 619.2H186.4" stroke="#111" stroke-width="1.0" fill="none"/>
<path d="M195.1 645.4V648.3M192.7 645.4H197.5M192.7 648.3H197.5" stroke="#111" stroke-width="1.0" fill="none"/>
<path d="M206.2 650.2V653.5M203.79999999999998 650.2H208.6M203.79999999999998 653.5H208.6" stroke="#111" stroke-width="1.0" fill="none"/>
<path d="M221 585.2V617.9M218.6 585.2H223.4M218.6 617.9H223.4" stroke="#111" stroke-width="1.0" fill="none"/>
<path d="M231.8 652.5V655.4M229.4 652.5H234.20000000000002M229.4 655.4H234.20000000000002" stroke="#111" stroke-width="1.0" fill="none"/>
<path d="M243.1 655.8V658.7M240.7 655.8H245.5M240.7 658.7H245.5" stroke="#111" stroke-width="1.0" fill="none"/>
<line x1="180.6" y1="590.5" x2="205.2" y2="590.5" stroke="#111" stroke-width="1.0"/>
<text x="192.7" y="591.7" font-size="9" text-anchor="middle" fill="#111" stroke="#111" stroke-width="0.32" textLength="10.2" lengthAdjust="spacingAndGlyphs">***</text>
<line x1="180.6" y1="599.5" x2="194.2" y2="599.5" stroke="#111" stroke-width="1.0"/>
<text x="187" y="600.7" font-size="9" text-anchor="middle" fill="#111" stroke="#111" stroke-width="0.32" textLength="10.2" lengthAdjust="spacingAndGlyphs">***</text>
<line x1="193.7" y1="638.5" x2="207.5" y2="638.5" stroke="#111" stroke-width="1.0"/>
<text x="200.4" y="639.7" font-size="9" text-anchor="middle" fill="#111" stroke="#111" stroke-width="0.32" textLength="3.4" lengthAdjust="spacingAndGlyphs">*</text>
<line x1="219" y1="573.5" x2="244" y2="573.5" stroke="#111" stroke-width="1.0"/>
<text x="231.5" y="574.7" font-size="9" text-anchor="middle" fill="#111" stroke="#111" stroke-width="0.32" textLength="10.2" lengthAdjust="spacingAndGlyphs">***</text>
<line x1="219" y1="581.5" x2="232.7" y2="581.5" stroke="#111" stroke-width="1.0"/>
<text x="226" y="582.7" font-size="9" text-anchor="middle" fill="#111" stroke="#111" stroke-width="0.32" textLength="10.2" lengthAdjust="spacingAndGlyphs">***</text>
<line x1="232.1" y1="643.5" x2="245.6" y2="643.5" stroke="#111" stroke-width="1.0"/>
<text x="238.8" y="644.7" font-size="9" text-anchor="middle" fill="#111" stroke="#111" stroke-width="0.32" textLength="3.4" lengthAdjust="spacingAndGlyphs">*</text>
<rect x="256.0" y="601.1" width="7.7" height="7.2" fill="#7a3b98" stroke="#444" stroke-width="0.3"/>
<text x="266.9" y="607.7" font-size="8.0" text-anchor="start" fill="#222" stroke="#222" stroke-width="0.2" textLength="45.0" lengthAdjust="spacingAndGlyphs">MM-relapsed</text>
<rect x="256.0" y="612.4" width="7.7" height="7.2" fill="#e0661b" stroke="#444" stroke-width="0.3"/>
<text x="266.9" y="619.0" font-size="8.0" text-anchor="start" fill="#222" stroke="#222" stroke-width="0.2" textLength="51.0" lengthAdjust="spacingAndGlyphs">MM-controlled</text>
<rect x="256.0" y="623.6" width="7.7" height="7.2" fill="#2f8a3b" stroke="#444" stroke-width="0.3"/>
<text x="266.9" y="630.2" font-size="8.0" text-anchor="start" fill="#222" stroke="#222" stroke-width="0.2" textLength="30" lengthAdjust="spacingAndGlyphs">MM-free</text>
<rect x="0.6" y="0.6" width="518.8" height="683.8" fill="none" stroke="#000" stroke-width="1.3"/>
</svg>
</body></html>
